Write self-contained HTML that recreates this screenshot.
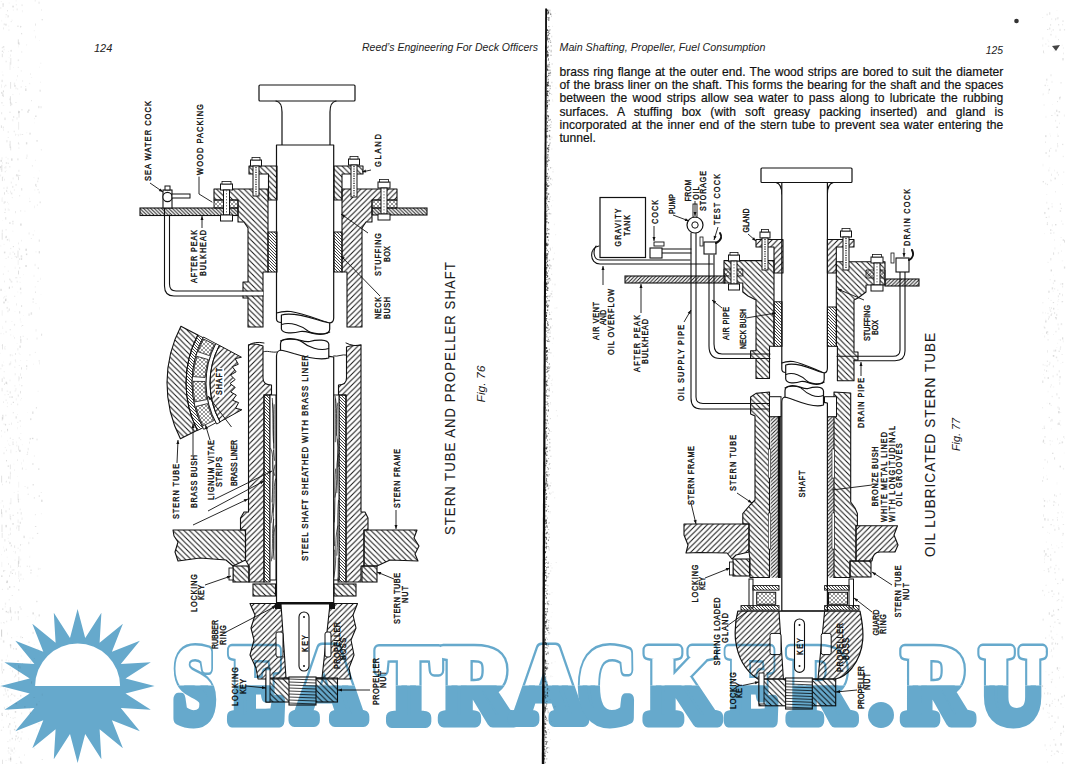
<!DOCTYPE html>
<html><head><meta charset="utf-8"><title>Reed's Engineering 124-125</title>
<style>html,body{margin:0;padding:0;background:#fff;overflow:hidden}svg{display:block}</style></head>
<body><svg width="1067" height="764" viewBox="0 0 1067 764"><defs>
<pattern id="h" patternUnits="userSpaceOnUse" width="4" height="4">
<path d="M-1,1 l2,-2 M0,4 l4,-4 M3,5 l2,-2" stroke="#111" stroke-width="0.95"/>
</pattern>
<pattern id="h2" patternUnits="userSpaceOnUse" width="4" height="4">
<path d="M-1,3 l2,2 M0,0 l4,4 M3,-1 l2,2" stroke="#111" stroke-width="0.95"/>
</pattern>
<pattern id="hs" patternUnits="userSpaceOnUse" width="5.5" height="5.5"><path d="M0,0 L5.5,5.5 M-1,4.5 L1,6.5 M4.5,-1 L6.5,1" stroke="#111" stroke-width="1"/></pattern>
<pattern id="ht" patternUnits="userSpaceOnUse" width="5.5" height="5.5"><path d="M0,5.5 L5.5,0 M-1,1 L1,-1 M4.5,6.5 L6.5,4.5" stroke="#111" stroke-width="1"/></pattern>
<pattern id="hb" patternUnits="userSpaceOnUse" width="3" height="3"><path d="M0,0 L3,3 M-1,2 L1,4 M2,-1 L4,1" stroke="#111" stroke-width="0.8"/></pattern>
<pattern id="hx" patternUnits="userSpaceOnUse" width="4" height="4"><path d="M0,0 L4,4 M0,4 L4,0" stroke="#444" stroke-width="0.55"/></pattern>
<pattern id="hp" patternUnits="userSpaceOnUse" width="3.6" height="3.6"><path d="M0,0 L3.6,3.6 M-1,2.6 L1,4.6 M2.6,-1 L4.6,1" stroke="#111" stroke-width="0.95"/></pattern>
<pattern id="hq" patternUnits="userSpaceOnUse" width="3.6" height="3.6"><path d="M0,3.6 L3.6,0 M-1,1 L1,-1 M2.6,4.6 L4.6,2.6" stroke="#111" stroke-width="0.95"/></pattern>
<clipPath id="topc"><rect x="0" y="0" width="1067" height="685.5"/></clipPath>
<clipPath id="botc"><rect x="0" y="685.5" width="1067" height="100"/></clipPath>
</defs>
<path d="M545.2,8.5 L547.0,8.5 L544.3,764 L541.8,764 Z" fill="#0d0d0d"/>
<rect x="546.1" y="253.2" width="1.1" height="0.7" fill="#222" opacity="0.71"/>
<rect x="546.1" y="413.4" width="0.6" height="1.2" fill="#222" opacity="0.65"/>
<rect x="547.6" y="36.8" width="0.7" height="0.7" fill="#222" opacity="0.63"/>
<rect x="548.7" y="329.2" width="0.7" height="0.9" fill="#222" opacity="0.37"/>
<rect x="550.4" y="482.5" width="1.1" height="1.1" fill="#222" opacity="0.11"/>
<rect x="544.2" y="746.1" width="1.3" height="0.9" fill="#222" opacity="0.74"/>
<rect x="546.5" y="117.5" width="0.8" height="1.6" fill="#222" opacity="0.72"/>
<rect x="547.8" y="145.0" width="1.1" height="1.0" fill="#222" opacity="0.56"/>
<rect x="545.3" y="422.3" width="0.6" height="0.8" fill="#222" opacity="0.74"/>
<rect x="545.9" y="522.5" width="0.9" height="1.3" fill="#222" opacity="0.63"/>
<rect x="546.1" y="350.9" width="1.2" height="1.4" fill="#222" opacity="0.67"/>
<rect x="547.6" y="192.9" width="1.0" height="1.7" fill="#222" opacity="0.56"/>
<rect x="545.3" y="559.6" width="1.4" height="0.7" fill="#222" opacity="0.68"/>
<rect x="548.1" y="324.4" width="0.7" height="1.2" fill="#222" opacity="0.44"/>
<rect x="548.6" y="38.1" width="1.2" height="1.3" fill="#222" opacity="0.51"/>
<rect x="545.0" y="669.9" width="1.2" height="1.3" fill="#222" opacity="0.67"/>
<rect x="546.2" y="446.6" width="1.3" height="1.7" fill="#222" opacity="0.62"/>
<rect x="547.4" y="366.7" width="0.6" height="1.4" fill="#222" opacity="0.51"/>
<rect x="554.0" y="497.4" width="1.3" height="0.9" fill="#222" opacity="0.08"/>
<rect x="547.7" y="300.0" width="0.6" height="1.2" fill="#222" opacity="0.51"/>
<rect x="546.5" y="135.5" width="0.6" height="1.5" fill="#222" opacity="0.72"/>
<rect x="546.9" y="106.2" width="0.9" height="1.6" fill="#222" opacity="0.69"/>
<rect x="547.6" y="69.4" width="1.0" height="1.7" fill="#222" opacity="0.62"/>
<rect x="548.1" y="627.5" width="0.8" height="1.1" fill="#222" opacity="0.31"/>
<rect x="549.7" y="279.6" width="1.4" height="0.8" fill="#222" opacity="0.28"/>
<rect x="546.7" y="141.6" width="0.8" height="1.2" fill="#222" opacity="0.69"/>
<rect x="545.7" y="453.6" width="0.6" height="1.1" fill="#222" opacity="0.68"/>
<rect x="547.2" y="287.5" width="1.4" height="1.4" fill="#222" opacity="0.57"/>
<rect x="547.1" y="398.0" width="1.1" height="0.7" fill="#222" opacity="0.54"/>
<rect x="547.0" y="688.1" width="1.3" height="1.6" fill="#222" opacity="0.42"/>
<rect x="546.6" y="304.9" width="0.7" height="1.4" fill="#222" opacity="0.64"/>
<rect x="546.7" y="55.5" width="0.8" height="0.8" fill="#222" opacity="0.73"/>
<rect x="545.9" y="265.4" width="0.6" height="0.8" fill="#222" opacity="0.74"/>
<rect x="547.2" y="85.2" width="0.6" height="1.6" fill="#222" opacity="0.65"/>
<rect x="545.3" y="472.4" width="0.8" height="1.0" fill="#222" opacity="0.71"/>
<rect x="546.0" y="283.6" width="1.3" height="1.8" fill="#222" opacity="0.72"/>
<rect x="546.6" y="360.6" width="0.7" height="0.7" fill="#222" opacity="0.61"/>
<rect x="546.3" y="267.4" width="1.3" height="0.8" fill="#222" opacity="0.68"/>
<rect x="552.1" y="25.9" width="1.0" height="0.8" fill="#222" opacity="0.09"/>
<rect x="545.3" y="418.9" width="1.0" height="1.8" fill="#222" opacity="0.74"/>
<rect x="546.5" y="660.7" width="0.8" height="1.0" fill="#222" opacity="0.49"/>
<rect x="548.9" y="134.7" width="1.0" height="1.5" fill="#222" opacity="0.43"/>
<rect x="546.3" y="257.6" width="1.2" height="1.8" fill="#222" opacity="0.69"/>
<rect x="547.4" y="652.7" width="1.3" height="1.5" fill="#222" opacity="0.39"/>
<rect x="547.4" y="179.8" width="0.9" height="0.6" fill="#222" opacity="0.59"/>
<rect x="547.2" y="29.6" width="0.8" height="1.4" fill="#222" opacity="0.68"/>
<rect x="545.2" y="731.1" width="1.3" height="1.8" fill="#222" opacity="0.62"/>
<rect x="544.9" y="730.0" width="0.8" height="0.9" fill="#222" opacity="0.65"/>
<rect x="546.6" y="157.1" width="1.1" height="1.7" fill="#222" opacity="0.70"/>
<rect x="545.6" y="643.4" width="1.1" height="1.6" fill="#222" opacity="0.61"/>
<rect x="548.4" y="72.6" width="1.3" height="1.5" fill="#222" opacity="0.51"/>
<rect x="545.9" y="575.2" width="0.7" height="1.5" fill="#222" opacity="0.61"/>
<rect x="548.7" y="259.7" width="1.4" height="1.1" fill="#222" opacity="0.40"/>
<rect x="551.0" y="311.7" width="1.2" height="0.8" fill="#222" opacity="0.11"/>
<rect x="546.7" y="104.5" width="1.3" height="1.6" fill="#222" opacity="0.71"/>
<rect x="549.5" y="118.9" width="1.4" height="1.4" fill="#222" opacity="0.37"/>
<rect x="547.2" y="273.2" width="0.7" height="0.6" fill="#222" opacity="0.58"/>
<rect x="546.0" y="742.0" width="1.0" height="1.7" fill="#222" opacity="0.52"/>
<rect x="549.3" y="336.2" width="1.3" height="0.9" fill="#222" opacity="0.30"/>
<rect x="546.7" y="198.8" width="0.8" height="1.3" fill="#222" opacity="0.67"/>
<rect x="547.0" y="204.5" width="0.7" height="1.7" fill="#222" opacity="0.63"/>
<rect x="546.9" y="275.8" width="1.1" height="1.7" fill="#222" opacity="0.62"/>
<rect x="550.1" y="326.3" width="1.0" height="1.2" fill="#222" opacity="0.21"/>
<rect x="545.3" y="404.0" width="1.0" height="0.8" fill="#222" opacity="0.75"/>
<rect x="549.6" y="11.5" width="0.7" height="1.2" fill="#222" opacity="0.40"/>
<rect x="546.2" y="556.4" width="0.9" height="1.2" fill="#222" opacity="0.57"/>
<rect x="548.0" y="428.1" width="0.7" height="1.3" fill="#222" opacity="0.42"/>
<rect x="546.6" y="196.2" width="1.2" height="1.2" fill="#222" opacity="0.68"/>
<rect x="547.8" y="432.9" width="1.3" height="1.1" fill="#222" opacity="0.44"/>
<rect x="546.3" y="471.3" width="1.0" height="1.4" fill="#222" opacity="0.60"/>
<rect x="546.9" y="350.2" width="1.0" height="1.7" fill="#222" opacity="0.58"/>
<rect x="548.6" y="536.8" width="1.4" height="0.9" fill="#222" opacity="0.29"/>
<rect x="550.4" y="431.2" width="1.3" height="0.8" fill="#222" opacity="0.12"/>
<rect x="547.4" y="100.4" width="0.7" height="0.9" fill="#222" opacity="0.62"/>
<rect x="548.5" y="63.7" width="1.2" height="1.7" fill="#222" opacity="0.51"/>
<rect x="548.6" y="125.2" width="1.1" height="0.8" fill="#222" opacity="0.48"/>
<rect x="550.5" y="675.5" width="0.8" height="1.7" fill="#222" opacity="0.08"/>
<rect x="546.8" y="309.4" width="1.4" height="1.6" fill="#222" opacity="0.60"/>
<rect x="547.3" y="130.5" width="1.0" height="1.0" fill="#222" opacity="0.63"/>
<rect x="546.9" y="156.4" width="1.2" height="0.6" fill="#222" opacity="0.67"/>
<rect x="546.3" y="427.1" width="0.6" height="1.0" fill="#222" opacity="0.62"/>
<rect x="546.3" y="479.9" width="0.7" height="1.8" fill="#222" opacity="0.59"/>
<rect x="551.1" y="604.1" width="0.7" height="0.9" fill="#222" opacity="0.08"/>
<rect x="549.3" y="38.4" width="0.8" height="0.8" fill="#222" opacity="0.42"/>
<rect x="550.0" y="327.5" width="1.3" height="0.9" fill="#222" opacity="0.22"/>
<rect x="550.9" y="121.3" width="1.1" height="1.4" fill="#222" opacity="0.20"/>
<rect x="546.6" y="76.1" width="1.2" height="1.1" fill="#222" opacity="0.74"/>
<rect x="551.6" y="63.2" width="1.1" height="1.6" fill="#222" opacity="0.14"/>
<rect x="550.0" y="71.8" width="0.7" height="1.6" fill="#222" opacity="0.33"/>
<rect x="546.2" y="351.3" width="1.0" height="1.7" fill="#222" opacity="0.66"/>
<rect x="546.2" y="210.9" width="1.0" height="0.9" fill="#222" opacity="0.72"/>
<rect x="546.7" y="91.2" width="0.6" height="0.8" fill="#222" opacity="0.71"/>
<rect x="546.5" y="244.2" width="1.2" height="0.9" fill="#222" opacity="0.67"/>
<rect x="545.7" y="386.3" width="0.9" height="0.6" fill="#222" opacity="0.71"/>
<rect x="546.1" y="197.7" width="1.2" height="1.3" fill="#222" opacity="0.75"/>
<rect x="547.4" y="151.6" width="1.3" height="0.7" fill="#222" opacity="0.61"/>
<rect x="545.5" y="627.2" width="1.0" height="1.6" fill="#222" opacity="0.63"/>
<rect x="546.9" y="305.5" width="1.2" height="1.8" fill="#222" opacity="0.60"/>
<rect x="549.0" y="267.4" width="1.2" height="1.4" fill="#222" opacity="0.36"/>
<rect x="546.4" y="314.2" width="0.6" height="0.8" fill="#222" opacity="0.66"/>
<rect x="549.0" y="61.9" width="0.8" height="0.8" fill="#222" opacity="0.46"/>
<rect x="549.8" y="72.3" width="1.3" height="1.4" fill="#222" opacity="0.35"/>
<rect x="546.4" y="221.5" width="0.8" height="1.2" fill="#222" opacity="0.69"/>
<rect x="547.3" y="127.5" width="0.8" height="1.8" fill="#222" opacity="0.62"/>
<rect x="545.5" y="743.3" width="0.8" height="1.8" fill="#222" opacity="0.58"/>
<rect x="546.7" y="242.4" width="0.6" height="1.1" fill="#222" opacity="0.65"/>
<rect x="546.7" y="367.1" width="0.8" height="1.2" fill="#222" opacity="0.60"/>
<rect x="547.2" y="12.2" width="0.7" height="1.1" fill="#222" opacity="0.68"/>
<rect x="546.6" y="40.0" width="0.8" height="0.9" fill="#222" opacity="0.75"/>
<rect x="546.5" y="450.9" width="1.2" height="1.4" fill="#222" opacity="0.59"/>
<rect x="548.6" y="549.4" width="0.9" height="1.0" fill="#222" opacity="0.29"/>
<rect x="544.3" y="752.5" width="1.2" height="1.4" fill="#222" opacity="0.71"/>
<rect x="549.9" y="41.6" width="1.3" height="1.4" fill="#222" opacity="0.36"/>
<rect x="547.8" y="562.9" width="0.7" height="1.2" fill="#222" opacity="0.39"/>
<rect x="548.6" y="389.6" width="1.2" height="1.6" fill="#222" opacity="0.36"/>
<rect x="549.2" y="449.8" width="1.1" height="1.4" fill="#222" opacity="0.26"/>
<rect x="546.1" y="182.2" width="0.7" height="1.0" fill="#222" opacity="0.74"/>
<rect x="549.7" y="87.8" width="1.0" height="1.4" fill="#222" opacity="0.36"/>
<rect x="547.1" y="481.6" width="1.0" height="0.6" fill="#222" opacity="0.50"/>
<rect x="547.1" y="611.2" width="1.0" height="1.2" fill="#222" opacity="0.45"/>
<rect x="545.0" y="506.6" width="1.2" height="0.9" fill="#222" opacity="0.74"/>
<rect x="547.1" y="64.7" width="1.2" height="0.8" fill="#222" opacity="0.68"/>
<rect x="551.5" y="567.4" width="1.0" height="1.1" fill="#222" opacity="0.08"/>
<rect x="547.5" y="370.4" width="1.2" height="1.3" fill="#222" opacity="0.50"/>
<rect x="545.1" y="494.1" width="0.7" height="0.9" fill="#222" opacity="0.73"/>
<rect x="545.4" y="570.0" width="1.1" height="0.6" fill="#222" opacity="0.67"/>
<rect x="547.1" y="54.3" width="1.1" height="1.4" fill="#222" opacity="0.68"/>
<rect x="545.5" y="519.0" width="1.0" height="1.2" fill="#222" opacity="0.68"/>
<rect x="545.7" y="360.8" width="1.3" height="0.8" fill="#222" opacity="0.72"/>
<rect x="549.1" y="747.5" width="0.6" height="1.2" fill="#222" opacity="0.15"/>
<rect x="550.8" y="627.9" width="1.0" height="0.9" fill="#222" opacity="0.08"/>
<rect x="551.4" y="167.0" width="0.8" height="1.3" fill="#222" opacity="0.11"/>
<rect x="547.7" y="115.6" width="1.4" height="0.8" fill="#222" opacity="0.59"/>
<rect x="545.8" y="628.2" width="1.3" height="1.4" fill="#222" opacity="0.59"/>
<rect x="550.2" y="183.3" width="1.0" height="0.6" fill="#222" opacity="0.25"/>
<rect x="547.9" y="11.2" width="1.0" height="1.0" fill="#222" opacity="0.60"/>
<rect x="547.1" y="114.8" width="0.9" height="1.6" fill="#222" opacity="0.66"/>
<rect x="549.2" y="9.8" width="1.3" height="0.7" fill="#222" opacity="0.45"/>
<rect x="546.5" y="708.4" width="1.3" height="0.9" fill="#222" opacity="0.48"/>
<rect x="546.6" y="289.7" width="1.4" height="1.3" fill="#222" opacity="0.64"/>
<rect x="546.7" y="281.0" width="0.8" height="0.7" fill="#222" opacity="0.63"/>
<rect x="549.7" y="85.3" width="0.8" height="1.7" fill="#222" opacity="0.36"/>
<rect x="546.6" y="196.9" width="1.0" height="0.8" fill="#222" opacity="0.68"/>
<rect x="551.4" y="290.6" width="1.3" height="1.6" fill="#222" opacity="0.08"/>
<rect x="549.4" y="485.1" width="1.4" height="1.3" fill="#222" opacity="0.22"/>
<rect x="544.8" y="552.1" width="1.2" height="1.1" fill="#222" opacity="0.74"/>
<rect x="546.5" y="577.1" width="0.8" height="0.7" fill="#222" opacity="0.52"/>
<rect x="544.4" y="708.7" width="1.0" height="1.0" fill="#222" opacity="0.72"/>
<rect x="548.3" y="233.5" width="1.4" height="0.9" fill="#222" opacity="0.46"/>
<rect x="545.6" y="504.1" width="1.0" height="1.1" fill="#222" opacity="0.67"/>
<rect x="546.6" y="134.9" width="0.8" height="1.7" fill="#222" opacity="0.71"/>
<rect x="545.8" y="384.0" width="1.3" height="1.8" fill="#222" opacity="0.70"/>
<rect x="545.8" y="348.4" width="0.8" height="0.7" fill="#222" opacity="0.72"/>
<rect x="546.0" y="266.8" width="0.8" height="0.9" fill="#222" opacity="0.73"/>
<rect x="549.1" y="438.8" width="1.2" height="1.1" fill="#222" opacity="0.27"/>
<rect x="546.9" y="321.2" width="0.9" height="1.0" fill="#222" opacity="0.59"/>
<rect x="547.1" y="55.4" width="1.4" height="0.8" fill="#222" opacity="0.68"/>
<rect x="547.1" y="388.8" width="1.3" height="0.9" fill="#222" opacity="0.53"/>
<rect x="546.5" y="213.3" width="0.9" height="1.1" fill="#222" opacity="0.69"/>
<rect x="547.6" y="729.2" width="1.3" height="0.6" fill="#222" opacity="0.34"/>
<rect x="548.9" y="32.9" width="1.3" height="1.2" fill="#222" opacity="0.48"/>
<rect x="545.1" y="452.1" width="0.9" height="1.7" fill="#222" opacity="0.75"/>
<rect x="548.0" y="632.2" width="1.4" height="0.9" fill="#222" opacity="0.33"/>
<rect x="546.7" y="90.9" width="1.0" height="1.4" fill="#222" opacity="0.71"/>
<rect x="546.5" y="719.8" width="1.1" height="1.5" fill="#222" opacity="0.47"/>
<rect x="546.9" y="354.0" width="0.6" height="1.5" fill="#222" opacity="0.58"/>
<rect x="550.7" y="184.2" width="1.1" height="1.0" fill="#222" opacity="0.20"/>
<rect x="546.9" y="105.2" width="1.1" height="1.4" fill="#222" opacity="0.69"/>
<rect x="546.5" y="93.2" width="1.0" height="1.3" fill="#222" opacity="0.73"/>
<rect x="546.1" y="301.7" width="1.1" height="0.6" fill="#222" opacity="0.69"/>
<rect x="547.0" y="236.3" width="1.4" height="1.4" fill="#222" opacity="0.62"/>
<rect x="545.5" y="676.2" width="0.8" height="0.9" fill="#222" opacity="0.61"/>
<rect x="546.3" y="734.2" width="0.8" height="0.6" fill="#222" opacity="0.48"/>
<rect x="547.4" y="385.0" width="0.9" height="0.9" fill="#222" opacity="0.51"/>
<rect x="549.6" y="512.7" width="0.8" height="0.6" fill="#222" opacity="0.18"/>
<rect x="546.8" y="263.9" width="1.1" height="0.8" fill="#222" opacity="0.63"/>
<rect x="547.0" y="610.7" width="1.0" height="0.8" fill="#222" opacity="0.46"/>
<rect x="544.8" y="741.2" width="1.3" height="0.9" fill="#222" opacity="0.67"/>
<rect x="548.7" y="175.8" width="0.8" height="1.7" fill="#222" opacity="0.44"/>
<rect x="545.7" y="383.1" width="0.8" height="1.1" fill="#222" opacity="0.70"/>
<rect x="550.3" y="511.1" width="0.7" height="1.1" fill="#222" opacity="0.10"/>
<rect x="552.8" y="169.4" width="0.7" height="0.7" fill="#222" opacity="0.08"/>
<rect x="547.4" y="53.9" width="1.3" height="1.7" fill="#222" opacity="0.64"/>
<rect x="555.6" y="562.1" width="1.3" height="1.0" fill="#222" opacity="0.08"/>
<rect x="551.2" y="148.7" width="1.2" height="0.6" fill="#222" opacity="0.15"/>
<rect x="545.8" y="510.5" width="0.9" height="1.0" fill="#222" opacity="0.65"/>
<rect x="546.2" y="136.4" width="0.8" height="1.0" fill="#222" opacity="0.75"/>
<rect x="544.4" y="730.4" width="1.4" height="0.8" fill="#222" opacity="0.72"/>
<rect x="548.9" y="277.9" width="1.3" height="1.1" fill="#222" opacity="0.37"/>
<rect x="547.7" y="45.7" width="0.9" height="1.7" fill="#222" opacity="0.61"/>
<rect x="547.0" y="154.3" width="1.3" height="0.6" fill="#222" opacity="0.65"/>
<rect x="548.6" y="318.9" width="1.2" height="0.6" fill="#222" opacity="0.39"/>
<rect x="546.7" y="34.8" width="1.3" height="0.9" fill="#222" opacity="0.74"/>
<rect x="548.8" y="573.1" width="0.9" height="0.9" fill="#222" opacity="0.25"/>
<rect x="545.9" y="732.0" width="0.8" height="1.5" fill="#222" opacity="0.54"/>
<rect x="546.4" y="247.6" width="0.6" height="1.5" fill="#222" opacity="0.68"/>
<rect x="546.1" y="700.9" width="1.4" height="0.6" fill="#222" opacity="0.53"/>
<rect x="547.2" y="185.2" width="1.4" height="1.7" fill="#222" opacity="0.61"/>
<rect x="546.2" y="300.5" width="0.9" height="1.2" fill="#222" opacity="0.69"/>
<rect x="544.6" y="709.7" width="1.2" height="1.5" fill="#222" opacity="0.71"/>
<rect x="547.2" y="630.1" width="1.1" height="1.0" fill="#222" opacity="0.43"/>
<rect x="546.7" y="249.9" width="1.2" height="0.7" fill="#222" opacity="0.65"/>
<rect x="548.7" y="157.6" width="0.8" height="0.7" fill="#222" opacity="0.45"/>
<rect x="548.1" y="34.1" width="0.9" height="1.8" fill="#222" opacity="0.57"/>
<rect x="552.3" y="676.0" width="0.8" height="0.7" fill="#222" opacity="0.08"/>
<rect x="547.7" y="81.3" width="1.2" height="1.1" fill="#222" opacity="0.60"/>
<rect x="547.0" y="185.4" width="1.1" height="1.4" fill="#222" opacity="0.63"/>
<rect x="548.1" y="573.6" width="1.1" height="0.7" fill="#222" opacity="0.34"/>
<rect x="545.1" y="643.8" width="1.1" height="1.0" fill="#222" opacity="0.67"/>
<rect x="545.1" y="566.1" width="0.8" height="0.9" fill="#222" opacity="0.70"/>
<rect x="550.2" y="124.3" width="1.1" height="1.0" fill="#222" opacity="0.28"/>
<rect x="554.5" y="307.7" width="1.0" height="0.9" fill="#222" opacity="0.08"/>
<rect x="546.4" y="619.3" width="1.4" height="0.7" fill="#222" opacity="0.52"/>
<rect x="548.5" y="367.2" width="1.3" height="1.7" fill="#222" opacity="0.38"/>
<rect x="547.2" y="39.0" width="0.7" height="0.8" fill="#222" opacity="0.67"/>
<rect x="545.7" y="743.6" width="1.3" height="1.0" fill="#222" opacity="0.56"/>
<rect x="545.4" y="662.9" width="0.8" height="1.5" fill="#222" opacity="0.62"/>
<rect x="544.3" y="723.0" width="1.1" height="1.3" fill="#222" opacity="0.73"/>
<rect x="546.9" y="172.9" width="0.7" height="0.8" fill="#222" opacity="0.65"/>
<rect x="547.7" y="201.1" width="1.1" height="0.8" fill="#222" opacity="0.55"/>
<rect x="547.4" y="17.1" width="1.1" height="0.8" fill="#222" opacity="0.66"/>
<rect x="546.3" y="244.4" width="1.2" height="1.3" fill="#222" opacity="0.70"/>
<rect x="546.7" y="56.3" width="0.9" height="1.3" fill="#222" opacity="0.73"/>
<rect x="545.1" y="491.4" width="0.7" height="1.4" fill="#222" opacity="0.73"/>
<rect x="546.2" y="318.1" width="0.8" height="1.7" fill="#222" opacity="0.68"/>
<rect x="547.4" y="244.5" width="0.9" height="1.1" fill="#222" opacity="0.57"/>
<rect x="554.7" y="661.4" width="0.9" height="0.8" fill="#222" opacity="0.08"/>
<rect x="545.1" y="558.5" width="0.6" height="1.7" fill="#222" opacity="0.70"/>
<rect x="548.7" y="328.6" width="0.9" height="1.7" fill="#222" opacity="0.38"/>
<rect x="545.8" y="356.7" width="0.6" height="1.3" fill="#222" opacity="0.71"/>
<rect x="549.3" y="492.5" width="0.7" height="1.3" fill="#222" opacity="0.23"/>
<rect x="547.0" y="288.7" width="0.7" height="0.9" fill="#222" opacity="0.60"/>
<rect x="550.0" y="402.2" width="0.7" height="1.2" fill="#222" opacity="0.18"/>
<rect x="550.7" y="616.5" width="0.8" height="0.8" fill="#222" opacity="0.08"/>
<rect x="550.9" y="721.0" width="1.0" height="0.7" fill="#222" opacity="0.08"/>
<rect x="545.1" y="708.2" width="1.3" height="1.3" fill="#222" opacity="0.64"/>
<rect x="544.8" y="631.5" width="1.2" height="0.9" fill="#222" opacity="0.71"/>
<rect x="549.0" y="314.1" width="1.3" height="0.8" fill="#222" opacity="0.34"/>
<rect x="547.0" y="173.3" width="1.0" height="1.1" fill="#222" opacity="0.64"/>
<rect x="546.9" y="101.5" width="1.2" height="1.7" fill="#222" opacity="0.69"/>
<rect x="548.1" y="39.6" width="1.2" height="0.6" fill="#222" opacity="0.57"/>
<rect x="544.7" y="641.8" width="1.1" height="1.3" fill="#222" opacity="0.72"/>
<rect x="545.7" y="482.2" width="0.9" height="1.3" fill="#222" opacity="0.67"/>
<rect x="547.5" y="330.1" width="1.0" height="1.1" fill="#222" opacity="0.52"/>
<rect x="548.4" y="26.2" width="1.0" height="0.9" fill="#222" opacity="0.54"/>
<rect x="547.4" y="585.4" width="1.0" height="0.8" fill="#222" opacity="0.42"/>
<rect x="545.6" y="366.0" width="0.7" height="1.1" fill="#222" opacity="0.73"/>
<rect x="547.5" y="77.8" width="1.0" height="0.6" fill="#222" opacity="0.62"/>
<rect x="545.1" y="489.3" width="1.2" height="1.5" fill="#222" opacity="0.73"/>
<rect x="545.4" y="394.9" width="1.0" height="1.1" fill="#222" opacity="0.74"/>
<rect x="544.4" y="726.9" width="1.3" height="1.8" fill="#222" opacity="0.72"/>
<rect x="547.8" y="561.6" width="0.8" height="1.8" fill="#222" opacity="0.38"/>
<rect x="551.1" y="380.1" width="1.3" height="0.8" fill="#222" opacity="0.08"/>
<rect x="549.4" y="604.1" width="0.7" height="1.0" fill="#222" opacity="0.17"/>
<rect x="545.0" y="579.8" width="1.3" height="0.9" fill="#222" opacity="0.71"/>
<rect x="544.8" y="624.7" width="1.0" height="1.7" fill="#222" opacity="0.72"/>
<rect x="546.7" y="165.9" width="1.0" height="1.0" fill="#222" opacity="0.68"/>
<rect x="547.0" y="36.3" width="0.7" height="1.7" fill="#222" opacity="0.71"/>
<rect x="549.0" y="522.0" width="0.7" height="1.5" fill="#222" opacity="0.26"/>
<rect x="547.8" y="95.4" width="1.1" height="1.0" fill="#222" opacity="0.58"/>
<rect x="545.8" y="668.0" width="1.1" height="1.7" fill="#222" opacity="0.57"/>
<rect x="555.4" y="87.5" width="1.1" height="1.1" fill="#222" opacity="0.08"/>
<rect x="545.1" y="611.1" width="1.4" height="1.3" fill="#222" opacity="0.68"/>
<rect x="548.4" y="280.7" width="1.0" height="0.8" fill="#222" opacity="0.43"/>
<rect x="544.8" y="570.3" width="1.3" height="0.9" fill="#222" opacity="0.74"/>
<rect x="552.5" y="491.4" width="1.1" height="1.4" fill="#222" opacity="0.08"/>
<rect x="545.9" y="244.7" width="0.6" height="0.8" fill="#222" opacity="0.75"/>
<rect x="546.1" y="473.9" width="1.0" height="1.7" fill="#222" opacity="0.63"/>
<rect x="546.8" y="108.2" width="1.1" height="0.6" fill="#222" opacity="0.69"/>
<rect x="547.5" y="10.5" width="0.7" height="1.0" fill="#222" opacity="0.65"/>
<rect x="547.7" y="177.9" width="1.1" height="0.8" fill="#222" opacity="0.56"/>
<rect x="546.2" y="479.9" width="0.7" height="1.7" fill="#222" opacity="0.61"/>
<rect x="546.3" y="192.5" width="0.7" height="1.4" fill="#222" opacity="0.71"/>
<rect x="547.1" y="666.8" width="0.9" height="0.9" fill="#222" opacity="0.42"/>
<rect x="548.6" y="17.2" width="1.0" height="1.0" fill="#222" opacity="0.52"/>
<rect x="546.0" y="496.3" width="1.3" height="1.5" fill="#222" opacity="0.62"/>
<rect x="550.3" y="196.2" width="0.6" height="1.2" fill="#222" opacity="0.24"/>
<rect x="546.1" y="315.2" width="0.6" height="1.5" fill="#222" opacity="0.69"/>
<rect x="548.1" y="17.8" width="1.4" height="0.8" fill="#222" opacity="0.58"/>
<rect x="547.9" y="159.2" width="1.0" height="1.4" fill="#222" opacity="0.55"/>
<rect x="544.9" y="623.0" width="0.8" height="1.0" fill="#222" opacity="0.71"/>
<rect x="550.6" y="45.1" width="1.2" height="1.5" fill="#222" opacity="0.27"/>
<rect x="550.1" y="13.3" width="1.2" height="1.2" fill="#222" opacity="0.34"/>
<rect x="545.8" y="568.9" width="0.8" height="0.7" fill="#222" opacity="0.62"/>
<rect x="546.1" y="184.0" width="0.9" height="1.5" fill="#222" opacity="0.74"/>
<rect x="548.2" y="533.7" width="1.2" height="0.9" fill="#222" opacity="0.34"/>
<rect x="546.2" y="426.9" width="1.2" height="1.2" fill="#222" opacity="0.63"/>
<rect x="547.9" y="208.9" width="1.4" height="0.9" fill="#222" opacity="0.53"/>
<rect x="544.4" y="673.4" width="0.8" height="0.9" fill="#222" opacity="0.75"/>
<rect x="550.0" y="570.5" width="1.2" height="1.0" fill="#222" opacity="0.12"/>
<rect x="545.0" y="673.5" width="0.8" height="1.7" fill="#222" opacity="0.66"/>
<rect x="547.1" y="485.0" width="1.1" height="1.8" fill="#222" opacity="0.49"/>
<rect x="548.8" y="363.2" width="1.2" height="1.6" fill="#222" opacity="0.35"/>
<rect x="547.9" y="338.8" width="1.1" height="1.0" fill="#222" opacity="0.47"/>
<rect x="547.9" y="168.6" width="0.7" height="1.7" fill="#222" opacity="0.54"/>
<rect x="546.4" y="117.7" width="0.7" height="1.7" fill="#222" opacity="0.74"/>
<rect x="546.0" y="269.0" width="0.6" height="0.6" fill="#222" opacity="0.72"/>
<rect x="546.7" y="531.8" width="1.2" height="1.5" fill="#222" opacity="0.53"/>
<rect x="548.1" y="58.2" width="0.9" height="1.6" fill="#222" opacity="0.56"/>
<rect x="548.5" y="627.7" width="0.7" height="1.6" fill="#222" opacity="0.27"/>
<rect x="549.5" y="699.3" width="0.7" height="0.8" fill="#222" opacity="0.12"/>
<rect x="546.5" y="93.1" width="1.3" height="1.6" fill="#222" opacity="0.74"/>
<rect x="548.2" y="487.6" width="1.1" height="0.9" fill="#222" opacity="0.37"/>
<rect x="546.6" y="84.0" width="1.2" height="0.8" fill="#222" opacity="0.73"/>
<rect x="546.8" y="249.6" width="0.6" height="0.9" fill="#222" opacity="0.63"/>
<rect x="548.2" y="222.0" width="0.9" height="1.0" fill="#222" opacity="0.48"/>
<rect x="545.4" y="736.8" width="1.3" height="1.3" fill="#222" opacity="0.60"/>
<rect x="547.6" y="31.9" width="0.9" height="1.5" fill="#222" opacity="0.63"/>
<rect x="548.0" y="270.5" width="1.0" height="0.9" fill="#222" opacity="0.48"/>
<rect x="544.5" y="659.9" width="1.3" height="0.8" fill="#222" opacity="0.73"/>
<rect x="547.1" y="9.5" width="1.2" height="1.8" fill="#222" opacity="0.70"/>
<rect x="547.9" y="11.8" width="1.0" height="1.6" fill="#222" opacity="0.60"/>
<rect x="547.4" y="147.9" width="0.9" height="1.6" fill="#222" opacity="0.60"/>
<rect x="551.2" y="205.4" width="0.8" height="0.9" fill="#222" opacity="0.12"/>
<rect x="546.1" y="537.0" width="0.7" height="1.4" fill="#222" opacity="0.60"/>
<rect x="549.3" y="69.6" width="1.2" height="1.5" fill="#222" opacity="0.41"/>
<rect x="545.8" y="482.9" width="0.9" height="1.1" fill="#222" opacity="0.65"/>
<rect x="544.5" y="681.2" width="1.3" height="0.6" fill="#222" opacity="0.73"/>
<rect x="546.7" y="164.2" width="1.3" height="1.2" fill="#222" opacity="0.68"/>
<rect x="549.6" y="295.1" width="0.8" height="1.2" fill="#222" opacity="0.28"/>
<rect x="547.8" y="410.1" width="1.2" height="1.4" fill="#222" opacity="0.44"/>
<rect x="546.5" y="271.8" width="0.7" height="1.6" fill="#222" opacity="0.66"/>
<rect x="547.4" y="508.7" width="0.7" height="1.1" fill="#222" opacity="0.45"/>
<rect x="546.2" y="592.8" width="0.7" height="1.2" fill="#222" opacity="0.56"/>
<rect x="544.8" y="677.2" width="0.8" height="1.0" fill="#222" opacity="0.69"/>
<rect x="548.2" y="539.7" width="0.7" height="0.8" fill="#222" opacity="0.35"/>
<rect x="546.8" y="195.5" width="1.0" height="0.8" fill="#222" opacity="0.66"/>
<rect x="546.2" y="256.4" width="1.4" height="1.5" fill="#222" opacity="0.70"/>
<rect x="552.4" y="85.4" width="0.7" height="1.1" fill="#222" opacity="0.08"/>
<rect x="546.9" y="751.8" width="1.2" height="1.1" fill="#222" opacity="0.40"/>
<rect x="548.0" y="156.7" width="0.7" height="0.8" fill="#222" opacity="0.53"/>
<rect x="545.7" y="301.9" width="0.9" height="1.5" fill="#222" opacity="0.74"/>
<rect x="546.1" y="532.4" width="1.1" height="1.2" fill="#222" opacity="0.60"/>
<rect x="548.0" y="115.6" width="0.9" height="1.5" fill="#222" opacity="0.55"/>
<rect x="545.3" y="694.5" width="1.1" height="1.5" fill="#222" opacity="0.63"/>
<rect x="546.0" y="326.7" width="1.2" height="1.7" fill="#222" opacity="0.69"/>
<rect x="546.8" y="593.3" width="1.3" height="1.4" fill="#222" opacity="0.49"/>
<rect x="546.1" y="493.2" width="0.9" height="1.4" fill="#222" opacity="0.62"/>
<rect x="547.4" y="82.4" width="1.2" height="1.5" fill="#222" opacity="0.63"/>
<rect x="545.5" y="484.2" width="0.9" height="1.1" fill="#222" opacity="0.69"/>
<rect x="546.0" y="478.1" width="1.1" height="1.7" fill="#222" opacity="0.64"/>
<rect x="548.1" y="146.8" width="1.2" height="1.1" fill="#222" opacity="0.52"/>
<rect x="552.1" y="378.6" width="0.6" height="1.3" fill="#222" opacity="0.08"/>
<rect x="549.0" y="130.0" width="1.4" height="1.2" fill="#222" opacity="0.42"/>
<rect x="548.0" y="84.9" width="1.0" height="1.5" fill="#222" opacity="0.56"/>
<rect x="547.2" y="395.5" width="1.3" height="1.2" fill="#222" opacity="0.53"/>
<rect x="551.0" y="318.5" width="0.8" height="1.4" fill="#222" opacity="0.11"/>
<rect x="548.3" y="305.0" width="0.7" height="1.8" fill="#222" opacity="0.44"/>
<rect x="545.8" y="277.1" width="0.8" height="1.1" fill="#222" opacity="0.74"/>
<rect x="547.7" y="18.6" width="0.9" height="1.4" fill="#222" opacity="0.63"/>
<rect x="546.3" y="274.5" width="0.8" height="1.5" fill="#222" opacity="0.68"/>
<rect x="545.5" y="718.6" width="0.8" height="1.6" fill="#222" opacity="0.59"/>
<rect x="546.1" y="304.6" width="0.7" height="1.5" fill="#222" opacity="0.70"/>
<rect x="546.3" y="620.1" width="1.0" height="1.3" fill="#222" opacity="0.53"/>
<rect x="552.1" y="179.2" width="0.9" height="1.4" fill="#222" opacity="0.08"/>
<rect x="547.6" y="627.1" width="1.0" height="1.0" fill="#222" opacity="0.38"/>
<rect x="545.5" y="422.7" width="1.3" height="1.0" fill="#222" opacity="0.72"/>
<rect x="545.0" y="651.2" width="0.9" height="0.9" fill="#222" opacity="0.68"/>
<rect x="545.9" y="330.4" width="0.6" height="1.5" fill="#222" opacity="0.71"/>
<rect x="546.5" y="221.0" width="0.8" height="1.2" fill="#222" opacity="0.69"/>
<rect x="547.4" y="332.2" width="1.1" height="1.0" fill="#222" opacity="0.53"/>
<rect x="547.7" y="710.2" width="0.6" height="1.6" fill="#222" opacity="0.33"/>
<rect x="547.0" y="692.8" width="0.7" height="1.6" fill="#222" opacity="0.42"/>
<rect x="545.0" y="486.9" width="0.6" height="1.7" fill="#222" opacity="0.75"/>
<rect x="545.5" y="504.1" width="0.7" height="0.8" fill="#222" opacity="0.69"/>
<rect x="548.8" y="185.0" width="0.9" height="0.8" fill="#222" opacity="0.42"/>
<rect x="547.1" y="691.5" width="0.7" height="1.7" fill="#222" opacity="0.41"/>
<rect x="547.8" y="468.1" width="1.1" height="1.7" fill="#222" opacity="0.42"/>
<rect x="547.9" y="603.9" width="0.8" height="1.4" fill="#222" opacity="0.35"/>
<rect x="547.7" y="409.5" width="1.0" height="1.7" fill="#222" opacity="0.45"/>
<rect x="545.8" y="427.9" width="0.8" height="0.8" fill="#222" opacity="0.68"/>
<rect x="545.5" y="381.0" width="1.0" height="0.8" fill="#222" opacity="0.74"/>
<rect x="546.6" y="379.7" width="1.0" height="1.6" fill="#222" opacity="0.60"/>
<rect x="550.0" y="13.5" width="1.0" height="1.3" fill="#222" opacity="0.35"/>
<rect x="548.2" y="511.1" width="0.9" height="1.1" fill="#222" opacity="0.35"/>
<rect x="544.2" y="734.2" width="1.1" height="1.4" fill="#222" opacity="0.73"/>
<rect x="548.3" y="30.1" width="1.1" height="1.7" fill="#222" opacity="0.54"/>
<rect x="553.1" y="258.2" width="1.0" height="1.2" fill="#222" opacity="0.08"/>
<rect x="544.3" y="686.6" width="1.2" height="1.4" fill="#222" opacity="0.74"/>
<rect x="549.4" y="264.3" width="0.9" height="1.2" fill="#222" opacity="0.32"/>
<rect x="548.0" y="405.5" width="0.8" height="1.1" fill="#222" opacity="0.43"/>
<rect x="547.0" y="327.6" width="1.3" height="1.0" fill="#222" opacity="0.57"/>
<rect x="545.4" y="633.9" width="1.0" height="0.9" fill="#222" opacity="0.64"/>
<rect x="552.0" y="391.1" width="1.1" height="1.6" fill="#222" opacity="0.08"/>
<rect x="546.5" y="258.5" width="0.8" height="1.3" fill="#222" opacity="0.67"/>
<rect x="547.8" y="488.1" width="0.6" height="1.5" fill="#222" opacity="0.42"/>
<rect x="545.7" y="677.6" width="0.6" height="1.0" fill="#222" opacity="0.58"/>
<rect x="547.1" y="13.2" width="1.3" height="1.3" fill="#222" opacity="0.70"/>
<rect x="547.8" y="505.6" width="1.3" height="1.3" fill="#222" opacity="0.41"/>
<rect x="546.8" y="474.4" width="1.2" height="1.3" fill="#222" opacity="0.53"/>
<rect x="545.3" y="523.0" width="1.1" height="1.1" fill="#222" opacity="0.70"/>
<rect x="544.8" y="584.7" width="0.7" height="0.6" fill="#222" opacity="0.73"/>
<rect x="549.1" y="593.7" width="1.1" height="1.0" fill="#222" opacity="0.21"/>
<rect x="547.3" y="630.0" width="1.0" height="0.9" fill="#222" opacity="0.41"/>
<rect x="546.9" y="236.7" width="0.9" height="1.1" fill="#222" opacity="0.63"/>
<rect x="549.9" y="493.4" width="0.6" height="1.3" fill="#222" opacity="0.16"/>
<rect x="546.8" y="38.3" width="1.2" height="1.3" fill="#222" opacity="0.72"/>
<rect x="545.3" y="702.5" width="0.6" height="1.1" fill="#222" opacity="0.62"/>
<rect x="550.1" y="455.7" width="1.4" height="1.2" fill="#222" opacity="0.14"/>
<rect x="545.8" y="320.1" width="1.1" height="0.9" fill="#222" opacity="0.73"/>
<rect x="546.3" y="123.2" width="0.6" height="1.4" fill="#222" opacity="0.75"/>
<rect x="552.5" y="100.4" width="0.7" height="1.6" fill="#222" opacity="0.08"/>
<rect x="546.4" y="105.9" width="1.2" height="0.9" fill="#222" opacity="0.75"/>
<rect x="545.1" y="562.7" width="0.6" height="1.5" fill="#222" opacity="0.70"/>
<rect x="548.3" y="547.6" width="1.2" height="0.7" fill="#222" opacity="0.33"/>
<rect x="547.2" y="483.4" width="1.0" height="1.7" fill="#222" opacity="0.48"/>
<rect x="552.1" y="200.4" width="1.2" height="0.6" fill="#222" opacity="0.08"/>
<rect x="548.6" y="19.6" width="1.3" height="0.7" fill="#222" opacity="0.52"/>
<rect x="548.2" y="243.5" width="0.7" height="1.6" fill="#222" opacity="0.46"/>
<rect x="545.5" y="375.9" width="0.9" height="1.3" fill="#222" opacity="0.74"/>
<rect x="547.6" y="340.0" width="0.7" height="1.6" fill="#222" opacity="0.50"/>
<rect x="547.6" y="282.9" width="1.1" height="1.1" fill="#222" opacity="0.52"/>
<rect x="548.5" y="299.9" width="1.4" height="1.5" fill="#222" opacity="0.41"/>
<rect x="545.8" y="436.7" width="0.6" height="1.8" fill="#222" opacity="0.67"/>
<rect x="548.0" y="539.8" width="0.9" height="1.3" fill="#222" opacity="0.37"/>
<rect x="547.3" y="747.0" width="1.1" height="1.0" fill="#222" opacity="0.36"/>
<rect x="549.5" y="332.3" width="0.9" height="1.4" fill="#222" opacity="0.27"/>
<rect x="549.2" y="463.1" width="1.2" height="0.9" fill="#222" opacity="0.26"/>
<rect x="547.3" y="9.8" width="0.9" height="1.3" fill="#222" opacity="0.68"/>
<rect x="548.5" y="625.0" width="0.6" height="1.6" fill="#222" opacity="0.27"/>
<rect x="548.2" y="621.8" width="1.1" height="0.9" fill="#222" opacity="0.31"/>
<rect x="547.4" y="651.6" width="1.1" height="1.7" fill="#222" opacity="0.39"/>
<rect x="545.9" y="270.5" width="1.0" height="1.6" fill="#222" opacity="0.73"/>
<rect x="548.7" y="159.9" width="1.3" height="0.9" fill="#222" opacity="0.45"/>
<rect x="547.1" y="467.0" width="1.0" height="0.8" fill="#222" opacity="0.50"/>
<rect x="548.5" y="201.0" width="1.2" height="1.2" fill="#222" opacity="0.45"/>
<rect x="549.5" y="74.8" width="1.2" height="0.9" fill="#222" opacity="0.39"/>
<rect x="549.3" y="446.4" width="1.3" height="1.2" fill="#222" opacity="0.25"/>
<rect x="547.0" y="368.6" width="0.8" height="0.8" fill="#222" opacity="0.56"/>
<rect x="548.4" y="145.0" width="0.9" height="1.3" fill="#222" opacity="0.49"/>
<rect x="546.9" y="312.6" width="0.7" height="0.7" fill="#222" opacity="0.59"/>
<rect x="544.9" y="761.8" width="0.7" height="1.4" fill="#222" opacity="0.65"/>
<rect x="544.9" y="603.3" width="1.1" height="1.0" fill="#222" opacity="0.71"/>
<rect x="545.3" y="400.9" width="0.6" height="1.8" fill="#222" opacity="0.75"/>
<rect x="545.6" y="662.8" width="1.1" height="0.9" fill="#222" opacity="0.60"/>
<rect x="545.6" y="597.2" width="1.4" height="1.5" fill="#222" opacity="0.63"/>
<rect x="550.5" y="627.1" width="0.8" height="0.6" fill="#222" opacity="0.08"/>
<rect x="546.5" y="160.3" width="0.7" height="0.7" fill="#222" opacity="0.71"/>
<rect x="548.9" y="429.6" width="1.0" height="1.7" fill="#222" opacity="0.30"/>
<rect x="544.4" y="695.9" width="1.1" height="1.1" fill="#222" opacity="0.74"/>
<rect x="552.2" y="99.1" width="0.8" height="1.3" fill="#222" opacity="0.08"/>
<rect x="550.7" y="492.5" width="1.1" height="1.1" fill="#222" opacity="0.08"/>
<rect x="545.8" y="347.2" width="1.4" height="1.8" fill="#222" opacity="0.71"/>
<rect x="546.2" y="176.0" width="0.8" height="1.0" fill="#222" opacity="0.74"/>
<rect x="548.5" y="690.5" width="1.3" height="0.7" fill="#222" opacity="0.24"/>
<rect x="546.8" y="602.6" width="1.1" height="1.8" fill="#222" opacity="0.48"/>
<rect x="546.8" y="50.6" width="1.2" height="1.7" fill="#222" opacity="0.72"/>
<rect x="545.5" y="519.9" width="1.1" height="1.5" fill="#222" opacity="0.67"/>
<rect x="547.1" y="88.1" width="0.8" height="0.7" fill="#222" opacity="0.66"/>
<rect x="545.7" y="372.1" width="0.8" height="0.8" fill="#222" opacity="0.71"/>
<rect x="544.9" y="520.5" width="1.2" height="0.8" fill="#222" opacity="0.75"/>
<rect x="551.4" y="35.7" width="0.8" height="1.7" fill="#222" opacity="0.18"/>
<rect x="548.4" y="663.3" width="0.7" height="1.1" fill="#222" opacity="0.27"/>
<rect x="551.2" y="81.8" width="1.3" height="1.4" fill="#222" opacity="0.17"/>
<rect x="546.2" y="350.2" width="1.3" height="1.2" fill="#222" opacity="0.66"/>
<rect x="545.3" y="483.1" width="0.8" height="0.7" fill="#222" opacity="0.72"/>
<rect x="546.2" y="547.7" width="0.7" height="1.6" fill="#222" opacity="0.57"/>
<rect x="546.9" y="209.8" width="0.7" height="0.9" fill="#222" opacity="0.63"/>
<rect x="545.2" y="642.8" width="0.7" height="1.2" fill="#222" opacity="0.66"/>
<rect x="550.1" y="248.8" width="0.7" height="1.8" fill="#222" opacity="0.24"/>
<rect x="550.6" y="51.5" width="1.1" height="0.9" fill="#222" opacity="0.26"/>
<rect x="546.0" y="369.2" width="0.8" height="0.8" fill="#222" opacity="0.68"/>
<rect x="554.3" y="283.7" width="1.4" height="1.7" fill="#222" opacity="0.08"/>
<rect x="547.1" y="82.2" width="1.3" height="0.7" fill="#222" opacity="0.68"/>
<rect x="545.4" y="557.4" width="1.4" height="0.6" fill="#222" opacity="0.67"/>
<rect x="545.3" y="618.2" width="0.7" height="0.6" fill="#222" opacity="0.66"/>
<rect x="545.8" y="637.3" width="0.7" height="1.1" fill="#222" opacity="0.59"/>
<rect x="544.7" y="697.5" width="1.1" height="0.8" fill="#222" opacity="0.70"/>
<rect x="548.9" y="144.6" width="1.2" height="0.8" fill="#222" opacity="0.43"/>
<rect x="546.7" y="68.4" width="1.1" height="1.2" fill="#222" opacity="0.73"/>
<rect x="546.4" y="215.4" width="1.1" height="1.4" fill="#222" opacity="0.70"/>
<rect x="546.1" y="621.7" width="0.8" height="0.7" fill="#222" opacity="0.56"/>
<rect x="545.7" y="562.1" width="1.2" height="0.7" fill="#222" opacity="0.64"/>
<rect x="545.3" y="620.9" width="1.3" height="1.6" fill="#222" opacity="0.66"/>
<rect x="545.4" y="381.0" width="1.3" height="1.2" fill="#222" opacity="0.75"/>
<rect x="544.9" y="667.3" width="0.7" height="1.6" fill="#222" opacity="0.68"/>
<rect x="546.0" y="285.8" width="0.9" height="1.3" fill="#222" opacity="0.71"/>
<rect x="548.0" y="12.0" width="1.0" height="1.2" fill="#222" opacity="0.59"/>
<rect x="548.7" y="99.7" width="1.3" height="1.6" fill="#222" opacity="0.48"/>
<rect x="548.1" y="251.0" width="0.9" height="1.5" fill="#222" opacity="0.48"/>
<rect x="550.3" y="54.7" width="1.4" height="1.2" fill="#222" opacity="0.30"/>
<rect x="546.7" y="396.3" width="1.0" height="0.6" fill="#222" opacity="0.59"/>
<rect x="544.5" y="739.4" width="0.7" height="0.7" fill="#222" opacity="0.69"/>
<rect x="549.1" y="197.7" width="0.6" height="0.7" fill="#222" opacity="0.38"/>
<rect x="545.2" y="536.6" width="0.6" height="1.3" fill="#222" opacity="0.70"/>
<rect x="546.5" y="444.0" width="1.2" height="0.7" fill="#222" opacity="0.59"/>
<rect x="546.6" y="665.4" width="0.6" height="0.7" fill="#222" opacity="0.47"/>
<rect x="546.6" y="381.4" width="0.8" height="0.7" fill="#222" opacity="0.60"/>
<rect x="545.9" y="315.0" width="1.1" height="1.6" fill="#222" opacity="0.72"/>
<rect x="547.8" y="119.7" width="1.2" height="0.8" fill="#222" opacity="0.56"/>
<rect x="549.5" y="632.6" width="0.9" height="1.1" fill="#222" opacity="0.14"/>
<rect x="545.8" y="642.9" width="0.9" height="1.7" fill="#222" opacity="0.59"/>
<rect x="545.4" y="595.5" width="0.8" height="1.0" fill="#222" opacity="0.66"/>
<rect x="552.8" y="337.6" width="1.2" height="1.7" fill="#222" opacity="0.08"/>
<rect x="547.9" y="624.3" width="0.6" height="1.2" fill="#222" opacity="0.34"/>
<rect x="549.1" y="732.2" width="0.8" height="1.1" fill="#222" opacity="0.16"/>
<rect x="545.8" y="486.5" width="1.0" height="0.7" fill="#222" opacity="0.65"/>
<rect x="546.8" y="335.7" width="0.6" height="0.8" fill="#222" opacity="0.60"/>
<rect x="546.8" y="741.1" width="1.3" height="1.4" fill="#222" opacity="0.42"/>
<rect x="548.4" y="619.9" width="1.3" height="0.6" fill="#222" opacity="0.28"/>
<rect x="545.5" y="493.2" width="1.1" height="0.9" fill="#222" opacity="0.68"/>
<rect x="549.9" y="418.2" width="1.1" height="0.9" fill="#222" opacity="0.19"/>
<rect x="546.3" y="401.6" width="1.4" height="0.9" fill="#222" opacity="0.63"/>
<rect x="547.8" y="239.2" width="0.7" height="1.3" fill="#222" opacity="0.52"/>
<rect x="545.4" y="730.8" width="0.8" height="1.2" fill="#222" opacity="0.59"/>
<rect x="545.6" y="411.8" width="0.7" height="0.8" fill="#222" opacity="0.71"/>
<rect x="546.9" y="230.3" width="0.8" height="0.9" fill="#222" opacity="0.64"/>
<rect x="547.9" y="74.9" width="1.3" height="1.3" fill="#222" opacity="0.58"/>
<rect x="547.1" y="439.3" width="0.8" height="1.5" fill="#222" opacity="0.52"/>
<rect x="546.9" y="356.7" width="1.1" height="1.2" fill="#222" opacity="0.58"/>
<rect x="546.4" y="243.1" width="0.8" height="1.2" fill="#222" opacity="0.69"/>
<rect x="547.3" y="298.0" width="0.6" height="1.0" fill="#222" opacity="0.56"/>
<rect x="544.9" y="659.6" width="1.0" height="1.2" fill="#222" opacity="0.69"/>
<rect x="553.9" y="223.7" width="0.8" height="1.5" fill="#222" opacity="0.08"/>
<rect x="546.4" y="128.3" width="1.3" height="1.1" fill="#222" opacity="0.73"/>
<rect x="547.4" y="55.4" width="1.0" height="1.5" fill="#222" opacity="0.64"/>
<rect x="546.9" y="91.0" width="1.4" height="1.5" fill="#222" opacity="0.69"/>
<rect x="547.0" y="125.2" width="0.9" height="1.4" fill="#222" opacity="0.66"/>
<rect x="548.5" y="474.1" width="1.3" height="1.2" fill="#222" opacity="0.34"/>
<rect x="547.2" y="566.6" width="1.2" height="1.2" fill="#222" opacity="0.45"/>
<rect x="546.8" y="601.5" width="1.3" height="0.8" fill="#222" opacity="0.48"/>
<rect x="544.4" y="666.4" width="1.2" height="1.3" fill="#222" opacity="0.75"/>
<rect x="551.3" y="384.7" width="1.1" height="1.1" fill="#222" opacity="0.08"/>
<rect x="548.3" y="600.6" width="1.1" height="1.1" fill="#222" opacity="0.30"/>
<rect x="546.6" y="350.2" width="1.2" height="1.0" fill="#222" opacity="0.62"/>
<rect x="547.1" y="303.7" width="0.9" height="1.0" fill="#222" opacity="0.57"/>
<rect x="548.0" y="603.1" width="1.0" height="1.1" fill="#222" opacity="0.34"/>
<rect x="546.9" y="147.7" width="0.7" height="1.3" fill="#222" opacity="0.67"/>
<rect x="545.3" y="447.9" width="1.3" height="1.0" fill="#222" opacity="0.73"/>
<rect x="547.7" y="645.7" width="1.4" height="0.8" fill="#222" opacity="0.35"/>
<rect x="549.9" y="330.7" width="0.6" height="0.7" fill="#222" opacity="0.22"/>
<rect x="546.4" y="435.3" width="1.3" height="1.5" fill="#222" opacity="0.60"/>
<rect x="556.9" y="415.3" width="1.0" height="1.2" fill="#222" opacity="0.08"/>
<rect x="545.7" y="526.2" width="0.9" height="1.3" fill="#222" opacity="0.64"/>
<rect x="551.1" y="273.8" width="1.1" height="1.2" fill="#222" opacity="0.11"/>
<rect x="547.3" y="83.3" width="0.9" height="1.3" fill="#222" opacity="0.65"/>
<rect x="549.0" y="442.2" width="1.4" height="1.2" fill="#222" opacity="0.29"/>
<rect x="547.3" y="341.0" width="1.4" height="1.0" fill="#222" opacity="0.54"/>
<rect x="548.3" y="409.0" width="0.7" height="1.0" fill="#222" opacity="0.38"/>
<rect x="547.2" y="747.7" width="1.0" height="0.7" fill="#222" opacity="0.37"/>
<rect x="546.4" y="684.3" width="1.3" height="1.8" fill="#222" opacity="0.49"/>
<rect x="545.3" y="679.5" width="0.7" height="0.9" fill="#222" opacity="0.63"/>
<rect x="546.6" y="395.0" width="0.8" height="0.8" fill="#222" opacity="0.60"/>
<rect x="546.7" y="484.5" width="0.9" height="1.8" fill="#222" opacity="0.55"/>
<rect x="545.1" y="489.4" width="0.9" height="1.5" fill="#222" opacity="0.74"/>
<rect x="548.0" y="240.2" width="0.6" height="1.0" fill="#222" opacity="0.49"/>
<rect x="546.0" y="644.8" width="1.1" height="0.8" fill="#222" opacity="0.56"/>
<rect x="546.8" y="384.6" width="0.8" height="1.4" fill="#222" opacity="0.57"/>
<rect x="555.9" y="410.0" width="1.1" height="1.1" fill="#222" opacity="0.08"/>
<rect x="546.7" y="100.3" width="1.2" height="0.7" fill="#222" opacity="0.71"/>
<rect x="546.8" y="84.1" width="1.0" height="1.6" fill="#222" opacity="0.71"/>
<rect x="548.0" y="471.6" width="0.6" height="0.6" fill="#222" opacity="0.39"/>
<rect x="545.3" y="590.7" width="1.2" height="1.0" fill="#222" opacity="0.66"/>
<rect x="546.8" y="136.5" width="0.7" height="1.7" fill="#222" opacity="0.68"/>
<rect x="545.9" y="448.4" width="1.0" height="1.1" fill="#222" opacity="0.66"/>
<rect x="550.6" y="49.8" width="1.1" height="1.8" fill="#222" opacity="0.27"/>
<rect x="547.3" y="340.6" width="0.8" height="0.7" fill="#222" opacity="0.54"/>
<rect x="547.7" y="711.7" width="0.9" height="1.7" fill="#222" opacity="0.33"/>
<rect x="545.2" y="624.9" width="1.1" height="1.8" fill="#222" opacity="0.67"/>
<rect x="550.8" y="382.9" width="0.8" height="1.1" fill="#222" opacity="0.10"/>
<rect x="545.2" y="551.3" width="0.8" height="1.7" fill="#222" opacity="0.70"/>
<rect x="548.3" y="374.5" width="0.8" height="0.8" fill="#222" opacity="0.41"/>
<rect x="546.1" y="279.3" width="1.4" height="0.9" fill="#222" opacity="0.70"/>
<rect x="545.4" y="432.7" width="1.0" height="1.1" fill="#222" opacity="0.72"/>
<rect x="545.7" y="313.1" width="0.7" height="1.6" fill="#222" opacity="0.74"/>
<rect x="546.3" y="273.9" width="0.8" height="0.9" fill="#222" opacity="0.69"/>
<rect x="546.1" y="187.7" width="1.1" height="1.0" fill="#222" opacity="0.74"/>
<rect x="548.5" y="126.3" width="0.7" height="0.9" fill="#222" opacity="0.48"/>
<rect x="544.7" y="639.3" width="1.0" height="1.6" fill="#222" opacity="0.72"/>
<rect x="544.8" y="616.6" width="0.9" height="1.5" fill="#222" opacity="0.71"/>
<rect x="551.5" y="293.2" width="0.8" height="1.7" fill="#222" opacity="0.08"/>
<rect x="545.8" y="389.9" width="1.0" height="0.8" fill="#222" opacity="0.69"/>
<rect x="545.3" y="542.2" width="1.3" height="1.3" fill="#222" opacity="0.68"/>
<rect x="546.2" y="286.5" width="1.1" height="0.9" fill="#222" opacity="0.69"/>
<rect x="544.6" y="667.6" width="1.0" height="1.3" fill="#222" opacity="0.72"/>
<rect x="548.7" y="212.8" width="0.9" height="1.4" fill="#222" opacity="0.43"/>
<rect x="545.8" y="437.4" width="0.9" height="0.7" fill="#222" opacity="0.67"/>
<rect x="549.7" y="142.3" width="0.9" height="1.4" fill="#222" opacity="0.33"/>
<rect x="547.9" y="90.8" width="0.9" height="1.2" fill="#222" opacity="0.57"/>
<rect x="546.0" y="232.9" width="0.8" height="0.9" fill="#222" opacity="0.74"/>
<rect x="548.7" y="103.8" width="0.8" height="1.1" fill="#222" opacity="0.47"/>
<rect x="547.0" y="695.2" width="1.3" height="1.6" fill="#222" opacity="0.42"/>
<rect x="546.9" y="108.4" width="0.6" height="1.4" fill="#222" opacity="0.68"/>
<rect x="545.7" y="509.9" width="0.9" height="1.4" fill="#222" opacity="0.66"/>
<rect x="545.3" y="536.8" width="1.3" height="1.0" fill="#222" opacity="0.69"/>
<rect x="545.4" y="483.6" width="0.7" height="1.7" fill="#222" opacity="0.71"/>
<rect x="547.0" y="563.1" width="0.6" height="0.6" fill="#222" opacity="0.48"/>
<rect x="546.7" y="130.9" width="0.8" height="1.1" fill="#222" opacity="0.70"/>
<rect x="547.3" y="38.1" width="1.1" height="0.8" fill="#222" opacity="0.67"/>
<rect x="546.0" y="642.7" width="1.2" height="0.9" fill="#222" opacity="0.57"/>
<rect x="547.6" y="337.1" width="0.9" height="0.6" fill="#222" opacity="0.50"/>
<rect x="547.2" y="638.8" width="0.8" height="0.7" fill="#222" opacity="0.42"/>
<rect x="546.1" y="653.8" width="0.6" height="0.9" fill="#222" opacity="0.55"/>
<rect x="549.2" y="92.5" width="0.8" height="1.7" fill="#222" opacity="0.41"/>
<rect x="544.8" y="574.8" width="1.2" height="1.1" fill="#222" opacity="0.73"/>
<rect x="547.9" y="573.3" width="0.8" height="0.7" fill="#222" opacity="0.36"/>
<rect x="545.1" y="723.5" width="1.3" height="1.4" fill="#222" opacity="0.63"/>
<rect x="547.9" y="566.5" width="1.1" height="1.1" fill="#222" opacity="0.36"/>
<rect x="548.7" y="49.5" width="0.9" height="1.2" fill="#222" opacity="0.49"/>
<rect x="544.4" y="709.7" width="1.2" height="0.7" fill="#222" opacity="0.72"/>
<rect x="547.8" y="539.4" width="0.8" height="1.3" fill="#222" opacity="0.39"/>
<rect x="545.9" y="740.9" width="1.0" height="0.9" fill="#222" opacity="0.53"/>
<rect x="547.3" y="53.4" width="0.9" height="0.8" fill="#222" opacity="0.65"/>
<rect x="546.1" y="243.1" width="1.2" height="1.4" fill="#222" opacity="0.72"/>
<rect x="546.6" y="188.2" width="1.0" height="1.1" fill="#222" opacity="0.69"/>
<rect x="545.0" y="715.5" width="0.8" height="1.7" fill="#222" opacity="0.66"/>
<rect x="547.8" y="115.7" width="0.9" height="1.6" fill="#222" opacity="0.57"/>
<rect x="547.8" y="422.7" width="0.7" height="1.4" fill="#222" opacity="0.44"/>
<rect x="546.2" y="460.8" width="1.2" height="1.6" fill="#222" opacity="0.62"/>
<rect x="547.0" y="95.0" width="0.9" height="0.8" fill="#222" opacity="0.68"/>
<rect x="547.1" y="54.1" width="0.8" height="1.4" fill="#222" opacity="0.68"/>
<rect x="545.7" y="347.0" width="0.9" height="1.2" fill="#222" opacity="0.72"/>
<rect x="546.1" y="282.7" width="0.7" height="0.6" fill="#222" opacity="0.71"/>
<rect x="546.5" y="758.1" width="0.7" height="1.5" fill="#222" opacity="0.45"/>
<rect x="545.6" y="749.1" width="0.7" height="1.2" fill="#222" opacity="0.57"/>
<rect x="545.9" y="336.6" width="1.0" height="0.6" fill="#222" opacity="0.70"/>
<rect x="546.1" y="703.2" width="1.1" height="1.7" fill="#222" opacity="0.52"/>
<rect x="545.5" y="501.5" width="0.8" height="0.8" fill="#222" opacity="0.69"/>
<rect x="549.3" y="29.4" width="1.3" height="1.0" fill="#222" opacity="0.43"/>
<rect x="548.0" y="148.8" width="1.3" height="1.7" fill="#222" opacity="0.53"/>
<rect x="549.0" y="135.8" width="1.3" height="1.5" fill="#222" opacity="0.42"/>
<rect x="546.2" y="255.3" width="1.3" height="1.0" fill="#222" opacity="0.71"/>
<rect x="547.2" y="286.9" width="0.9" height="1.6" fill="#222" opacity="0.58"/>
<rect x="546.1" y="189.4" width="1.1" height="1.4" fill="#222" opacity="0.74"/>
<rect x="546.7" y="627.8" width="1.3" height="1.7" fill="#222" opacity="0.48"/>
<rect x="546.6" y="382.0" width="0.7" height="1.0" fill="#222" opacity="0.60"/>
<rect x="545.3" y="447.5" width="1.2" height="0.8" fill="#222" opacity="0.73"/>
<rect x="551.9" y="343.3" width="0.7" height="0.6" fill="#222" opacity="0.08"/>
<rect x="545.9" y="340.5" width="1.2" height="0.6" fill="#222" opacity="0.70"/>
<rect x="547.9" y="643.7" width="1.2" height="1.1" fill="#222" opacity="0.33"/>
<rect x="547.9" y="222.5" width="1.0" height="1.1" fill="#222" opacity="0.51"/>
<rect x="546.8" y="264.4" width="1.1" height="1.6" fill="#222" opacity="0.62"/>
<rect x="544.6" y="691.5" width="0.8" height="1.1" fill="#222" opacity="0.71"/>
<rect x="546.0" y="434.1" width="0.8" height="0.7" fill="#222" opacity="0.66"/>
<rect x="546.9" y="253.1" width="1.4" height="1.7" fill="#222" opacity="0.62"/>
<rect x="551.0" y="662.3" width="1.4" height="1.3" fill="#222" opacity="0.08"/>
<rect x="544.6" y="621.3" width="1.1" height="1.3" fill="#222" opacity="0.74"/>
<rect x="547.4" y="232.9" width="1.4" height="1.2" fill="#222" opacity="0.57"/>
<rect x="545.6" y="497.6" width="0.9" height="1.7" fill="#222" opacity="0.67"/>
<rect x="547.0" y="29.5" width="1.1" height="1.1" fill="#222" opacity="0.70"/>
<rect x="548.4" y="72.9" width="0.9" height="1.3" fill="#222" opacity="0.51"/>
<rect x="546.9" y="323.1" width="1.1" height="1.1" fill="#222" opacity="0.59"/>
<rect x="546.8" y="94.8" width="1.3" height="1.3" fill="#222" opacity="0.71"/>
<rect x="550.0" y="93.3" width="0.8" height="0.7" fill="#222" opacity="0.32"/>
<rect x="545.8" y="409.5" width="1.0" height="1.3" fill="#222" opacity="0.69"/>
<rect x="547.6" y="179.7" width="0.7" height="1.2" fill="#222" opacity="0.56"/>
<rect x="545.3" y="453.1" width="0.9" height="0.7" fill="#222" opacity="0.73"/>
<rect x="549.1" y="340.6" width="1.0" height="1.5" fill="#222" opacity="0.32"/>
<rect x="544.9" y="580.3" width="1.4" height="1.5" fill="#222" opacity="0.72"/>
<rect x="549.6" y="85.6" width="0.9" height="0.8" fill="#222" opacity="0.36"/>
<rect x="545.6" y="733.8" width="1.2" height="0.8" fill="#222" opacity="0.57"/>
<rect x="544.7" y="594.9" width="0.8" height="1.0" fill="#222" opacity="0.74"/>
<rect x="548.3" y="20.0" width="0.8" height="1.0" fill="#222" opacity="0.55"/>
<rect x="545.8" y="543.0" width="1.3" height="1.3" fill="#222" opacity="0.63"/>
<rect x="545.9" y="667.4" width="1.3" height="1.6" fill="#222" opacity="0.57"/>
<rect x="548.7" y="135.4" width="0.9" height="1.5" fill="#222" opacity="0.45"/>
<rect x="548.0" y="522.6" width="0.7" height="1.0" fill="#222" opacity="0.37"/>
<rect x="550.1" y="565.5" width="1.2" height="0.7" fill="#222" opacity="0.10"/>
<rect x="545.3" y="464.7" width="1.0" height="1.6" fill="#222" opacity="0.73"/>
<rect x="551.1" y="93.8" width="1.1" height="0.9" fill="#222" opacity="0.18"/>
<rect x="547.3" y="154.4" width="1.3" height="1.3" fill="#222" opacity="0.62"/>
<rect x="546.4" y="94.3" width="0.7" height="1.6" fill="#222" opacity="0.75"/>
<rect x="547.7" y="148.5" width="0.8" height="1.4" fill="#222" opacity="0.57"/>
<rect x="546.0" y="296.2" width="1.3" height="1.2" fill="#222" opacity="0.72"/>
<rect x="547.8" y="529.4" width="1.4" height="0.6" fill="#222" opacity="0.39"/>
<rect x="546.1" y="267.2" width="1.0" height="1.6" fill="#222" opacity="0.71"/>
<rect x="544.6" y="613.2" width="0.7" height="1.6" fill="#222" opacity="0.74"/>
<rect x="545.8" y="521.9" width="1.0" height="0.8" fill="#222" opacity="0.64"/>
<rect x="545.3" y="647.0" width="1.3" height="1.3" fill="#222" opacity="0.64"/>
<rect x="547.2" y="65.8" width="0.8" height="1.7" fill="#222" opacity="0.66"/>
<rect x="545.2" y="453.7" width="0.7" height="1.0" fill="#222" opacity="0.74"/>
<rect x="547.0" y="361.9" width="0.9" height="1.0" fill="#222" opacity="0.56"/>
<rect x="548.3" y="13.0" width="0.9" height="0.6" fill="#222" opacity="0.56"/>
<rect x="553.3" y="355.6" width="0.6" height="0.8" fill="#222" opacity="0.08"/>
<rect x="545.5" y="515.4" width="0.8" height="1.2" fill="#222" opacity="0.68"/>
<rect x="547.5" y="206.5" width="1.0" height="1.7" fill="#222" opacity="0.57"/>
<rect x="544.1" y="758.1" width="1.0" height="1.5" fill="#222" opacity="0.74"/>
<rect x="547.1" y="667.6" width="1.1" height="1.4" fill="#222" opacity="0.43"/>
<rect x="546.3" y="282.7" width="1.2" height="1.6" fill="#222" opacity="0.68"/>
<rect x="546.2" y="717.6" width="0.8" height="1.5" fill="#222" opacity="0.50"/>
<rect x="546.0" y="567.2" width="1.1" height="1.0" fill="#222" opacity="0.59"/>
<rect x="546.2" y="424.6" width="0.6" height="1.0" fill="#222" opacity="0.64"/>
<rect x="553.9" y="252.7" width="1.0" height="1.0" fill="#222" opacity="0.08"/>
<rect x="546.5" y="192.4" width="0.9" height="0.8" fill="#222" opacity="0.69"/>
<rect x="550.4" y="14.0" width="1.0" height="1.1" fill="#222" opacity="0.30"/>
<rect x="545.8" y="438.2" width="0.7" height="0.7" fill="#222" opacity="0.67"/>
<rect x="546.6" y="236.3" width="1.2" height="1.3" fill="#222" opacity="0.67"/>
<rect x="544.9" y="716.7" width="1.3" height="1.3" fill="#222" opacity="0.66"/>
<rect x="546.8" y="69.0" width="1.1" height="1.8" fill="#222" opacity="0.71"/>
<rect x="548.4" y="278.2" width="0.9" height="1.6" fill="#222" opacity="0.43"/>
<rect x="547.7" y="59.7" width="1.3" height="0.9" fill="#222" opacity="0.61"/>
<rect x="546.0" y="203.1" width="0.7" height="0.9" fill="#222" opacity="0.74"/>
<rect x="545.2" y="540.7" width="0.9" height="0.8" fill="#222" opacity="0.70"/>
<rect x="548.7" y="464.0" width="1.1" height="0.8" fill="#222" opacity="0.31"/>
<rect x="550.7" y="563.0" width="1.1" height="0.7" fill="#222" opacity="0.08"/>
<rect x="548.3" y="620.1" width="0.9" height="0.8" fill="#222" opacity="0.30"/>
<rect x="547.6" y="150.7" width="1.3" height="1.4" fill="#222" opacity="0.58"/>
<rect x="544.6" y="705.7" width="0.9" height="1.5" fill="#222" opacity="0.70"/>
<rect x="545.9" y="498.8" width="1.1" height="1.0" fill="#222" opacity="0.64"/>
<rect x="547.5" y="51.9" width="0.6" height="1.4" fill="#222" opacity="0.63"/>
<rect x="547.0" y="261.2" width="1.1" height="0.9" fill="#222" opacity="0.60"/>
<rect x="545.5" y="358.6" width="1.3" height="1.3" fill="#222" opacity="0.75"/>
<rect x="544.1" y="754.6" width="1.1" height="1.5" fill="#222" opacity="0.74"/>
<rect x="546.0" y="257.2" width="0.7" height="0.8" fill="#222" opacity="0.73"/>
<rect x="544.8" y="588.1" width="1.3" height="1.1" fill="#222" opacity="0.73"/>
<rect x="546.9" y="415.5" width="1.0" height="1.4" fill="#222" opacity="0.56"/>
<rect x="545.8" y="463.0" width="1.2" height="0.9" fill="#222" opacity="0.66"/>
<rect x="547.4" y="546.0" width="1.2" height="1.0" fill="#222" opacity="0.44"/>
<rect x="551.5" y="592.2" width="1.0" height="0.9" fill="#222" opacity="0.08"/>
<rect x="550.4" y="403.9" width="0.7" height="0.6" fill="#222" opacity="0.13"/>
<rect x="547.4" y="367.9" width="1.2" height="1.0" fill="#222" opacity="0.52"/>
<rect x="544.5" y="756.1" width="1.2" height="0.7" fill="#222" opacity="0.69"/>
<rect x="546.9" y="29.6" width="0.6" height="1.2" fill="#222" opacity="0.72"/>
<rect x="545.6" y="428.0" width="1.4" height="1.0" fill="#222" opacity="0.71"/>
<rect x="546.7" y="121.3" width="1.2" height="1.7" fill="#222" opacity="0.71"/>
<rect x="546.3" y="131.0" width="1.2" height="0.9" fill="#222" opacity="0.74"/>
<rect x="545.3" y="750.7" width="1.1" height="1.0" fill="#222" opacity="0.60"/>
<rect x="545.7" y="613.3" width="0.9" height="1.7" fill="#222" opacity="0.62"/>
<rect x="548.8" y="89.9" width="0.7" height="1.4" fill="#222" opacity="0.46"/>
<rect x="549.2" y="312.1" width="0.6" height="1.3" fill="#222" opacity="0.31"/>
<rect x="550.2" y="318.2" width="1.4" height="1.4" fill="#222" opacity="0.20"/>
<rect x="546.6" y="177.8" width="0.8" height="1.1" fill="#222" opacity="0.69"/>
<rect x="546.5" y="183.3" width="1.2" height="1.4" fill="#222" opacity="0.70"/>
<rect x="555.3" y="234.0" width="0.8" height="1.3" fill="#222" opacity="0.08"/>
<rect x="549.9" y="126.9" width="1.3" height="0.9" fill="#222" opacity="0.32"/>
<rect x="547.8" y="576.3" width="0.8" height="1.0" fill="#222" opacity="0.37"/>
<rect x="549.4" y="375.3" width="0.7" height="1.4" fill="#222" opacity="0.27"/>
<rect x="546.2" y="460.0" width="1.1" height="1.7" fill="#222" opacity="0.62"/>
<rect x="550.0" y="167.0" width="0.9" height="1.5" fill="#222" opacity="0.28"/>
<rect x="544.7" y="660.8" width="1.3" height="1.8" fill="#222" opacity="0.71"/>
<rect x="545.9" y="233.3" width="0.7" height="1.8" fill="#222" opacity="0.74"/>
<rect x="551.1" y="15.6" width="0.7" height="1.5" fill="#222" opacity="0.22"/>
<rect x="546.8" y="82.2" width="1.1" height="0.7" fill="#222" opacity="0.71"/>
<rect x="550.3" y="265.0" width="1.2" height="1.7" fill="#222" opacity="0.20"/>
<rect x="544.1" y="748.6" width="0.8" height="1.6" fill="#222" opacity="0.74"/>
<rect x="544.9" y="529.4" width="1.0" height="0.9" fill="#222" opacity="0.74"/>
<rect x="545.7" y="333.7" width="0.6" height="1.8" fill="#222" opacity="0.73"/>
<rect x="549.7" y="247.6" width="0.7" height="1.2" fill="#222" opacity="0.29"/>
<rect x="547.4" y="111.1" width="0.7" height="1.4" fill="#222" opacity="0.63"/>
<rect x="548.7" y="120.3" width="1.0" height="0.7" fill="#222" opacity="0.46"/>
<rect x="547.0" y="275.6" width="1.3" height="1.0" fill="#222" opacity="0.60"/>
<rect x="552.3" y="171.0" width="1.3" height="1.5" fill="#222" opacity="0.08"/>
<rect x="546.3" y="214.7" width="0.8" height="0.7" fill="#222" opacity="0.71"/>
<rect x="547.9" y="41.1" width="0.9" height="1.3" fill="#222" opacity="0.59"/>
<rect x="545.7" y="282.5" width="1.2" height="1.4" fill="#222" opacity="0.75"/>
<rect x="546.7" y="419.5" width="1.2" height="1.8" fill="#222" opacity="0.58"/>
<rect x="546.6" y="668.9" width="0.9" height="1.0" fill="#222" opacity="0.47"/>
<rect x="552.1" y="325.2" width="0.9" height="1.1" fill="#222" opacity="0.08"/>
<rect x="545.9" y="318.2" width="1.4" height="0.6" fill="#222" opacity="0.72"/>
<rect x="549.8" y="467.7" width="0.8" height="1.3" fill="#222" opacity="0.18"/>
<rect x="546.2" y="293.3" width="0.8" height="0.7" fill="#222" opacity="0.69"/>
<rect x="547.2" y="645.4" width="1.3" height="0.7" fill="#222" opacity="0.42"/>
<rect x="545.5" y="533.0" width="1.1" height="1.3" fill="#222" opacity="0.66"/>
<rect x="552.3" y="246.9" width="0.6" height="1.5" fill="#222" opacity="0.08"/>
<rect x="545.7" y="653.3" width="1.1" height="1.8" fill="#222" opacity="0.59"/>
<rect x="547.9" y="185.6" width="1.2" height="1.1" fill="#222" opacity="0.53"/>
<rect x="545.7" y="546.5" width="1.0" height="1.3" fill="#222" opacity="0.64"/>
<rect x="545.6" y="520.1" width="1.1" height="1.3" fill="#222" opacity="0.67"/>
<rect x="547.8" y="177.2" width="0.8" height="1.7" fill="#222" opacity="0.54"/>
<rect x="547.7" y="366.1" width="1.0" height="1.2" fill="#222" opacity="0.47"/>
<rect x="546.4" y="175.6" width="1.3" height="1.2" fill="#222" opacity="0.72"/>
<rect x="546.6" y="404.3" width="1.3" height="0.9" fill="#222" opacity="0.59"/>
<rect x="549.4" y="138.7" width="1.0" height="1.4" fill="#222" opacity="0.37"/>
<rect x="548.5" y="633.6" width="1.3" height="0.7" fill="#222" opacity="0.26"/>
<rect x="548.9" y="296.5" width="1.3" height="0.7" fill="#222" opacity="0.36"/>
<rect x="546.8" y="124.7" width="0.7" height="1.0" fill="#222" opacity="0.69"/>
<rect x="545.9" y="615.3" width="1.0" height="0.7" fill="#222" opacity="0.59"/>
<rect x="556.2" y="307.3" width="1.2" height="1.1" fill="#222" opacity="0.08"/>
<rect x="548.3" y="369.9" width="1.2" height="0.8" fill="#222" opacity="0.40"/>
<rect x="545.7" y="522.4" width="1.0" height="0.9" fill="#222" opacity="0.65"/>
<rect x="546.5" y="288.6" width="0.9" height="0.6" fill="#222" opacity="0.66"/>
<rect x="547.7" y="160.2" width="0.6" height="0.8" fill="#222" opacity="0.57"/>
<rect x="545.3" y="551.1" width="0.9" height="0.9" fill="#222" opacity="0.68"/>
<rect x="544.6" y="638.7" width="1.1" height="1.6" fill="#222" opacity="0.73"/>
<rect x="547.2" y="160.9" width="1.2" height="1.3" fill="#222" opacity="0.63"/>
<rect x="545.8" y="289.3" width="1.0" height="1.0" fill="#222" opacity="0.74"/>
<rect x="545.4" y="546.8" width="0.9" height="1.4" fill="#222" opacity="0.67"/>
<rect x="545.3" y="621.1" width="0.9" height="1.3" fill="#222" opacity="0.66"/>
<rect x="544.6" y="707.2" width="1.4" height="1.5" fill="#222" opacity="0.70"/>
<rect x="547.7" y="289.8" width="0.9" height="0.7" fill="#222" opacity="0.51"/>
<rect x="545.5" y="579.7" width="1.0" height="1.2" fill="#222" opacity="0.65"/>
<rect x="546.8" y="689.4" width="0.6" height="1.3" fill="#222" opacity="0.44"/>
<rect x="546.6" y="357.9" width="1.3" height="1.1" fill="#222" opacity="0.61"/>
<rect x="549.4" y="366.3" width="1.0" height="1.2" fill="#222" opacity="0.27"/>
<rect x="548.5" y="395.2" width="1.1" height="1.5" fill="#222" opacity="0.37"/>
<rect x="545.7" y="312.0" width="1.1" height="1.3" fill="#222" opacity="0.74"/>
<rect x="547.3" y="589.7" width="0.7" height="0.9" fill="#222" opacity="0.43"/>
<rect x="549.6" y="66.8" width="0.7" height="0.7" fill="#222" opacity="0.38"/>
<rect x="546.2" y="577.6" width="0.6" height="1.4" fill="#222" opacity="0.57"/>
<rect x="546.0" y="545.7" width="0.6" height="1.4" fill="#222" opacity="0.61"/>
<rect x="547.2" y="324.2" width="1.4" height="1.6" fill="#222" opacity="0.56"/>
<rect x="544.6" y="667.2" width="0.9" height="1.2" fill="#222" opacity="0.72"/>
<rect x="554.8" y="13.1" width="0.8" height="0.9" fill="#222" opacity="0.08"/>
<rect x="546.4" y="245.0" width="1.3" height="1.3" fill="#222" opacity="0.69"/>
<rect x="546.3" y="394.5" width="0.6" height="1.0" fill="#222" opacity="0.63"/>
<rect x="547.3" y="663.3" width="1.3" height="0.9" fill="#222" opacity="0.40"/>
<rect x="546.3" y="161.1" width="1.0" height="1.0" fill="#222" opacity="0.74"/>
<rect x="546.7" y="359.2" width="1.1" height="1.0" fill="#222" opacity="0.60"/>
<rect x="544.9" y="614.0" width="1.3" height="1.3" fill="#222" opacity="0.70"/>
<rect x="547.2" y="47.2" width="1.0" height="1.1" fill="#222" opacity="0.67"/>
<rect x="545.9" y="435.3" width="0.8" height="1.6" fill="#222" opacity="0.66"/>
<rect x="548.2" y="228.8" width="1.2" height="1.3" fill="#222" opacity="0.48"/>
<rect x="550.4" y="352.0" width="1.0" height="1.7" fill="#222" opacity="0.15"/>
<rect x="547.6" y="52.1" width="1.1" height="0.7" fill="#222" opacity="0.63"/>
<rect x="544.5" y="660.2" width="1.1" height="0.8" fill="#222" opacity="0.73"/>
<rect x="545.7" y="705.4" width="1.2" height="1.2" fill="#222" opacity="0.57"/>
<rect x="546.9" y="517.6" width="0.8" height="0.9" fill="#222" opacity="0.50"/>
<rect x="544.7" y="641.8" width="1.3" height="0.8" fill="#222" opacity="0.72"/>
<rect x="546.6" y="84.7" width="1.2" height="1.7" fill="#222" opacity="0.73"/>
<rect x="547.5" y="321.8" width="0.8" height="1.7" fill="#222" opacity="0.52"/>
<rect x="545.2" y="526.7" width="0.6" height="1.4" fill="#222" opacity="0.71"/>
<rect x="549.9" y="40.0" width="0.8" height="0.9" fill="#222" opacity="0.36"/>
<rect x="545.8" y="448.2" width="1.0" height="0.8" fill="#222" opacity="0.67"/>
<rect x="545.0" y="697.4" width="1.3" height="0.8" fill="#222" opacity="0.66"/>
<rect x="551.7" y="612.4" width="0.9" height="0.6" fill="#222" opacity="0.08"/>
<rect x="547.5" y="295.6" width="0.8" height="1.3" fill="#222" opacity="0.53"/>
<rect x="547.6" y="79.2" width="1.2" height="1.1" fill="#222" opacity="0.61"/>
<rect x="545.1" y="521.4" width="1.3" height="0.7" fill="#222" opacity="0.72"/>
<rect x="554.3" y="706.1" width="1.4" height="1.2" fill="#222" opacity="0.08"/>
<rect x="546.7" y="228.2" width="1.2" height="1.2" fill="#222" opacity="0.66"/>
<rect x="544.4" y="711.0" width="1.0" height="1.6" fill="#222" opacity="0.73"/>
<rect x="546.5" y="460.1" width="0.7" height="0.8" fill="#222" opacity="0.58"/>
<rect x="550.0" y="213.4" width="1.3" height="0.9" fill="#222" opacity="0.26"/>
<rect x="544.3" y="707.0" width="1.1" height="1.8" fill="#222" opacity="0.74"/>
<rect x="551.0" y="268.6" width="1.1" height="0.7" fill="#222" opacity="0.12"/>
<rect x="546.9" y="260.2" width="0.8" height="1.5" fill="#222" opacity="0.62"/>
<rect x="549.0" y="143.6" width="0.8" height="0.7" fill="#222" opacity="0.41"/>
<rect x="545.4" y="431.0" width="1.0" height="1.5" fill="#222" opacity="0.73"/>
<rect x="546.2" y="458.5" width="0.6" height="1.2" fill="#222" opacity="0.61"/>
<rect x="548.3" y="82.0" width="0.7" height="1.3" fill="#222" opacity="0.52"/>
<rect x="546.6" y="275.1" width="1.1" height="0.8" fill="#222" opacity="0.65"/>
<rect x="551.4" y="136.7" width="0.9" height="1.6" fill="#222" opacity="0.13"/>
<rect x="545.5" y="668.4" width="0.7" height="0.7" fill="#222" opacity="0.61"/>
<rect x="544.6" y="672.6" width="1.0" height="1.2" fill="#222" opacity="0.72"/>
<rect x="547.5" y="97.3" width="0.7" height="1.2" fill="#222" opacity="0.61"/>
<rect x="546.2" y="391.4" width="0.8" height="1.1" fill="#222" opacity="0.65"/>
<rect x="546.4" y="162.2" width="0.8" height="1.6" fill="#222" opacity="0.72"/>
<rect x="549.4" y="387.6" width="0.6" height="1.7" fill="#222" opacity="0.27"/>
<rect x="548.2" y="377.5" width="1.1" height="1.4" fill="#222" opacity="0.41"/>
<rect x="548.6" y="181.7" width="0.7" height="0.9" fill="#222" opacity="0.45"/>
<rect x="547.5" y="31.9" width="1.0" height="1.0" fill="#222" opacity="0.64"/>
<rect x="544.5" y="681.3" width="1.1" height="0.9" fill="#222" opacity="0.73"/>
<rect x="547.9" y="458.2" width="1.2" height="0.7" fill="#222" opacity="0.42"/>
<rect x="547.7" y="194.2" width="1.4" height="0.6" fill="#222" opacity="0.55"/>
<rect x="547.2" y="475.6" width="1.3" height="1.0" fill="#222" opacity="0.49"/>
<rect x="545.6" y="620.9" width="1.3" height="0.6" fill="#222" opacity="0.61"/>
<rect x="545.1" y="718.9" width="0.9" height="0.7" fill="#222" opacity="0.63"/>
<rect x="548.4" y="193.5" width="1.1" height="0.8" fill="#222" opacity="0.46"/>
<rect x="546.0" y="268.6" width="0.8" height="0.9" fill="#222" opacity="0.72"/>
<rect x="552.6" y="258.6" width="1.4" height="1.5" fill="#222" opacity="0.08"/>
<rect x="546.7" y="370.9" width="1.2" height="1.7" fill="#222" opacity="0.60"/>
<rect x="546.5" y="576.2" width="0.8" height="1.4" fill="#222" opacity="0.53"/>
<rect x="547.2" y="647.4" width="0.7" height="1.5" fill="#222" opacity="0.41"/>
<rect x="546.1" y="272.3" width="1.4" height="1.4" fill="#222" opacity="0.71"/>
<rect x="545.0" y="571.8" width="1.3" height="1.7" fill="#222" opacity="0.72"/>
<rect x="546.7" y="692.1" width="1.3" height="1.6" fill="#222" opacity="0.45"/>
<rect x="546.1" y="454.5" width="1.3" height="1.5" fill="#222" opacity="0.63"/>
<rect x="545.0" y="666.4" width="1.4" height="1.2" fill="#222" opacity="0.67"/>
<rect x="544.4" y="723.2" width="1.4" height="1.5" fill="#222" opacity="0.72"/>
<rect x="549.3" y="198.9" width="0.8" height="0.8" fill="#222" opacity="0.35"/>
<rect x="546.0" y="354.4" width="1.0" height="1.7" fill="#222" opacity="0.69"/>
<rect x="547.1" y="526.3" width="0.9" height="1.5" fill="#222" opacity="0.48"/>
<rect x="546.6" y="608.1" width="1.4" height="1.6" fill="#222" opacity="0.50"/>
<rect x="545.8" y="315.4" width="1.1" height="1.6" fill="#222" opacity="0.73"/>
<rect x="547.4" y="265.1" width="1.3" height="1.6" fill="#222" opacity="0.55"/>
<rect x="547.9" y="11.9" width="0.6" height="0.7" fill="#222" opacity="0.60"/>
<rect x="545.5" y="622.3" width="1.1" height="1.1" fill="#222" opacity="0.63"/>
<rect x="546.2" y="261.9" width="0.9" height="1.6" fill="#222" opacity="0.70"/>
<rect x="545.7" y="476.4" width="0.7" height="0.9" fill="#222" opacity="0.67"/>
<rect x="545.9" y="538.2" width="1.1" height="1.6" fill="#222" opacity="0.62"/>
<rect x="548.5" y="99.7" width="0.6" height="1.6" fill="#222" opacity="0.50"/>
<rect x="546.8" y="147.6" width="1.4" height="1.0" fill="#222" opacity="0.68"/>
<rect x="550.1" y="177.9" width="1.1" height="1.7" fill="#222" opacity="0.27"/>
<rect x="546.9" y="306.4" width="1.4" height="1.2" fill="#222" opacity="0.60"/>
<rect x="544.4" y="755.4" width="1.3" height="0.8" fill="#222" opacity="0.70"/>
<rect x="545.3" y="406.8" width="0.7" height="1.7" fill="#222" opacity="0.75"/>
<rect x="548.5" y="351.9" width="0.8" height="1.0" fill="#222" opacity="0.39"/>
<rect x="547.9" y="84.7" width="1.3" height="1.2" fill="#222" opacity="0.57"/>
<rect x="550.5" y="293.1" width="1.3" height="1.4" fill="#222" opacity="0.17"/>
<rect x="548.3" y="65.8" width="1.0" height="1.7" fill="#222" opacity="0.54"/>
<rect x="547.7" y="281.9" width="1.1" height="1.1" fill="#222" opacity="0.51"/>
<rect x="547.3" y="403.0" width="1.3" height="1.2" fill="#222" opacity="0.50"/>
<rect x="552.5" y="283.3" width="0.6" height="1.6" fill="#222" opacity="0.08"/>
<rect x="546.3" y="524.9" width="1.0" height="1.5" fill="#222" opacity="0.57"/>
<rect x="546.7" y="681.7" width="1.2" height="0.6" fill="#222" opacity="0.47"/>
<rect x="546.1" y="254.2" width="1.4" height="1.7" fill="#222" opacity="0.72"/>
<rect x="547.9" y="117.7" width="1.1" height="0.7" fill="#222" opacity="0.56"/>
<rect x="548.1" y="304.8" width="1.1" height="0.9" fill="#222" opacity="0.45"/>
<rect x="545.3" y="584.5" width="1.0" height="1.1" fill="#222" opacity="0.67"/>
<rect x="546.0" y="747.5" width="1.2" height="1.4" fill="#222" opacity="0.52"/>
<rect x="551.7" y="296.0" width="1.2" height="1.4" fill="#222" opacity="0.08"/>
<rect x="546.3" y="218.1" width="1.1" height="1.6" fill="#222" opacity="0.71"/>
<rect x="545.3" y="608.1" width="0.7" height="1.2" fill="#222" opacity="0.66"/>
<rect x="544.7" y="671.4" width="1.2" height="0.8" fill="#222" opacity="0.71"/>
<rect x="546.0" y="244.2" width="0.8" height="1.1" fill="#222" opacity="0.74"/>
<rect x="550.0" y="739.0" width="0.7" height="1.0" fill="#222" opacity="0.08"/>
<rect x="544.6" y="721.5" width="0.9" height="1.1" fill="#222" opacity="0.70"/>
<rect x="547.0" y="90.4" width="0.9" height="1.1" fill="#222" opacity="0.68"/>
<rect x="544.7" y="736.5" width="0.8" height="1.7" fill="#222" opacity="0.68"/>
<rect x="548.8" y="348.7" width="1.1" height="1.5" fill="#222" opacity="0.35"/>
<text x="94" y="52" font-family="Liberation Sans" font-style="italic" font-size="11" fill="#222">124</text>
<text x="538" y="51.2" text-anchor="end" font-family="Liberation Sans" font-style="italic" font-size="10.7" fill="#222" textLength="176" lengthAdjust="spacingAndGlyphs">Reed’s Engineering For Deck Officers</text>
<text x="559.5" y="51.4" font-family="Liberation Sans" font-style="italic" font-size="10.7" fill="#222" textLength="206" lengthAdjust="spacingAndGlyphs">Main Shafting, Propeller, Fuel Consumption</text>
<text x="1003" y="54.2" text-anchor="end" font-family="Liberation Sans" font-style="italic" font-size="10.3" fill="#222">125</text>
<text x="559.5" y="75.80" font-family="Liberation Sans" font-size="12.1" fill="#111" stroke="#111" stroke-width="0.2" word-spacing="0.87">brass ring flange at the outer end. The wood strips are bored to suit the diameter</text>
<text x="559.5" y="89.13" font-family="Liberation Sans" font-size="12.1" fill="#111" stroke="#111" stroke-width="0.2" word-spacing="0.53">of the brass liner on the shaft. This forms the bearing for the shaft and the spaces</text>
<text x="559.5" y="102.46" font-family="Liberation Sans" font-size="12.1" fill="#111" stroke="#111" stroke-width="0.2" word-spacing="1.92">between the wood strips allow sea water to pass along to lubricate the rubbing</text>
<text x="559.5" y="115.79" font-family="Liberation Sans" font-size="12.1" fill="#111" stroke="#111" stroke-width="0.2" word-spacing="5.84">surfaces. A stuffing box (with soft greasy packing inserted) and gland is</text>
<text x="559.5" y="129.12" font-family="Liberation Sans" font-size="12.1" fill="#111" stroke="#111" stroke-width="0.2" word-spacing="1.30">incorporated at the inner end of the stern tube to prevent sea water entering the</text>
<text x="559.5" y="142.45" font-family="Liberation Sans" font-size="12.1" fill="#111" stroke="#111" stroke-width="0.2">tunnel.</text>
<rect x="13.2" y="116.2" width="1.0" height="1.6" fill="#888" opacity="0.23"/>
<rect x="20.2" y="210.4" width="1.0" height="1.1" fill="#888" opacity="0.22"/>
<rect x="18.2" y="589.3" width="1.1" height="1.2" fill="#888" opacity="0.29"/>
<rect x="12.1" y="185.9" width="1.3" height="1.9" fill="#888" opacity="0.17"/>
<rect x="14.2" y="85.0" width="1.5" height="1.8" fill="#888" opacity="0.23"/>
<rect x="32.5" y="301.4" width="1.2" height="1.2" fill="#888" opacity="0.17"/>
<rect x="19.2" y="267.2" width="1.0" height="1.5" fill="#888" opacity="0.23"/>
<rect x="1.5" y="102.0" width="0.9" height="1.5" fill="#888" opacity="0.27"/>
<rect x="12.6" y="441.5" width="0.8" height="2.2" fill="#888" opacity="0.25"/>
<rect x="35.2" y="115.5" width="1.3" height="1.5" fill="#888" opacity="0.28"/>
<rect x="37.8" y="567.7" width="1.1" height="2.3" fill="#888" opacity="0.11"/>
<rect x="29.6" y="537.7" width="0.8" height="0.6" fill="#888" opacity="0.21"/>
<rect x="4.9" y="208.6" width="0.6" height="1.9" fill="#888" opacity="0.29"/>
<rect x="33.7" y="274.8" width="0.6" height="2.2" fill="#888" opacity="0.15"/>
<rect x="6.1" y="480.7" width="0.6" height="1.4" fill="#888" opacity="0.20"/>
<rect x="33.9" y="30.3" width="0.6" height="0.9" fill="#888" opacity="0.22"/>
<rect x="14.3" y="252.9" width="0.7" height="2.1" fill="#888" opacity="0.13"/>
<rect x="35.3" y="617.9" width="0.5" height="2.1" fill="#888" opacity="0.09"/>
<rect x="13.9" y="323.9" width="1.2" height="1.7" fill="#888" opacity="0.17"/>
<rect x="19.1" y="449.8" width="1.5" height="2.1" fill="#888" opacity="0.29"/>
<rect x="10.5" y="753.5" width="0.6" height="1.4" fill="#888" opacity="0.23"/>
<rect x="4.2" y="347.4" width="0.9" height="1.1" fill="#888" opacity="0.12"/>
<rect x="4.3" y="394.4" width="1.2" height="0.9" fill="#888" opacity="0.14"/>
<rect x="23.5" y="535.7" width="1.2" height="2.4" fill="#888" opacity="0.28"/>
<rect x="4.5" y="549.7" width="0.5" height="2.2" fill="#888" opacity="0.24"/>
<rect x="3.6" y="201.5" width="1.1" height="2.5" fill="#888" opacity="0.15"/>
<rect x="19.8" y="133.8" width="1.3" height="1.4" fill="#888" opacity="0.10"/>
<rect x="4.5" y="117.6" width="1.0" height="2.5" fill="#888" opacity="0.28"/>
<rect x="33.4" y="363.8" width="0.6" height="0.7" fill="#888" opacity="0.20"/>
<rect x="0.5" y="159.9" width="1.4" height="1.9" fill="#888" opacity="0.29"/>
<rect x="41.2" y="333.7" width="0.9" height="2.1" fill="#888" opacity="0.27"/>
<rect x="12.9" y="9.8" width="0.9" height="0.5" fill="#888" opacity="0.26"/>
<rect x="19.6" y="354.3" width="1.0" height="0.6" fill="#888" opacity="0.15"/>
<rect x="14.1" y="676.4" width="0.7" height="1.0" fill="#888" opacity="0.28"/>
<rect x="16.1" y="79.5" width="0.6" height="0.9" fill="#888" opacity="0.18"/>
<rect x="24.6" y="486.2" width="0.9" height="0.6" fill="#888" opacity="0.24"/>
<rect x="14.8" y="359.6" width="1.2" height="1.0" fill="#888" opacity="0.22"/>
<rect x="20.0" y="360.4" width="1.1" height="0.6" fill="#888" opacity="0.13"/>
<rect x="17.3" y="174.7" width="1.3" height="1.8" fill="#888" opacity="0.24"/>
<rect x="1.6" y="71.7" width="1.3" height="0.6" fill="#888" opacity="0.09"/>
<rect x="14.8" y="711.0" width="1.4" height="1.8" fill="#888" opacity="0.28"/>
<rect x="16.7" y="117.2" width="0.6" height="2.4" fill="#888" opacity="0.24"/>
<rect x="11.3" y="616.6" width="0.6" height="2.1" fill="#888" opacity="0.28"/>
<rect x="38.5" y="1.7" width="1.1" height="2.1" fill="#888" opacity="0.19"/>
<rect x="26.0" y="454.2" width="0.6" height="0.6" fill="#888" opacity="0.20"/>
<rect x="16.4" y="303.3" width="0.5" height="2.2" fill="#888" opacity="0.26"/>
<rect x="19.2" y="93.3" width="0.7" height="1.4" fill="#888" opacity="0.10"/>
<rect x="2.1" y="417.2" width="1.2" height="2.2" fill="#888" opacity="0.27"/>
<rect x="16.8" y="280.8" width="0.6" height="1.7" fill="#888" opacity="0.30"/>
<rect x="2.5" y="5.3" width="1.2" height="1.7" fill="#888" opacity="0.19"/>
<rect x="19.1" y="311.2" width="1.1" height="2.3" fill="#888" opacity="0.24"/>
<rect x="33.5" y="697.4" width="1.2" height="0.6" fill="#888" opacity="0.23"/>
<rect x="35.7" y="329.1" width="0.7" height="2.4" fill="#888" opacity="0.18"/>
<rect x="7.7" y="193.0" width="0.8" height="0.7" fill="#888" opacity="0.18"/>
<rect x="41.2" y="499.7" width="1.3" height="2.2" fill="#888" opacity="0.30"/>
<rect x="9.1" y="209.5" width="0.5" height="1.0" fill="#888" opacity="0.27"/>
<rect x="38.7" y="251.1" width="1.3" height="2.3" fill="#888" opacity="0.25"/>
<rect x="22.3" y="80.1" width="0.8" height="1.8" fill="#888" opacity="0.16"/>
<rect x="11.7" y="737.8" width="1.1" height="1.6" fill="#888" opacity="0.29"/>
<rect x="17.1" y="698.1" width="1.5" height="0.7" fill="#888" opacity="0.13"/>
<rect x="5.7" y="692.6" width="1.2" height="2.5" fill="#888" opacity="0.12"/>
<rect x="18.4" y="524.8" width="1.2" height="2.0" fill="#888" opacity="0.13"/>
<rect x="10.8" y="21.1" width="0.7" height="1.0" fill="#888" opacity="0.29"/>
<rect x="27.0" y="451.6" width="1.1" height="1.9" fill="#888" opacity="0.15"/>
<rect x="8.0" y="51.1" width="0.6" height="0.7" fill="#888" opacity="0.19"/>
<rect x="16.9" y="525.3" width="0.7" height="0.7" fill="#888" opacity="0.15"/>
<rect x="16.0" y="526.8" width="0.6" height="2.4" fill="#888" opacity="0.16"/>
<rect x="35.0" y="23.5" width="0.7" height="2.2" fill="#888" opacity="0.26"/>
<rect x="4.2" y="212.1" width="1.4" height="0.8" fill="#888" opacity="0.23"/>
<rect x="3.2" y="505.2" width="0.6" height="2.5" fill="#888" opacity="0.16"/>
<rect x="1.4" y="435.2" width="0.5" height="2.2" fill="#888" opacity="0.11"/>
<rect x="40.4" y="277.8" width="0.6" height="2.1" fill="#888" opacity="0.14"/>
<rect x="5.5" y="399.6" width="1.3" height="1.1" fill="#888" opacity="0.16"/>
<rect x="4.8" y="171.1" width="0.9" height="1.2" fill="#888" opacity="0.22"/>
<rect x="14.6" y="664.4" width="1.3" height="1.0" fill="#888" opacity="0.09"/>
<rect x="15.7" y="88.5" width="0.6" height="0.7" fill="#888" opacity="0.19"/>
<rect x="2.6" y="176.3" width="0.6" height="1.2" fill="#888" opacity="0.18"/>
<rect x="4.9" y="423.9" width="1.2" height="1.6" fill="#888" opacity="0.27"/>
<rect x="20.8" y="655.5" width="1.0" height="1.0" fill="#888" opacity="0.12"/>
<rect x="5.8" y="162.3" width="1.4" height="1.4" fill="#888" opacity="0.24"/>
<rect x="4.5" y="346.1" width="1.2" height="1.2" fill="#888" opacity="0.11"/>
<rect x="0.2" y="367.9" width="1.2" height="1.5" fill="#888" opacity="0.09"/>
<rect x="19.8" y="565.7" width="0.7" height="1.5" fill="#888" opacity="0.21"/>
<rect x="27.3" y="110.8" width="1.4" height="2.0" fill="#888" opacity="0.27"/>
<rect x="5.0" y="689.7" width="1.1" height="2.3" fill="#888" opacity="0.10"/>
<rect x="3.1" y="27.4" width="0.7" height="2.0" fill="#888" opacity="0.21"/>
<rect x="39.5" y="307.1" width="0.5" height="2.4" fill="#888" opacity="0.13"/>
<rect x="20.0" y="390.9" width="1.0" height="2.5" fill="#888" opacity="0.22"/>
<rect x="22.0" y="637.1" width="1.0" height="1.0" fill="#888" opacity="0.29"/>
<rect x="14.7" y="310.9" width="0.5" height="1.2" fill="#888" opacity="0.12"/>
<rect x="34.8" y="0.1" width="0.8" height="1.4" fill="#888" opacity="0.20"/>
<rect x="2.7" y="105.2" width="1.5" height="0.8" fill="#888" opacity="0.11"/>
<rect x="21.9" y="444.2" width="0.6" height="1.0" fill="#888" opacity="0.12"/>
<rect x="19.5" y="345.6" width="1.2" height="2.2" fill="#888" opacity="0.29"/>
<rect x="1.1" y="719.7" width="1.4" height="0.7" fill="#888" opacity="0.08"/>
<rect x="12.2" y="220.8" width="1.4" height="1.3" fill="#888" opacity="0.20"/>
<rect x="35.7" y="616.6" width="1.0" height="0.7" fill="#888" opacity="0.13"/>
<rect x="27.6" y="447.9" width="1.4" height="2.4" fill="#888" opacity="0.12"/>
<rect x="3.2" y="685.7" width="0.7" height="1.9" fill="#888" opacity="0.14"/>
<rect x="9.9" y="279.8" width="1.2" height="0.6" fill="#888" opacity="0.24"/>
<rect x="26.2" y="360.4" width="1.3" height="0.5" fill="#888" opacity="0.18"/>
<rect x="28.5" y="541.8" width="0.7" height="2.4" fill="#888" opacity="0.25"/>
<rect x="9.8" y="329.0" width="0.7" height="1.3" fill="#888" opacity="0.29"/>
<rect x="37.8" y="177.6" width="0.9" height="1.8" fill="#888" opacity="0.25"/>
<rect x="5.9" y="170.0" width="0.5" height="0.8" fill="#888" opacity="0.17"/>
<rect x="17.7" y="59.4" width="1.4" height="1.7" fill="#888" opacity="0.16"/>
<rect x="10.6" y="334.0" width="0.5" height="1.9" fill="#888" opacity="0.12"/>
<rect x="15.5" y="735.3" width="1.3" height="1.8" fill="#888" opacity="0.22"/>
<rect x="16.9" y="738.3" width="0.8" height="1.0" fill="#888" opacity="0.26"/>
<rect x="25.2" y="649.1" width="1.1" height="0.9" fill="#888" opacity="0.08"/>
<rect x="1.5" y="554.4" width="0.5" height="0.8" fill="#888" opacity="0.23"/>
<rect x="15.6" y="175.7" width="1.5" height="0.5" fill="#888" opacity="0.11"/>
<rect x="7.4" y="741.0" width="1.0" height="1.1" fill="#888" opacity="0.17"/>
<rect x="1.8" y="197.5" width="0.7" height="0.7" fill="#888" opacity="0.22"/>
<rect x="29.3" y="200.9" width="1.2" height="1.2" fill="#888" opacity="0.19"/>
<rect x="7.9" y="709.7" width="0.6" height="0.8" fill="#888" opacity="0.23"/>
<rect x="17.5" y="547.8" width="1.3" height="0.7" fill="#888" opacity="0.21"/>
<rect x="8.0" y="540.7" width="1.3" height="1.0" fill="#888" opacity="0.10"/>
<rect x="4.2" y="431.7" width="1.1" height="0.7" fill="#888" opacity="0.22"/>
<rect x="11.7" y="197.5" width="1.2" height="0.6" fill="#888" opacity="0.24"/>
<rect x="9.3" y="222.2" width="1.2" height="1.7" fill="#888" opacity="0.28"/>
<rect x="8.6" y="237.7" width="0.8" height="0.8" fill="#888" opacity="0.13"/>
<rect x="32.4" y="631.8" width="1.5" height="2.1" fill="#888" opacity="0.15"/>
<rect x="13.4" y="551.0" width="0.6" height="0.6" fill="#888" opacity="0.19"/>
<rect x="6.4" y="711.8" width="1.0" height="0.9" fill="#888" opacity="0.11"/>
<rect x="15.8" y="398.3" width="1.0" height="2.1" fill="#888" opacity="0.10"/>
<rect x="5.6" y="295.7" width="1.2" height="0.9" fill="#888" opacity="0.15"/>
<rect x="20.0" y="544.2" width="0.9" height="1.4" fill="#888" opacity="0.28"/>
<rect x="10.0" y="472.7" width="1.1" height="1.1" fill="#888" opacity="0.09"/>
<rect x="10.2" y="695.0" width="1.1" height="1.1" fill="#888" opacity="0.10"/>
<rect x="1.9" y="588.9" width="0.9" height="0.7" fill="#888" opacity="0.29"/>
<rect x="2.2" y="220.1" width="0.6" height="0.7" fill="#888" opacity="0.10"/>
<rect x="6.9" y="406.3" width="0.7" height="0.8" fill="#888" opacity="0.25"/>
<rect x="5.3" y="258.3" width="1.5" height="0.7" fill="#888" opacity="0.14"/>
<rect x="31.1" y="681.3" width="1.0" height="2.4" fill="#888" opacity="0.21"/>
<rect x="12.1" y="355.4" width="1.2" height="0.8" fill="#888" opacity="0.12"/>
<rect x="40.2" y="81.7" width="0.8" height="1.0" fill="#888" opacity="0.14"/>
<rect x="18.8" y="756.8" width="0.8" height="0.8" fill="#888" opacity="0.24"/>
<rect x="18.1" y="143.3" width="1.4" height="1.6" fill="#888" opacity="0.08"/>
<rect x="32.1" y="463.4" width="1.5" height="1.2" fill="#888" opacity="0.27"/>
<rect x="8.2" y="203.2" width="0.9" height="1.3" fill="#888" opacity="0.10"/>
<rect x="14.0" y="694.9" width="1.4" height="2.0" fill="#888" opacity="0.13"/>
<rect x="38.6" y="614.4" width="1.2" height="2.0" fill="#888" opacity="0.26"/>
<rect x="18.5" y="501.1" width="0.6" height="1.6" fill="#888" opacity="0.15"/>
<rect x="34.5" y="263.8" width="1.3" height="2.3" fill="#888" opacity="0.11"/>
<rect x="39.4" y="568.6" width="1.2" height="0.6" fill="#888" opacity="0.27"/>
<rect x="17.2" y="348.2" width="1.3" height="2.2" fill="#888" opacity="0.13"/>
<rect x="7.2" y="190.5" width="0.5" height="2.1" fill="#888" opacity="0.13"/>
<rect x="3.0" y="51.7" width="0.7" height="1.4" fill="#888" opacity="0.17"/>
<rect x="13.9" y="728.9" width="1.4" height="1.4" fill="#888" opacity="0.28"/>
<rect x="30.8" y="238.0" width="1.1" height="0.7" fill="#888" opacity="0.21"/>
<rect x="9.2" y="396.2" width="1.4" height="1.8" fill="#888" opacity="0.13"/>
<rect x="15.2" y="277.5" width="1.2" height="0.7" fill="#888" opacity="0.28"/>
<rect x="15.8" y="451.4" width="0.9" height="0.7" fill="#888" opacity="0.20"/>
<rect x="4.9" y="602.7" width="1.2" height="2.1" fill="#888" opacity="0.13"/>
<rect x="8.4" y="758.2" width="1.2" height="2.4" fill="#888" opacity="0.12"/>
<rect x="12.7" y="251.4" width="0.7" height="1.6" fill="#888" opacity="0.19"/>
<rect x="28.1" y="109.4" width="1.5" height="1.6" fill="#888" opacity="0.25"/>
<rect x="7.7" y="695.4" width="1.3" height="2.2" fill="#888" opacity="0.16"/>
<rect x="11.1" y="158.4" width="1.4" height="2.3" fill="#888" opacity="0.29"/>
<rect x="21.5" y="712.5" width="0.6" height="1.8" fill="#888" opacity="0.26"/>
<rect x="6.1" y="460.0" width="0.9" height="1.5" fill="#888" opacity="0.18"/>
<rect x="15.8" y="4.3" width="1.2" height="1.0" fill="#888" opacity="0.14"/>
<rect x="21.7" y="134.1" width="1.4" height="0.9" fill="#888" opacity="0.21"/>
<rect x="30.3" y="572.4" width="1.2" height="1.0" fill="#888" opacity="0.26"/>
<rect x="38.9" y="40.2" width="0.9" height="0.7" fill="#888" opacity="0.10"/>
<rect x="10.1" y="517.7" width="1.1" height="2.5" fill="#888" opacity="0.15"/>
<rect x="3.5" y="187.3" width="0.9" height="1.7" fill="#888" opacity="0.15"/>
<rect x="4.2" y="166.9" width="0.8" height="1.5" fill="#888" opacity="0.12"/>
<rect x="20.1" y="336.0" width="1.0" height="2.4" fill="#888" opacity="0.18"/>
<rect x="3.7" y="452.3" width="0.6" height="1.9" fill="#888" opacity="0.29"/>
<rect x="7.7" y="270.5" width="1.2" height="1.3" fill="#888" opacity="0.11"/>
<rect x="18.7" y="437.4" width="1.2" height="1.2" fill="#888" opacity="0.22"/>
<rect x="6.6" y="306.9" width="1.1" height="1.8" fill="#888" opacity="0.24"/>
<rect x="18.7" y="111.0" width="1.3" height="1.7" fill="#888" opacity="0.23"/>
<rect x="14.3" y="721.9" width="0.9" height="0.9" fill="#888" opacity="0.11"/>
<rect x="7.1" y="611.6" width="1.0" height="1.5" fill="#888" opacity="0.16"/>
<rect x="37.6" y="267.3" width="1.4" height="1.8" fill="#888" opacity="0.18"/>
<rect x="14.0" y="295.8" width="1.3" height="1.0" fill="#888" opacity="0.16"/>
<rect x="16.3" y="277.2" width="1.0" height="1.1" fill="#888" opacity="0.15"/>
<rect x="34.5" y="122.4" width="0.5" height="0.9" fill="#888" opacity="0.09"/>
<rect x="1.3" y="112.2" width="0.8" height="2.0" fill="#888" opacity="0.24"/>
<rect x="38.2" y="723.5" width="1.4" height="0.7" fill="#888" opacity="0.28"/>
<rect x="18.2" y="147.4" width="1.4" height="1.3" fill="#888" opacity="0.10"/>
<rect x="36.7" y="575.7" width="1.5" height="0.6" fill="#888" opacity="0.09"/>
<rect x="5.2" y="16.7" width="1.1" height="0.7" fill="#888" opacity="0.12"/>
<rect x="7.6" y="465.5" width="1.5" height="1.2" fill="#888" opacity="0.30"/>
<rect x="5.1" y="298.6" width="1.5" height="2.5" fill="#888" opacity="0.24"/>
<rect x="7.7" y="137.4" width="1.2" height="0.6" fill="#888" opacity="0.20"/>
<rect x="17.4" y="25.6" width="1.1" height="1.4" fill="#888" opacity="0.27"/>
<rect x="20.8" y="257.5" width="1.4" height="2.3" fill="#888" opacity="0.20"/>
<rect x="15.2" y="133.7" width="0.5" height="2.1" fill="#888" opacity="0.25"/>
<rect x="21.6" y="4.3" width="0.9" height="1.8" fill="#888" opacity="0.21"/>
<rect x="30.6" y="312.3" width="1.5" height="2.4" fill="#888" opacity="0.22"/>
<rect x="19.9" y="287.7" width="1.3" height="2.1" fill="#888" opacity="0.26"/>
<rect x="16.7" y="525.6" width="0.8" height="1.7" fill="#888" opacity="0.11"/>
<rect x="20.3" y="373.4" width="0.6" height="2.4" fill="#888" opacity="0.25"/>
<rect x="6.3" y="581.4" width="1.4" height="1.7" fill="#888" opacity="0.17"/>
<rect x="39.2" y="66.7" width="0.6" height="1.1" fill="#888" opacity="0.11"/>
<rect x="36.6" y="337.5" width="0.8" height="2.0" fill="#888" opacity="0.22"/>
<rect x="4.1" y="377.3" width="0.7" height="1.8" fill="#888" opacity="0.14"/>
<rect x="15.6" y="702.8" width="1.5" height="1.4" fill="#888" opacity="0.21"/>
<rect x="19.0" y="579.5" width="0.9" height="2.4" fill="#888" opacity="0.18"/>
<rect x="15.0" y="572.3" width="0.6" height="2.5" fill="#888" opacity="0.20"/>
<rect x="31.1" y="100.2" width="0.9" height="1.0" fill="#888" opacity="0.26"/>
<rect x="18.7" y="365.1" width="1.4" height="0.6" fill="#888" opacity="0.18"/>
<rect x="19.7" y="549.1" width="0.8" height="2.4" fill="#888" opacity="0.12"/>
<rect x="4.1" y="622.4" width="1.0" height="1.2" fill="#888" opacity="0.12"/>
<rect x="39.1" y="362.1" width="0.8" height="2.3" fill="#888" opacity="0.13"/>
<rect x="38.1" y="468.2" width="1.3" height="1.8" fill="#888" opacity="0.20"/>
<rect x="20.1" y="338.9" width="1.3" height="1.9" fill="#888" opacity="0.24"/>
<rect x="9.7" y="354.0" width="1.5" height="2.3" fill="#888" opacity="0.12"/>
<rect x="3.7" y="423.3" width="0.6" height="1.4" fill="#888" opacity="0.19"/>
<rect x="11.2" y="280.9" width="1.3" height="1.7" fill="#888" opacity="0.12"/>
<rect x="37.2" y="280.9" width="1.5" height="0.8" fill="#888" opacity="0.21"/>
<rect x="40.6" y="294.2" width="0.8" height="0.6" fill="#888" opacity="0.13"/>
<rect x="5.2" y="217.2" width="1.1" height="2.4" fill="#888" opacity="0.23"/>
<rect x="15.2" y="725.3" width="1.0" height="2.2" fill="#888" opacity="0.23"/>
<rect x="21.3" y="462.1" width="0.7" height="2.4" fill="#888" opacity="0.09"/>
<rect x="11.2" y="422.6" width="0.6" height="2.2" fill="#888" opacity="0.23"/>
<rect x="28.7" y="708.0" width="1.2" height="1.9" fill="#888" opacity="0.08"/>
<rect x="2.1" y="325.9" width="0.8" height="1.6" fill="#888" opacity="0.08"/>
<rect x="17.5" y="689.5" width="1.3" height="0.5" fill="#888" opacity="0.12"/>
<rect x="20.5" y="635.9" width="0.8" height="2.3" fill="#888" opacity="0.19"/>
<rect x="15.3" y="738.3" width="0.6" height="2.2" fill="#888" opacity="0.30"/>
<rect x="3.3" y="570.1" width="0.9" height="1.8" fill="#888" opacity="0.29"/>
<rect x="41.7" y="759.1" width="1.2" height="0.8" fill="#888" opacity="0.24"/>
<rect x="23.2" y="274.3" width="0.8" height="0.8" fill="#888" opacity="0.11"/>
<rect x="6.3" y="449.6" width="0.7" height="1.5" fill="#888" opacity="0.21"/>
<rect x="23.5" y="315.3" width="0.5" height="0.6" fill="#888" opacity="0.17"/>
<rect x="18.1" y="578.2" width="0.7" height="0.7" fill="#888" opacity="0.19"/>
<rect x="16.3" y="256.3" width="0.7" height="1.8" fill="#888" opacity="0.26"/>
<rect x="19.0" y="384.4" width="1.1" height="0.9" fill="#888" opacity="0.10"/>
<rect x="14.3" y="253.4" width="0.9" height="1.1" fill="#888" opacity="0.19"/>
<rect x="6.7" y="186.7" width="0.8" height="2.3" fill="#888" opacity="0.24"/>
<rect x="2.7" y="126.8" width="1.3" height="1.8" fill="#888" opacity="0.11"/>
<rect x="26.3" y="44.6" width="0.8" height="0.7" fill="#888" opacity="0.24"/>
<rect x="14.7" y="390.1" width="0.9" height="1.8" fill="#888" opacity="0.10"/>
<rect x="8.8" y="2.7" width="0.7" height="0.7" fill="#888" opacity="0.23"/>
<rect x="14.8" y="255.9" width="0.7" height="1.3" fill="#888" opacity="0.23"/>
<rect x="11.9" y="119.0" width="1.5" height="2.3" fill="#888" opacity="0.10"/>
<rect x="14.7" y="373.2" width="1.0" height="2.1" fill="#888" opacity="0.14"/>
<rect x="3.1" y="622.3" width="1.0" height="0.8" fill="#888" opacity="0.23"/>
<rect x="29.3" y="441.7" width="0.5" height="1.9" fill="#888" opacity="0.26"/>
<rect x="12.8" y="246.0" width="1.2" height="1.2" fill="#888" opacity="0.23"/>
<rect x="21.5" y="544.1" width="0.9" height="0.5" fill="#888" opacity="0.10"/>
<rect x="30.5" y="660.6" width="0.7" height="2.2" fill="#888" opacity="0.24"/>
<rect x="4.8" y="290.8" width="0.5" height="0.6" fill="#888" opacity="0.16"/>
<rect x="20.0" y="761.2" width="1.3" height="2.2" fill="#888" opacity="0.21"/>
<rect x="40.7" y="492.1" width="1.1" height="0.9" fill="#888" opacity="0.19"/>
<rect x="11.2" y="257.8" width="1.1" height="0.9" fill="#888" opacity="0.14"/>
<rect x="14.6" y="385.0" width="0.7" height="1.6" fill="#888" opacity="0.14"/>
<rect x="32.3" y="537.6" width="1.0" height="1.0" fill="#888" opacity="0.28"/>
<rect x="8.8" y="286.6" width="1.2" height="2.1" fill="#888" opacity="0.19"/>
<rect x="7.9" y="162.7" width="0.8" height="1.2" fill="#888" opacity="0.25"/>
<rect x="17.3" y="158.4" width="1.2" height="1.9" fill="#888" opacity="0.22"/>
<rect x="7.9" y="208.4" width="0.5" height="2.4" fill="#888" opacity="0.20"/>
<rect x="28.1" y="738.4" width="0.7" height="1.2" fill="#888" opacity="0.10"/>
<rect x="8.1" y="563.2" width="0.8" height="1.5" fill="#888" opacity="0.24"/>
<rect x="37.6" y="648.5" width="0.9" height="1.3" fill="#888" opacity="0.15"/>
<rect x="6.2" y="140.1" width="1.4" height="2.2" fill="#888" opacity="0.15"/>
<rect x="4.2" y="680.5" width="1.3" height="1.2" fill="#888" opacity="0.11"/>
<rect x="13.1" y="335.8" width="0.8" height="0.5" fill="#888" opacity="0.17"/>
<rect x="16.7" y="8.5" width="0.8" height="1.9" fill="#888" opacity="0.22"/>
<rect x="7.9" y="15.6" width="1.1" height="1.1" fill="#888" opacity="0.12"/>
<rect x="12.9" y="694.7" width="1.1" height="1.1" fill="#888" opacity="0.09"/>
<rect x="13.7" y="492.3" width="1.0" height="0.7" fill="#888" opacity="0.13"/>
<rect x="19.9" y="318.2" width="0.6" height="2.5" fill="#888" opacity="0.13"/>
<rect x="36.0" y="186.1" width="0.9" height="0.6" fill="#888" opacity="0.26"/>
<rect x="34.0" y="205.7" width="1.0" height="2.5" fill="#888" opacity="0.09"/>
<rect x="16.0" y="174.1" width="1.3" height="2.2" fill="#888" opacity="0.20"/>
<rect x="5.7" y="610.9" width="1.3" height="1.4" fill="#888" opacity="0.30"/>
<rect x="0.0" y="352.9" width="0.6" height="0.7" fill="#888" opacity="0.16"/>
<rect x="15.4" y="388.0" width="1.0" height="2.5" fill="#888" opacity="0.12"/>
<rect x="18.9" y="377.2" width="0.7" height="2.3" fill="#888" opacity="0.16"/>
<rect x="14.1" y="469.7" width="0.8" height="0.7" fill="#888" opacity="0.29"/>
<rect x="15.5" y="87.4" width="1.0" height="1.2" fill="#888" opacity="0.15"/>
<rect x="21.1" y="258.7" width="0.9" height="1.3" fill="#888" opacity="0.12"/>
<rect x="8.9" y="507.9" width="0.7" height="2.1" fill="#888" opacity="0.18"/>
<rect x="34.9" y="286.5" width="0.5" height="0.9" fill="#888" opacity="0.29"/>
<rect x="10.4" y="516.2" width="0.7" height="0.8" fill="#888" opacity="0.22"/>
<rect x="29.1" y="197.7" width="0.6" height="1.7" fill="#888" opacity="0.12"/>
<rect x="21.4" y="239.9" width="0.6" height="1.5" fill="#888" opacity="0.22"/>
<rect x="5.7" y="235.8" width="1.0" height="1.7" fill="#888" opacity="0.25"/>
<rect x="18.3" y="169.8" width="1.1" height="2.0" fill="#888" opacity="0.16"/>
<rect x="18.8" y="740.9" width="1.2" height="0.7" fill="#888" opacity="0.21"/>
<rect x="1.4" y="713.5" width="1.2" height="1.0" fill="#888" opacity="0.27"/>
<rect x="7.4" y="632.5" width="0.5" height="2.3" fill="#888" opacity="0.18"/>
<rect x="34.9" y="526.0" width="1.4" height="0.9" fill="#888" opacity="0.28"/>
<rect x="1.5" y="19.9" width="0.6" height="1.7" fill="#888" opacity="0.11"/>
<rect x="20.2" y="223.5" width="1.4" height="2.2" fill="#888" opacity="0.30"/>
<rect x="20.4" y="608.0" width="1.3" height="2.0" fill="#888" opacity="0.13"/>
<rect x="3.8" y="706.8" width="1.1" height="2.2" fill="#888" opacity="0.11"/>
<rect x="29.4" y="354.5" width="1.0" height="0.9" fill="#888" opacity="0.29"/>
<rect x="11.8" y="569.1" width="0.7" height="1.9" fill="#888" opacity="0.17"/>
<rect x="9.4" y="166.0" width="0.9" height="1.5" fill="#888" opacity="0.19"/>
<rect x="1.1" y="575.7" width="1.4" height="1.2" fill="#888" opacity="0.13"/>
<rect x="14.6" y="559.4" width="0.9" height="1.5" fill="#888" opacity="0.11"/>
<rect x="38.6" y="360.5" width="1.3" height="0.9" fill="#888" opacity="0.24"/>
<rect x="6.1" y="620.7" width="1.1" height="1.5" fill="#888" opacity="0.16"/>
<rect x="0.0" y="166.4" width="1.3" height="1.0" fill="#888" opacity="0.26"/>
<rect x="23.2" y="459.6" width="0.6" height="2.1" fill="#888" opacity="0.14"/>
<rect x="36.2" y="600.8" width="1.3" height="1.4" fill="#888" opacity="0.23"/>
<rect x="9.1" y="144.5" width="1.0" height="0.8" fill="#888" opacity="0.13"/>
<rect x="4.0" y="296.4" width="1.1" height="0.9" fill="#888" opacity="0.18"/>
<rect x="22.6" y="335.9" width="1.3" height="0.5" fill="#888" opacity="0.28"/>
<rect x="8.4" y="29.3" width="1.1" height="1.6" fill="#888" opacity="0.13"/>
<rect x="32.8" y="234.1" width="0.7" height="1.6" fill="#888" opacity="0.22"/>
<rect x="14.2" y="366.7" width="1.2" height="0.8" fill="#888" opacity="0.20"/>
<rect x="30.8" y="77.2" width="1.4" height="0.6" fill="#888" opacity="0.13"/>
<rect x="10.8" y="193.0" width="0.8" height="1.1" fill="#888" opacity="0.18"/>
<rect x="15.6" y="602.4" width="0.6" height="0.9" fill="#888" opacity="0.08"/>
<rect x="13.8" y="82.6" width="1.3" height="2.5" fill="#888" opacity="0.13"/>
<rect x="20.5" y="578.3" width="0.9" height="1.1" fill="#888" opacity="0.10"/>
<rect x="9.6" y="391.3" width="1.3" height="2.2" fill="#888" opacity="0.18"/>
<rect x="7.5" y="310.4" width="0.9" height="1.8" fill="#888" opacity="0.20"/>
<rect x="12.3" y="439.2" width="1.4" height="0.7" fill="#888" opacity="0.16"/>
<rect x="13.8" y="747.4" width="1.1" height="2.2" fill="#888" opacity="0.18"/>
<rect x="5.5" y="229.4" width="1.2" height="0.9" fill="#888" opacity="0.22"/>
<rect x="9.7" y="502.6" width="0.8" height="1.7" fill="#888" opacity="0.15"/>
<rect x="17.4" y="512.1" width="0.8" height="1.6" fill="#888" opacity="0.26"/>
<rect x="20.6" y="558.6" width="0.5" height="1.9" fill="#888" opacity="0.16"/>
<rect x="7.5" y="301.7" width="0.9" height="0.7" fill="#888" opacity="0.20"/>
<rect x="9.6" y="739.0" width="0.7" height="2.4" fill="#888" opacity="0.15"/>
<rect x="16.6" y="636.1" width="0.8" height="0.7" fill="#888" opacity="0.09"/>
<rect x="9.7" y="667.7" width="1.3" height="1.1" fill="#888" opacity="0.11"/>
<rect x="21.8" y="325.0" width="1.4" height="1.0" fill="#888" opacity="0.20"/>
<rect x="20.1" y="25.9" width="0.8" height="1.7" fill="#888" opacity="0.24"/>
<rect x="6.6" y="706.0" width="1.2" height="0.5" fill="#888" opacity="0.16"/>
<rect x="3.3" y="361.7" width="0.7" height="0.7" fill="#888" opacity="0.10"/>
<rect x="18.1" y="395.5" width="0.9" height="1.0" fill="#888" opacity="0.13"/>
<rect x="35.3" y="35.8" width="0.6" height="2.4" fill="#888" opacity="0.17"/>
<rect x="1.4" y="659.5" width="1.2" height="1.7" fill="#888" opacity="0.24"/>
<rect x="9.6" y="379.6" width="0.8" height="1.7" fill="#888" opacity="0.15"/>
<rect x="17.6" y="490.9" width="1.0" height="1.0" fill="#888" opacity="0.11"/>
<rect x="21.4" y="385.0" width="0.9" height="1.3" fill="#888" opacity="0.28"/>
<rect x="11.5" y="749.5" width="1.5" height="2.4" fill="#888" opacity="0.14"/>
<rect x="21.9" y="467.5" width="1.1" height="2.1" fill="#888" opacity="0.20"/>
<rect x="5.7" y="659.6" width="1.1" height="0.9" fill="#888" opacity="0.18"/>
<rect x="30.0" y="73.3" width="0.6" height="1.5" fill="#888" opacity="0.22"/>
<rect x="21.1" y="32.9" width="0.9" height="1.3" fill="#888" opacity="0.16"/>
<rect x="29.2" y="565.7" width="0.9" height="1.6" fill="#888" opacity="0.19"/>
<rect x="7.9" y="725.4" width="1.3" height="2.5" fill="#888" opacity="0.18"/>
<rect x="35.2" y="183.9" width="1.2" height="2.4" fill="#888" opacity="0.26"/>
<rect x="36.9" y="204.5" width="1.0" height="1.1" fill="#888" opacity="0.16"/>
<rect x="33.6" y="643.9" width="1.2" height="0.8" fill="#888" opacity="0.11"/>
<rect x="2.3" y="162.0" width="0.7" height="1.9" fill="#888" opacity="0.13"/>
<rect x="35.6" y="251.4" width="0.8" height="1.0" fill="#888" opacity="0.17"/>
<rect x="0.3" y="332.8" width="1.4" height="1.3" fill="#888" opacity="0.08"/>
<rect x="0.5" y="174.5" width="0.6" height="1.9" fill="#888" opacity="0.21"/>
<rect x="21.3" y="188.1" width="0.9" height="2.5" fill="#888" opacity="0.28"/>
<rect x="15.6" y="648.0" width="1.3" height="1.9" fill="#888" opacity="0.20"/>
<rect x="34.1" y="117.9" width="0.8" height="1.3" fill="#888" opacity="0.12"/>
<rect x="29.7" y="437.9" width="1.1" height="1.7" fill="#888" opacity="0.28"/>
<rect x="20.4" y="433.0" width="0.9" height="0.7" fill="#888" opacity="0.15"/>
<rect x="29.7" y="711.5" width="1.2" height="2.4" fill="#888" opacity="0.25"/>
<rect x="18.7" y="352.8" width="0.8" height="0.7" fill="#888" opacity="0.22"/>
<rect x="34.0" y="189.6" width="1.4" height="0.8" fill="#888" opacity="0.11"/>
<rect x="20.7" y="255.4" width="1.5" height="1.4" fill="#888" opacity="0.25"/>
<rect x="26.5" y="132.5" width="0.7" height="0.7" fill="#888" opacity="0.18"/>
<rect x="21.0" y="367.3" width="0.9" height="2.2" fill="#888" opacity="0.25"/>
<rect x="10.8" y="181.7" width="0.9" height="1.8" fill="#888" opacity="0.19"/>
<rect x="13.6" y="463.6" width="0.7" height="1.2" fill="#888" opacity="0.08"/>
<rect x="18.4" y="42.4" width="1.2" height="2.4" fill="#888" opacity="0.26"/>
<rect x="8.4" y="443.4" width="0.8" height="1.7" fill="#888" opacity="0.09"/>
<rect x="8.9" y="286.9" width="0.6" height="2.0" fill="#888" opacity="0.26"/>
<rect x="25.1" y="88.5" width="1.4" height="2.5" fill="#888" opacity="0.25"/>
<rect x="1.9" y="671.2" width="0.8" height="2.3" fill="#888" opacity="0.26"/>
<rect x="37.6" y="189.1" width="0.9" height="1.1" fill="#888" opacity="0.25"/>
<rect x="25.9" y="253.5" width="1.4" height="1.6" fill="#888" opacity="0.28"/>
<rect x="10.1" y="758.0" width="1.1" height="2.0" fill="#888" opacity="0.29"/>
<rect x="26.2" y="365.2" width="1.0" height="1.9" fill="#888" opacity="0.29"/>
<rect x="0.6" y="244.8" width="0.6" height="2.1" fill="#888" opacity="0.09"/>
<rect x="8.4" y="611.4" width="0.7" height="1.9" fill="#888" opacity="0.20"/>
<rect x="25.4" y="248.7" width="1.5" height="2.1" fill="#888" opacity="0.29"/>
<rect x="7.6" y="394.2" width="1.3" height="0.8" fill="#888" opacity="0.20"/>
<rect x="6.0" y="714.7" width="1.0" height="2.4" fill="#888" opacity="0.12"/>
<rect x="35.3" y="303.4" width="1.4" height="0.6" fill="#888" opacity="0.15"/>
<rect x="15.4" y="102.2" width="1.1" height="0.7" fill="#888" opacity="0.26"/>
<rect x="21.3" y="109.4" width="1.3" height="0.9" fill="#888" opacity="0.29"/>
<rect x="19.1" y="175.0" width="1.3" height="0.7" fill="#888" opacity="0.25"/>
<rect x="32.5" y="484.2" width="1.5" height="1.2" fill="#888" opacity="0.26"/>
<rect x="38.7" y="239.5" width="1.2" height="2.2" fill="#888" opacity="0.20"/>
<rect x="11.6" y="192.3" width="0.6" height="2.2" fill="#888" opacity="0.28"/>
<rect x="10.2" y="532.7" width="0.6" height="2.1" fill="#888" opacity="0.25"/>
<rect x="17.0" y="75.0" width="1.0" height="2.1" fill="#888" opacity="0.12"/>
<rect x="4.5" y="266.6" width="0.7" height="0.6" fill="#888" opacity="0.25"/>
<rect x="5.4" y="510.2" width="1.2" height="2.2" fill="#888" opacity="0.17"/>
<rect x="5.3" y="23.7" width="1.3" height="1.9" fill="#888" opacity="0.25"/>
<rect x="8.5" y="534.3" width="0.8" height="1.1" fill="#888" opacity="0.24"/>
<rect x="19.0" y="248.6" width="1.1" height="1.5" fill="#888" opacity="0.16"/>
<rect x="12.5" y="717.7" width="1.4" height="1.0" fill="#888" opacity="0.14"/>
<rect x="4.3" y="383.5" width="0.7" height="1.4" fill="#888" opacity="0.30"/>
<rect x="20.2" y="292.1" width="1.4" height="1.3" fill="#888" opacity="0.11"/>
<rect x="26.7" y="565.7" width="1.2" height="1.1" fill="#888" opacity="0.19"/>
<rect x="20.1" y="340.7" width="1.4" height="2.4" fill="#888" opacity="0.19"/>
<rect x="40.5" y="106.1" width="1.1" height="2.2" fill="#888" opacity="0.17"/>
<rect x="41.6" y="19.1" width="1.3" height="1.2" fill="#888" opacity="0.26"/>
<rect x="9.0" y="574.9" width="0.7" height="2.1" fill="#888" opacity="0.24"/>
<rect x="8.3" y="747.2" width="0.9" height="1.7" fill="#888" opacity="0.28"/>
<rect x="2.4" y="483.8" width="0.6" height="1.5" fill="#888" opacity="0.21"/>
<rect x="7.7" y="750.6" width="0.9" height="0.8" fill="#888" opacity="0.29"/>
<rect x="5.5" y="414.7" width="0.8" height="1.5" fill="#888" opacity="0.18"/>
<rect x="1.2" y="430.2" width="0.7" height="1.2" fill="#888" opacity="0.25"/>
<rect x="37.3" y="180.6" width="0.9" height="1.6" fill="#888" opacity="0.20"/>
<rect x="1.8" y="50.6" width="1.2" height="1.3" fill="#888" opacity="0.28"/>
<rect x="12.2" y="230.7" width="1.2" height="0.9" fill="#888" opacity="0.09"/>
<rect x="20.5" y="26.1" width="1.1" height="1.1" fill="#888" opacity="0.18"/>
<rect x="17.9" y="142.1" width="1.0" height="1.9" fill="#888" opacity="0.16"/>
<rect x="33.9" y="455.2" width="0.9" height="1.6" fill="#888" opacity="0.12"/>
<rect x="40.9" y="513.5" width="1.1" height="0.7" fill="#888" opacity="0.15"/>
<rect x="9.8" y="644.1" width="1.4" height="2.1" fill="#888" opacity="0.24"/>
<rect x="12.7" y="177.5" width="0.8" height="1.9" fill="#888" opacity="0.16"/>
<rect x="31.9" y="437.8" width="1.5" height="1.3" fill="#888" opacity="0.30"/>
<rect x="12.0" y="670.3" width="0.9" height="2.0" fill="#888" opacity="0.15"/>
<rect x="8.7" y="599.0" width="1.3" height="1.5" fill="#888" opacity="0.09"/>
<rect x="0.0" y="166.6" width="0.8" height="1.8" fill="#888" opacity="0.25"/>
<rect x="26.7" y="338.6" width="1.2" height="0.9" fill="#888" opacity="0.20"/>
<rect x="6.8" y="556.8" width="0.8" height="0.7" fill="#888" opacity="0.16"/>
<rect x="16.1" y="441.3" width="0.6" height="2.0" fill="#888" opacity="0.11"/>
<rect x="4.1" y="192.3" width="0.8" height="2.3" fill="#888" opacity="0.29"/>
<rect x="11.9" y="572.9" width="1.1" height="1.0" fill="#888" opacity="0.29"/>
<rect x="7.1" y="10.0" width="0.7" height="1.4" fill="#888" opacity="0.28"/>
<rect x="0.3" y="638.5" width="1.4" height="1.0" fill="#888" opacity="0.13"/>
<rect x="4.0" y="280.6" width="0.8" height="1.7" fill="#888" opacity="0.18"/>
<rect x="12.8" y="401.8" width="1.2" height="1.2" fill="#888" opacity="0.28"/>
<rect x="7.3" y="429.2" width="0.6" height="2.3" fill="#888" opacity="0.21"/>
<rect x="4.1" y="707.1" width="0.5" height="1.9" fill="#888" opacity="0.13"/>
<rect x="11.0" y="637.3" width="1.2" height="0.9" fill="#888" opacity="0.22"/>
<rect x="15.6" y="750.6" width="0.5" height="1.0" fill="#888" opacity="0.11"/>
<rect x="17.5" y="403.6" width="0.6" height="1.7" fill="#888" opacity="0.27"/>
<rect x="5.3" y="166.1" width="1.0" height="2.4" fill="#888" opacity="0.15"/>
<rect x="21.3" y="731.6" width="1.4" height="0.9" fill="#888" opacity="0.20"/>
<rect x="39.5" y="89.7" width="1.3" height="2.0" fill="#888" opacity="0.21"/>
<rect x="17.2" y="732.2" width="1.2" height="1.1" fill="#888" opacity="0.23"/>
<rect x="20.5" y="573.6" width="0.9" height="2.1" fill="#888" opacity="0.18"/>
<rect x="34.1" y="230.1" width="0.5" height="1.5" fill="#888" opacity="0.10"/>
<rect x="21.4" y="517.5" width="1.4" height="2.4" fill="#888" opacity="0.10"/>
<rect x="29.6" y="555.8" width="0.5" height="2.3" fill="#888" opacity="0.18"/>
<rect x="0.6" y="622.4" width="1.4" height="1.0" fill="#888" opacity="0.09"/>
<rect x="5.7" y="760.0" width="0.7" height="0.8" fill="#888" opacity="0.28"/>
<rect x="9.1" y="445.4" width="1.4" height="0.5" fill="#888" opacity="0.17"/>
<rect x="21.0" y="762.3" width="1.3" height="2.0" fill="#888" opacity="0.09"/>
<rect x="3.2" y="376.6" width="1.0" height="2.1" fill="#888" opacity="0.11"/>
<rect x="5.3" y="320.8" width="1.0" height="1.8" fill="#888" opacity="0.21"/>
<rect x="37.4" y="390.8" width="1.5" height="0.9" fill="#888" opacity="0.08"/>
<rect x="9.2" y="239.3" width="0.5" height="2.3" fill="#888" opacity="0.19"/>
<rect x="36.9" y="532.9" width="1.3" height="1.1" fill="#888" opacity="0.24"/>
<rect x="8.7" y="423.9" width="1.3" height="0.8" fill="#888" opacity="0.16"/>
<rect x="34.6" y="614.7" width="0.6" height="0.9" fill="#888" opacity="0.10"/>
<rect x="30.4" y="569.5" width="1.3" height="1.5" fill="#888" opacity="0.20"/>
<rect x="38.7" y="495.3" width="1.1" height="1.5" fill="#888" opacity="0.25"/>
<rect x="9.3" y="98.5" width="0.9" height="1.6" fill="#888" opacity="0.16"/>
<rect x="21.4" y="326.1" width="0.6" height="0.5" fill="#888" opacity="0.24"/>
<rect x="16.6" y="343.0" width="0.9" height="1.0" fill="#888" opacity="0.08"/>
<rect x="10.2" y="717.4" width="0.8" height="0.6" fill="#888" opacity="0.28"/>
<rect x="15.4" y="184.2" width="1.3" height="1.4" fill="#888" opacity="0.17"/>
<rect x="9.8" y="609.9" width="1.4" height="0.7" fill="#888" opacity="0.21"/>
<rect x="3.2" y="546.4" width="0.6" height="2.0" fill="#888" opacity="0.10"/>
<rect x="19.6" y="508.6" width="1.4" height="1.7" fill="#888" opacity="0.10"/>
<rect x="20.4" y="321.6" width="1.2" height="0.7" fill="#888" opacity="0.13"/>
<rect x="9.7" y="437.7" width="1.3" height="0.9" fill="#888" opacity="0.24"/>
<rect x="13.9" y="721.6" width="0.8" height="1.7" fill="#888" opacity="0.10"/>
<rect x="17.2" y="476.2" width="0.8" height="0.6" fill="#888" opacity="0.11"/>
<rect x="13.6" y="130.7" width="1.4" height="1.5" fill="#888" opacity="0.14"/>
<rect x="24.6" y="210.6" width="0.7" height="1.0" fill="#888" opacity="0.18"/>
<rect x="2.9" y="126.4" width="0.7" height="1.2" fill="#888" opacity="0.17"/>
<rect x="8.7" y="308.5" width="1.3" height="2.3" fill="#888" opacity="0.17"/>
<rect x="38.7" y="191.5" width="1.0" height="1.9" fill="#888" opacity="0.16"/>
<rect x="11.4" y="103.3" width="0.9" height="1.9" fill="#888" opacity="0.18"/>
<rect x="7.4" y="158.0" width="1.2" height="1.6" fill="#888" opacity="0.08"/>
<rect x="5.7" y="330.9" width="0.7" height="2.1" fill="#888" opacity="0.20"/>
<rect x="6.2" y="189.9" width="0.8" height="2.1" fill="#888" opacity="0.25"/>
<rect x="29.3" y="676.1" width="0.6" height="0.6" fill="#888" opacity="0.12"/>
<rect x="10.8" y="403.6" width="1.1" height="1.4" fill="#888" opacity="0.13"/>
<rect x="1.0" y="575.6" width="1.5" height="1.0" fill="#888" opacity="0.27"/>
<rect x="19.6" y="498.9" width="0.8" height="0.7" fill="#888" opacity="0.12"/>
<rect x="33.8" y="747.7" width="1.2" height="1.1" fill="#888" opacity="0.14"/>
<rect x="13.5" y="752.4" width="0.8" height="0.9" fill="#888" opacity="0.18"/>
<rect x="13.8" y="189.3" width="1.2" height="1.5" fill="#888" opacity="0.12"/>
<rect x="5.3" y="84.7" width="1.0" height="1.5" fill="#888" opacity="0.20"/>
<rect x="0.9" y="683.0" width="1.3" height="0.5" fill="#888" opacity="0.15"/>
<rect x="6.0" y="460.1" width="0.6" height="1.1" fill="#888" opacity="0.27"/>
<rect x="28.9" y="82.9" width="1.3" height="1.3" fill="#888" opacity="0.11"/>
<rect x="3.6" y="243.9" width="0.9" height="0.8" fill="#888" opacity="0.16"/>
<rect x="17.6" y="421.8" width="0.6" height="1.2" fill="#888" opacity="0.29"/>
<rect x="36.3" y="703.5" width="1.0" height="2.1" fill="#888" opacity="0.21"/>
<rect x="19.3" y="195.1" width="0.8" height="1.3" fill="#888" opacity="0.20"/>
<rect x="4.2" y="539.2" width="1.3" height="2.3" fill="#888" opacity="0.15"/>
<rect x="6.1" y="581.8" width="0.9" height="1.2" fill="#888" opacity="0.11"/>
<rect x="34.9" y="351.9" width="0.8" height="1.1" fill="#888" opacity="0.19"/>
<rect x="15.3" y="674.4" width="0.9" height="2.2" fill="#888" opacity="0.25"/>
<rect x="19.5" y="277.0" width="1.3" height="1.1" fill="#888" opacity="0.10"/>
<rect x="17.8" y="736.7" width="1.0" height="1.6" fill="#888" opacity="0.20"/>
<rect x="20.2" y="425.8" width="0.6" height="0.8" fill="#888" opacity="0.23"/>
<rect x="26.9" y="616.3" width="1.4" height="0.6" fill="#888" opacity="0.08"/>
<rect x="11.7" y="595.1" width="1.3" height="0.8" fill="#888" opacity="0.20"/>
<rect x="10.5" y="571.1" width="0.8" height="2.4" fill="#888" opacity="0.25"/>
<rect x="28.6" y="232.4" width="1.0" height="2.1" fill="#888" opacity="0.16"/>
<rect x="12.4" y="523.1" width="1.3" height="1.6" fill="#888" opacity="0.29"/>
<rect x="0.3" y="685.5" width="1.0" height="2.2" fill="#888" opacity="0.11"/>
<rect x="14.2" y="545.4" width="0.9" height="2.5" fill="#888" opacity="0.22"/>
<rect x="12.5" y="94.1" width="0.8" height="1.0" fill="#888" opacity="0.18"/>
<rect x="3.3" y="694.4" width="1.1" height="1.4" fill="#888" opacity="0.15"/>
<rect x="25.3" y="265.0" width="1.5" height="2.0" fill="#888" opacity="0.26"/>
<rect x="2.8" y="94.5" width="0.9" height="2.5" fill="#888" opacity="0.26"/>
<rect x="0.5" y="169.3" width="0.8" height="0.6" fill="#888" opacity="0.20"/>
<rect x="12.6" y="514.8" width="1.1" height="1.1" fill="#888" opacity="0.24"/>
<rect x="10.2" y="545.7" width="0.8" height="0.6" fill="#888" opacity="0.18"/>
<rect x="25.9" y="142.2" width="1.4" height="2.2" fill="#888" opacity="0.26"/>
<rect x="16.2" y="134.3" width="1.5" height="0.7" fill="#888" opacity="0.08"/>
<rect x="14.8" y="266.8" width="0.6" height="2.2" fill="#888" opacity="0.15"/>
<rect x="3.9" y="251.6" width="1.5" height="1.7" fill="#888" opacity="0.26"/>
<rect x="2.6" y="414.8" width="1.5" height="2.4" fill="#888" opacity="0.10"/>
<rect x="15.7" y="763.0" width="1.5" height="1.0" fill="#888" opacity="0.09"/>
<rect x="39.7" y="201.5" width="0.9" height="1.7" fill="#888" opacity="0.29"/>
<rect x="18.1" y="670.1" width="0.5" height="1.3" fill="#888" opacity="0.29"/>
<rect x="10.7" y="280.6" width="0.7" height="1.9" fill="#888" opacity="0.22"/>
<rect x="15.3" y="703.0" width="0.8" height="0.8" fill="#888" opacity="0.10"/>
<rect x="17.5" y="611.0" width="1.5" height="2.4" fill="#888" opacity="0.20"/>
<rect x="11.5" y="396.2" width="1.2" height="1.8" fill="#888" opacity="0.27"/>
<rect x="17.2" y="427.0" width="0.7" height="2.2" fill="#888" opacity="0.09"/>
<rect x="20.3" y="439.2" width="0.9" height="0.9" fill="#888" opacity="0.17"/>
<rect x="2.0" y="327.8" width="1.2" height="0.8" fill="#888" opacity="0.14"/>
<rect x="33.9" y="658.3" width="0.7" height="0.5" fill="#888" opacity="0.25"/>
<rect x="9.5" y="278.5" width="0.7" height="1.7" fill="#888" opacity="0.30"/>
<rect x="8.8" y="57.3" width="0.6" height="0.9" fill="#888" opacity="0.18"/>
<rect x="10.5" y="247.8" width="0.7" height="1.3" fill="#888" opacity="0.23"/>
<rect x="2.2" y="608.4" width="1.1" height="1.4" fill="#888" opacity="0.28"/>
<rect x="4.4" y="570.1" width="0.9" height="0.8" fill="#888" opacity="0.21"/>
<rect x="15.1" y="361.1" width="1.1" height="1.3" fill="#888" opacity="0.12"/>
<rect x="19.5" y="420.1" width="1.5" height="1.6" fill="#888" opacity="0.15"/>
<rect x="9.4" y="481.7" width="0.7" height="1.9" fill="#888" opacity="0.30"/>
<rect x="14.3" y="717.3" width="1.4" height="0.9" fill="#888" opacity="0.16"/>
<rect x="10.5" y="49.9" width="1.2" height="1.8" fill="#888" opacity="0.28"/>
<rect x="0.8" y="1.2" width="0.9" height="0.6" fill="#888" opacity="0.20"/>
<rect x="26.6" y="154.5" width="0.9" height="2.4" fill="#888" opacity="0.16"/>
<rect x="17.2" y="414.0" width="0.5" height="1.0" fill="#888" opacity="0.15"/>
<rect x="6.6" y="382.5" width="1.1" height="2.1" fill="#888" opacity="0.10"/>
<rect x="32.7" y="298.4" width="0.9" height="1.4" fill="#888" opacity="0.30"/>
<rect x="38.6" y="701.3" width="1.2" height="0.8" fill="#888" opacity="0.09"/>
<rect x="34.9" y="514.2" width="0.8" height="1.0" fill="#888" opacity="0.28"/>
<rect x="7.7" y="15.1" width="0.6" height="2.5" fill="#888" opacity="0.28"/>
<rect x="2.5" y="3.2" width="1.2" height="2.1" fill="#888" opacity="0.25"/>
<rect x="2.0" y="92.3" width="1.3" height="2.2" fill="#888" opacity="0.19"/>
<rect x="7.1" y="654.7" width="0.5" height="2.5" fill="#888" opacity="0.17"/>
<rect x="32.4" y="612.4" width="1.5" height="2.0" fill="#888" opacity="0.28"/>
<rect x="40.5" y="62.7" width="0.7" height="1.1" fill="#888" opacity="0.16"/>
<rect x="2.8" y="46.1" width="1.5" height="1.5" fill="#888" opacity="0.23"/>
<rect x="9.1" y="586.1" width="1.2" height="1.9" fill="#888" opacity="0.28"/>
<rect x="13.0" y="648.1" width="1.1" height="1.3" fill="#888" opacity="0.20"/>
<rect x="2.7" y="74.2" width="0.5" height="1.9" fill="#888" opacity="0.24"/>
<rect x="25.9" y="157.3" width="1.3" height="1.7" fill="#888" opacity="0.13"/>
<rect x="3.3" y="301.6" width="1.4" height="1.8" fill="#888" opacity="0.29"/>
<rect x="7.2" y="201.8" width="0.6" height="1.1" fill="#888" opacity="0.20"/>
<rect x="20.2" y="694.9" width="1.1" height="1.7" fill="#888" opacity="0.25"/>
<rect x="15.4" y="0.5" width="1.3" height="0.8" fill="#888" opacity="0.10"/>
<rect x="0.4" y="502.7" width="1.0" height="0.5" fill="#888" opacity="0.14"/>
<rect x="5.7" y="156.8" width="0.7" height="1.1" fill="#888" opacity="0.17"/>
<rect x="18.4" y="247.6" width="1.2" height="1.5" fill="#888" opacity="0.08"/>
<rect x="4.5" y="688.0" width="1.3" height="2.3" fill="#888" opacity="0.11"/>
<rect x="7.0" y="428.8" width="1.1" height="1.8" fill="#888" opacity="0.22"/>
<rect x="0.4" y="288.8" width="1.3" height="2.2" fill="#888" opacity="0.28"/>
<rect x="7.6" y="587.8" width="0.7" height="2.2" fill="#888" opacity="0.26"/>
<rect x="35.0" y="291.4" width="0.8" height="1.6" fill="#888" opacity="0.23"/>
<rect x="17.5" y="291.6" width="0.7" height="0.8" fill="#888" opacity="0.14"/>
<rect x="26.9" y="486.8" width="1.4" height="2.0" fill="#888" opacity="0.13"/>
<rect x="3.2" y="129.4" width="0.6" height="1.2" fill="#888" opacity="0.28"/>
<rect x="13.0" y="67.0" width="1.0" height="0.6" fill="#888" opacity="0.10"/>
<rect x="17.0" y="459.3" width="0.7" height="1.7" fill="#888" opacity="0.20"/>
<rect x="9.3" y="723.0" width="1.0" height="2.2" fill="#888" opacity="0.30"/>
<rect x="32.3" y="411.5" width="1.1" height="2.4" fill="#888" opacity="0.29"/>
<rect x="31.9" y="165.4" width="0.9" height="1.0" fill="#888" opacity="0.25"/>
<rect x="9.4" y="542.2" width="1.2" height="1.9" fill="#888" opacity="0.30"/>
<rect x="14.7" y="611.2" width="1.0" height="2.4" fill="#888" opacity="0.18"/>
<rect x="11.7" y="19.8" width="0.8" height="0.7" fill="#888" opacity="0.19"/>
<rect x="7.7" y="131.2" width="1.0" height="1.6" fill="#888" opacity="0.17"/>
<rect x="5.6" y="14.1" width="1.5" height="1.1" fill="#888" opacity="0.16"/>
<rect x="17.5" y="567.3" width="0.5" height="0.8" fill="#888" opacity="0.13"/>
<rect x="21.2" y="305.2" width="0.9" height="1.7" fill="#888" opacity="0.29"/>
<rect x="27.0" y="454.3" width="0.8" height="0.6" fill="#888" opacity="0.29"/>
<rect x="16.4" y="444.7" width="0.9" height="1.8" fill="#888" opacity="0.14"/>
<rect x="19.7" y="281.8" width="0.7" height="1.0" fill="#888" opacity="0.19"/>
<rect x="17.5" y="88.3" width="0.6" height="1.3" fill="#888" opacity="0.25"/>
<rect x="19.6" y="606.0" width="0.9" height="2.1" fill="#888" opacity="0.18"/>
<rect x="3.3" y="365.2" width="1.0" height="0.6" fill="#888" opacity="0.12"/>
<rect x="36.7" y="438.4" width="0.7" height="1.5" fill="#888" opacity="0.18"/>
<rect x="4.5" y="201.3" width="1.2" height="1.5" fill="#888" opacity="0.21"/>
<rect x="36.2" y="728.7" width="0.6" height="2.2" fill="#888" opacity="0.12"/>
<rect x="10.1" y="104.7" width="1.1" height="1.4" fill="#888" opacity="0.18"/>
<rect x="5.9" y="548.6" width="0.8" height="2.2" fill="#888" opacity="0.29"/>
<rect x="8.5" y="752.5" width="0.9" height="1.0" fill="#888" opacity="0.24"/>
<rect x="38.0" y="105.9" width="1.5" height="2.3" fill="#888" opacity="0.18"/>
<rect x="4.4" y="348.6" width="1.3" height="0.9" fill="#888" opacity="0.14"/>
<rect x="41.4" y="9.0" width="0.6" height="2.0" fill="#888" opacity="0.17"/>
<rect x="38.9" y="170.6" width="0.7" height="0.6" fill="#888" opacity="0.10"/>
<rect x="3.2" y="296.9" width="0.9" height="1.9" fill="#888" opacity="0.09"/>
<rect x="12.8" y="412.1" width="0.9" height="1.2" fill="#888" opacity="0.26"/>
<rect x="1.2" y="91.9" width="0.8" height="1.8" fill="#888" opacity="0.29"/>
<rect x="17.4" y="660.4" width="1.3" height="1.4" fill="#888" opacity="0.30"/>
<rect x="2.9" y="90.4" width="1.1" height="1.7" fill="#888" opacity="0.27"/>
<rect x="0.4" y="7.5" width="0.8" height="1.0" fill="#888" opacity="0.27"/>
<rect x="4.7" y="605.8" width="1.1" height="1.7" fill="#888" opacity="0.08"/>
<rect x="25.5" y="468.9" width="1.0" height="0.7" fill="#888" opacity="0.13"/>
<rect x="5.5" y="60.7" width="1.3" height="1.6" fill="#888" opacity="0.16"/>
<rect x="12.4" y="443.9" width="1.4" height="1.2" fill="#888" opacity="0.18"/>
<rect x="24.3" y="754.2" width="0.7" height="1.7" fill="#888" opacity="0.15"/>
<rect x="11.2" y="544.7" width="0.8" height="1.7" fill="#888" opacity="0.26"/>
<rect x="5.6" y="481.1" width="1.0" height="1.6" fill="#888" opacity="0.13"/>
<rect x="5.6" y="381.7" width="1.3" height="2.3" fill="#888" opacity="0.29"/>
<rect x="10.4" y="54.4" width="0.5" height="2.2" fill="#888" opacity="0.23"/>
<rect x="14.2" y="337.3" width="0.7" height="1.2" fill="#888" opacity="0.25"/>
<rect x="4.8" y="447.2" width="0.8" height="0.6" fill="#888" opacity="0.22"/>
<rect x="24.1" y="706.1" width="1.4" height="1.4" fill="#888" opacity="0.19"/>
<rect x="11.8" y="354.7" width="1.0" height="0.5" fill="#888" opacity="0.16"/>
<rect x="8.3" y="476.4" width="1.0" height="2.4" fill="#888" opacity="0.25"/>
<rect x="3.7" y="23.4" width="1.1" height="1.8" fill="#888" opacity="0.19"/>
<rect x="1.5" y="345.1" width="1.1" height="0.6" fill="#888" opacity="0.11"/>
<rect x="15.5" y="416.3" width="1.4" height="2.2" fill="#888" opacity="0.22"/>
<rect x="17.8" y="66.9" width="0.8" height="0.8" fill="#888" opacity="0.27"/>
<rect x="12.3" y="5.7" width="1.5" height="1.7" fill="#888" opacity="0.27"/>
<rect x="7.3" y="440.0" width="0.6" height="1.4" fill="#888" opacity="0.09"/>
<rect x="27.6" y="493.8" width="1.3" height="0.7" fill="#888" opacity="0.27"/>
<rect x="1.8" y="715.2" width="1.2" height="0.8" fill="#888" opacity="0.30"/>
<rect x="7.2" y="689.3" width="1.2" height="1.9" fill="#888" opacity="0.18"/>
<rect x="11.6" y="321.2" width="0.7" height="0.8" fill="#888" opacity="0.19"/>
<rect x="21.4" y="50.9" width="0.8" height="2.0" fill="#888" opacity="0.15"/>
<rect x="3.6" y="371.5" width="1.3" height="0.6" fill="#888" opacity="0.23"/>
<rect x="26.1" y="368.5" width="1.0" height="0.9" fill="#888" opacity="0.23"/>
<rect x="5.4" y="236.7" width="1.1" height="1.5" fill="#888" opacity="0.24"/>
<rect x="20.7" y="293.4" width="0.5" height="1.2" fill="#888" opacity="0.09"/>
<rect x="41.8" y="693.6" width="0.7" height="2.2" fill="#888" opacity="0.14"/>
<rect x="33.8" y="497.4" width="1.2" height="1.0" fill="#888" opacity="0.26"/>
<rect x="22.8" y="578.4" width="0.8" height="1.3" fill="#888" opacity="0.16"/>
<rect x="3.2" y="669.0" width="1.0" height="1.6" fill="#888" opacity="0.27"/>
<rect x="2.9" y="273.4" width="1.0" height="1.5" fill="#888" opacity="0.14"/>
<rect x="20.6" y="512.1" width="1.4" height="2.4" fill="#888" opacity="0.14"/>
<rect x="1.6" y="79.7" width="1.0" height="2.4" fill="#888" opacity="0.25"/>
<rect x="15.3" y="211.0" width="0.6" height="2.2" fill="#888" opacity="0.27"/>
<rect x="2.9" y="726.6" width="0.9" height="1.4" fill="#888" opacity="0.21"/>
<rect x="22.1" y="663.0" width="0.8" height="0.5" fill="#888" opacity="0.25"/>
<rect x="1.7" y="500.4" width="1.4" height="1.2" fill="#888" opacity="0.18"/>
<rect x="40.9" y="149.0" width="0.6" height="1.6" fill="#888" opacity="0.24"/>
<rect x="6.6" y="580.5" width="1.3" height="2.1" fill="#888" opacity="0.29"/>
<rect x="30.1" y="418.3" width="1.3" height="1.8" fill="#888" opacity="0.23"/>
<rect x="18.9" y="258.5" width="1.3" height="1.1" fill="#888" opacity="0.30"/>
<rect x="1.7" y="47.1" width="1.4" height="1.2" fill="#888" opacity="0.17"/>
<rect x="35.9" y="407.1" width="0.9" height="1.4" fill="#888" opacity="0.29"/>
<rect x="3.1" y="401.4" width="0.6" height="1.5" fill="#888" opacity="0.26"/>
<rect x="18.1" y="45.1" width="0.6" height="2.3" fill="#888" opacity="0.09"/>
<rect x="9.3" y="111.6" width="1.3" height="1.4" fill="#888" opacity="0.17"/>
<rect x="21.0" y="397.9" width="0.7" height="0.8" fill="#888" opacity="0.20"/>
<rect x="14.9" y="551.1" width="0.9" height="2.4" fill="#888" opacity="0.15"/>
<rect x="18.2" y="242.5" width="0.8" height="1.8" fill="#888" opacity="0.17"/>
<rect x="12.3" y="222.7" width="1.2" height="1.8" fill="#888" opacity="0.17"/>
<rect x="4.0" y="85.7" width="0.7" height="1.8" fill="#888" opacity="0.15"/>
<rect x="4.0" y="178.7" width="0.6" height="1.9" fill="#888" opacity="0.21"/>
<rect x="10.6" y="619.1" width="0.9" height="1.7" fill="#888" opacity="0.22"/>
<rect x="20.8" y="70.0" width="0.9" height="1.8" fill="#888" opacity="0.10"/>
<rect x="8.2" y="660.3" width="1.0" height="1.0" fill="#888" opacity="0.13"/>
<rect x="5.4" y="524.9" width="1.5" height="2.4" fill="#888" opacity="0.27"/>
<rect x="2.9" y="640.4" width="1.5" height="2.2" fill="#888" opacity="0.22"/>
<rect x="3.2" y="333.3" width="1.0" height="1.0" fill="#888" opacity="0.11"/>
<rect x="36.6" y="439.1" width="0.8" height="1.7" fill="#888" opacity="0.14"/>
<rect x="34.9" y="159.7" width="1.1" height="1.2" fill="#888" opacity="0.10"/>
<rect x="20.4" y="399.6" width="0.7" height="0.9" fill="#888" opacity="0.15"/>
<rect x="33.7" y="177.4" width="0.5" height="0.7" fill="#888" opacity="0.24"/>
<rect x="20.7" y="86.1" width="0.9" height="1.6" fill="#888" opacity="0.17"/>
<rect x="21.2" y="33.1" width="1.1" height="1.2" fill="#888" opacity="0.14"/>
<rect x="7.9" y="713.4" width="0.9" height="1.7" fill="#888" opacity="0.20"/>
<rect x="8.4" y="25.4" width="0.7" height="1.6" fill="#888" opacity="0.08"/>
<rect x="0.9" y="125.4" width="1.1" height="2.5" fill="#888" opacity="0.23"/>
<rect x="21.9" y="10.1" width="1.0" height="2.2" fill="#888" opacity="0.09"/>
<rect x="8.9" y="363.6" width="0.6" height="1.7" fill="#888" opacity="0.13"/>
<rect x="29.5" y="132.7" width="1.1" height="1.9" fill="#888" opacity="0.29"/>
<rect x="19.7" y="521.8" width="1.3" height="2.0" fill="#888" opacity="0.21"/>
<rect x="11.0" y="693.6" width="1.4" height="1.2" fill="#888" opacity="0.26"/>
<rect x="28.5" y="641.6" width="1.0" height="1.3" fill="#888" opacity="0.26"/>
<rect x="27.5" y="412.2" width="0.5" height="0.5" fill="#888" opacity="0.18"/>
<rect x="19.4" y="643.4" width="0.7" height="0.8" fill="#888" opacity="0.25"/>
<rect x="28.5" y="313.5" width="1.1" height="2.4" fill="#888" opacity="0.19"/>
<rect x="15.2" y="353.0" width="0.6" height="1.9" fill="#888" opacity="0.28"/>
<rect x="2.1" y="414.8" width="0.6" height="1.6" fill="#888" opacity="0.27"/>
<rect x="36.4" y="140.1" width="1.3" height="1.5" fill="#888" opacity="0.27"/>
<rect x="7.8" y="256.4" width="1.2" height="1.4" fill="#888" opacity="0.15"/>
<rect x="4.9" y="299.4" width="1.0" height="1.9" fill="#888" opacity="0.16"/>
<rect x="21.2" y="376.9" width="0.8" height="1.6" fill="#888" opacity="0.29"/>
<rect x="3.4" y="48.8" width="1.4" height="1.5" fill="#888" opacity="0.09"/>
<rect x="6.7" y="390.5" width="1.4" height="1.4" fill="#888" opacity="0.13"/>
<rect x="25.1" y="86.2" width="1.1" height="0.7" fill="#888" opacity="0.20"/>
<rect x="13.0" y="569.0" width="1.4" height="1.7" fill="#888" opacity="0.12"/>
<rect x="7.8" y="537.7" width="0.6" height="1.3" fill="#888" opacity="0.14"/>
<rect x="19.6" y="666.5" width="1.2" height="2.0" fill="#888" opacity="0.14"/>
<rect x="11.7" y="286.6" width="1.2" height="0.8" fill="#888" opacity="0.26"/>
<rect x="6.8" y="239.2" width="1.5" height="1.2" fill="#888" opacity="0.29"/>
<rect x="0.8" y="729.8" width="1.3" height="0.8" fill="#888" opacity="0.25"/>
<rect x="1.9" y="94.7" width="1.0" height="1.2" fill="#888" opacity="0.24"/>
<rect x="20.7" y="737.5" width="0.7" height="2.3" fill="#888" opacity="0.28"/>
<rect x="7.1" y="402.5" width="0.7" height="0.9" fill="#888" opacity="0.22"/>
<rect x="13.6" y="586.5" width="1.3" height="0.7" fill="#888" opacity="0.27"/>
<rect x="1.6" y="387.9" width="1" height="3.4" fill="#999" opacity="0.24"/>
<rect x="1.7" y="310.2" width="1" height="5.5" fill="#999" opacity="0.13"/>
<rect x="1.8" y="229.7" width="1" height="2.1" fill="#999" opacity="0.23"/>
<rect x="1.7" y="416.7" width="1" height="4.0" fill="#999" opacity="0.20"/>
<rect x="1.7" y="364.3" width="1" height="2.4" fill="#999" opacity="0.20"/>
<rect x="1.6" y="198.3" width="1" height="3.6" fill="#999" opacity="0.14"/>
<rect x="1.9" y="176.9" width="1" height="4.2" fill="#999" opacity="0.28"/>
<rect x="1.3" y="561.8" width="1" height="5.3" fill="#999" opacity="0.10"/>
<rect x="1.6" y="712.7" width="1" height="2.7" fill="#999" opacity="0.20"/>
<rect x="1.7" y="378.3" width="1" height="3.7" fill="#999" opacity="0.28"/>
<rect x="1.1" y="475.7" width="1" height="6.9" fill="#999" opacity="0.28"/>
<rect x="1.7" y="232.5" width="1" height="7.2" fill="#999" opacity="0.28"/>
<rect x="1.8" y="53.7" width="1" height="3.5" fill="#999" opacity="0.26"/>
<rect x="1.5" y="524.6" width="1" height="7.4" fill="#999" opacity="0.26"/>
<rect x="2.0" y="759.7" width="1" height="5.4" fill="#999" opacity="0.25"/>
<rect x="1.4" y="512.3" width="1" height="5.0" fill="#999" opacity="0.20"/>
<rect x="1.3" y="164.8" width="1" height="7.1" fill="#999" opacity="0.27"/>
<rect x="1.7" y="532.8" width="1" height="5.1" fill="#999" opacity="0.21"/>
<rect x="1.0" y="509.2" width="1" height="4.7" fill="#999" opacity="0.29"/>
<rect x="1.5" y="157.2" width="1" height="2.5" fill="#999" opacity="0.15"/>
<rect x="1.0" y="629.6" width="1" height="6.8" fill="#999" opacity="0.26"/>
<rect x="1.3" y="663.2" width="1" height="7.6" fill="#999" opacity="0.17"/>
<rect x="2.0" y="344.1" width="1" height="5.3" fill="#999" opacity="0.24"/>
<rect x="1.0" y="84.3" width="1" height="3.6" fill="#999" opacity="0.12"/>
<rect x="1.2" y="629.5" width="1" height="7.7" fill="#999" opacity="0.24"/>
<rect x="10.2" y="146.5" width="1" height="3.9" fill="#999" opacity="0.21"/>
<rect x="10.3" y="58.0" width="1" height="6.7" fill="#999" opacity="0.22"/>
<rect x="9.8" y="527.7" width="1" height="2.8" fill="#999" opacity="0.17"/>
<rect x="10.1" y="565.3" width="1" height="2.8" fill="#999" opacity="0.15"/>
<rect x="9.5" y="362.9" width="1" height="2.3" fill="#999" opacity="0.19"/>
<rect x="10.4" y="102.3" width="1" height="2.8" fill="#999" opacity="0.25"/>
<rect x="9.8" y="607.1" width="1" height="5.3" fill="#999" opacity="0.30"/>
<rect x="9.9" y="471.5" width="1" height="7.9" fill="#999" opacity="0.15"/>
<rect x="9.8" y="729.9" width="1" height="4.5" fill="#999" opacity="0.16"/>
<rect x="10.4" y="498.1" width="1" height="6.1" fill="#999" opacity="0.14"/>
<rect x="10.2" y="756.6" width="1" height="5.0" fill="#999" opacity="0.27"/>
<rect x="10.1" y="82.0" width="1" height="6.7" fill="#999" opacity="0.26"/>
<rect x="9.6" y="514.1" width="1" height="4.9" fill="#999" opacity="0.15"/>
<rect x="9.9" y="464.5" width="1" height="4.7" fill="#999" opacity="0.21"/>
<rect x="10.4" y="449.5" width="1" height="3.7" fill="#999" opacity="0.15"/>
<rect x="9.6" y="140.9" width="1" height="7.1" fill="#999" opacity="0.28"/>
<rect x="9.9" y="96.2" width="1" height="7.4" fill="#999" opacity="0.27"/>
<rect x="10.5" y="747.5" width="1" height="3.8" fill="#999" opacity="0.11"/>
<rect x="10.0" y="190.7" width="1" height="2.1" fill="#999" opacity="0.15"/>
<rect x="10.2" y="361.3" width="1" height="2.9" fill="#999" opacity="0.12"/>
<rect x="9.6" y="252.3" width="1" height="2.7" fill="#999" opacity="0.12"/>
<rect x="10.4" y="611.0" width="1" height="2.3" fill="#999" opacity="0.26"/>
<rect x="10.2" y="644.5" width="1" height="3.8" fill="#999" opacity="0.26"/>
<rect x="9.5" y="62.2" width="1" height="7.7" fill="#999" opacity="0.14"/>
<rect x="10.3" y="699.3" width="1" height="2.3" fill="#999" opacity="0.12"/>
<rect x="17.6" y="493.8" width="1" height="6.0" fill="#999" opacity="0.23"/>
<rect x="18.0" y="176.8" width="1" height="3.3" fill="#999" opacity="0.27"/>
<rect x="18.2" y="481.8" width="1" height="5.7" fill="#999" opacity="0.11"/>
<rect x="18.3" y="677.0" width="1" height="5.1" fill="#999" opacity="0.22"/>
<rect x="18.3" y="376.1" width="1" height="5.2" fill="#999" opacity="0.16"/>
<rect x="17.7" y="394.4" width="1" height="2.0" fill="#999" opacity="0.20"/>
<rect x="18.2" y="665.0" width="1" height="3.3" fill="#999" opacity="0.20"/>
<rect x="18.1" y="445.7" width="1" height="4.8" fill="#999" opacity="0.20"/>
<rect x="18.4" y="525.8" width="1" height="5.1" fill="#999" opacity="0.26"/>
<rect x="17.6" y="519.5" width="1" height="3.6" fill="#999" opacity="0.16"/>
<rect x="18.0" y="270.6" width="1" height="3.8" fill="#999" opacity="0.30"/>
<rect x="17.9" y="560.8" width="1" height="6.2" fill="#999" opacity="0.28"/>
<rect x="18.1" y="121.9" width="1" height="7.8" fill="#999" opacity="0.18"/>
<rect x="18.3" y="670.3" width="1" height="3.9" fill="#999" opacity="0.13"/>
<rect x="17.9" y="616.1" width="1" height="4.1" fill="#999" opacity="0.19"/>
<rect x="18.4" y="556.3" width="1" height="7.5" fill="#999" opacity="0.25"/>
<rect x="17.9" y="134.3" width="1" height="2.0" fill="#999" opacity="0.14"/>
<rect x="17.7" y="260.0" width="1" height="4.9" fill="#999" opacity="0.13"/>
<rect x="17.9" y="498.9" width="1" height="3.5" fill="#999" opacity="0.24"/>
<rect x="17.5" y="250.6" width="1" height="7.0" fill="#999" opacity="0.25"/>
<rect x="17.8" y="671.0" width="1" height="3.6" fill="#999" opacity="0.24"/>
<rect x="18.5" y="111.8" width="1" height="5.9" fill="#999" opacity="0.21"/>
<rect x="17.8" y="39.4" width="1" height="4.5" fill="#999" opacity="0.30"/>
<rect x="18.1" y="110.7" width="1" height="2.5" fill="#999" opacity="0.29"/>
<rect x="18.3" y="570.9" width="1" height="6.5" fill="#999" opacity="0.14"/>
<rect x="1047.3" y="39.6" width="1.1" height="0.7" fill="#888" opacity="0.12"/>
<rect x="1045.8" y="703.8" width="1.3" height="1.1" fill="#888" opacity="0.29"/>
<rect x="1045.5" y="115.9" width="0.9" height="2.1" fill="#888" opacity="0.10"/>
<rect x="1059.4" y="420.2" width="1.3" height="1.2" fill="#888" opacity="0.09"/>
<rect x="1044.2" y="555.3" width="1.0" height="2.0" fill="#888" opacity="0.12"/>
<rect x="1048.1" y="169.5" width="1.4" height="1.9" fill="#888" opacity="0.11"/>
<rect x="1058.0" y="39.2" width="1.0" height="1.0" fill="#888" opacity="0.25"/>
<rect x="1057.8" y="525.6" width="0.7" height="0.6" fill="#888" opacity="0.22"/>
<rect x="1057.3" y="17.0" width="1.3" height="2.3" fill="#888" opacity="0.16"/>
<rect x="1053.4" y="500.9" width="1.4" height="1.8" fill="#888" opacity="0.19"/>
<rect x="1058.9" y="379.4" width="0.5" height="1.6" fill="#888" opacity="0.17"/>
<rect x="1049.4" y="307.2" width="0.7" height="1.1" fill="#888" opacity="0.24"/>
<rect x="1061.5" y="354.1" width="1.3" height="0.8" fill="#888" opacity="0.19"/>
<rect x="1058.4" y="599.0" width="0.9" height="0.8" fill="#888" opacity="0.29"/>
<rect x="1055.4" y="502.5" width="0.8" height="0.7" fill="#888" opacity="0.21"/>
<rect x="1050.9" y="681.1" width="1.2" height="2.0" fill="#888" opacity="0.21"/>
<rect x="1058.6" y="111.0" width="1.5" height="1.7" fill="#888" opacity="0.21"/>
<rect x="1046.2" y="78.7" width="1.2" height="2.0" fill="#888" opacity="0.23"/>
<rect x="1047.6" y="377.1" width="1.3" height="1.8" fill="#888" opacity="0.28"/>
<rect x="1044.0" y="594.3" width="0.5" height="1.8" fill="#888" opacity="0.20"/>
<rect x="1043.6" y="325.9" width="1.2" height="2.2" fill="#888" opacity="0.10"/>
<rect x="1053.2" y="609.7" width="0.6" height="2.3" fill="#888" opacity="0.29"/>
<rect x="1049.5" y="167.5" width="0.6" height="0.9" fill="#888" opacity="0.17"/>
<rect x="1057.6" y="716.4" width="1.1" height="2.4" fill="#888" opacity="0.17"/>
<rect x="1056.5" y="10.1" width="0.9" height="0.5" fill="#888" opacity="0.11"/>
<rect x="1059.8" y="96.3" width="0.8" height="1.6" fill="#888" opacity="0.20"/>
<rect x="1042.7" y="93.3" width="1.2" height="1.3" fill="#888" opacity="0.10"/>
<rect x="1052.5" y="290.8" width="1.5" height="0.6" fill="#888" opacity="0.12"/>
<rect x="1043.6" y="425.6" width="1.5" height="2.1" fill="#888" opacity="0.10"/>
<rect x="1053.9" y="279.9" width="1.5" height="1.9" fill="#888" opacity="0.21"/>
<rect x="1047.6" y="339.2" width="1.0" height="1.3" fill="#888" opacity="0.20"/>
<rect x="1044.0" y="327.2" width="1.5" height="1.3" fill="#888" opacity="0.19"/>
<rect x="1058.6" y="622.5" width="1.2" height="1.3" fill="#888" opacity="0.24"/>
<rect x="1046.4" y="475.3" width="0.5" height="0.9" fill="#888" opacity="0.12"/>
<rect x="1049.7" y="566.5" width="0.5" height="2.3" fill="#888" opacity="0.10"/>
<rect x="1062.9" y="725.6" width="1.1" height="2.2" fill="#888" opacity="0.29"/>
<rect x="1051.9" y="655.3" width="0.5" height="2.1" fill="#888" opacity="0.22"/>
<rect x="1059.1" y="122.6" width="0.6" height="1.5" fill="#888" opacity="0.21"/>
<rect x="1057.1" y="145.0" width="1.1" height="2.4" fill="#888" opacity="0.14"/>
<rect x="1060.0" y="734.4" width="1.2" height="1.4" fill="#888" opacity="0.17"/>
<rect x="1052.3" y="104.0" width="0.6" height="1.1" fill="#888" opacity="0.12"/>
<rect x="1061.8" y="283.1" width="1.4" height="1.6" fill="#888" opacity="0.28"/>
<rect x="1061.7" y="546.3" width="0.9" height="1.0" fill="#888" opacity="0.20"/>
<rect x="1048.9" y="634.6" width="0.5" height="1.8" fill="#888" opacity="0.15"/>
<rect x="1051.2" y="418.9" width="1.5" height="2.5" fill="#888" opacity="0.16"/>
<rect x="1063.1" y="730.7" width="1.0" height="1.6" fill="#888" opacity="0.12"/>
<rect x="1059.4" y="376.0" width="1.3" height="2.3" fill="#888" opacity="0.22"/>
<rect x="1057.3" y="423.8" width="0.6" height="1.4" fill="#888" opacity="0.09"/>
<rect x="1046.0" y="749.4" width="0.9" height="0.8" fill="#888" opacity="0.18"/>
<rect x="1043.3" y="467.7" width="0.7" height="0.9" fill="#888" opacity="0.22"/>
<rect x="1062.4" y="20.3" width="1.2" height="1.7" fill="#888" opacity="0.19"/>
<rect x="1051.3" y="18.4" width="0.9" height="1.5" fill="#888" opacity="0.15"/>
<rect x="1063.9" y="266.5" width="1.3" height="2.1" fill="#888" opacity="0.25"/>
<rect x="1052.8" y="386.6" width="1.3" height="0.7" fill="#888" opacity="0.13"/>
<rect x="1042.3" y="380.5" width="1.0" height="2.4" fill="#888" opacity="0.28"/>
<rect x="1050.9" y="384.0" width="0.6" height="2.0" fill="#888" opacity="0.19"/>
<rect x="1045.7" y="671.2" width="0.5" height="0.9" fill="#888" opacity="0.18"/>
<rect x="1063.9" y="114.5" width="0.8" height="2.1" fill="#888" opacity="0.15"/>
<rect x="1062.4" y="24.2" width="0.7" height="1.1" fill="#888" opacity="0.27"/>
<rect x="1044.2" y="518.1" width="1.4" height="2.4" fill="#888" opacity="0.26"/>
<rect x="1043.1" y="374.3" width="0.7" height="0.7" fill="#888" opacity="0.13"/>
<rect x="1058.2" y="443.6" width="0.6" height="1.1" fill="#888" opacity="0.09"/>
<rect x="1062.4" y="578.6" width="1.0" height="2.4" fill="#888" opacity="0.30"/>
<rect x="1046.5" y="201.8" width="0.7" height="1.8" fill="#888" opacity="0.21"/>
<rect x="1053.4" y="593.6" width="1.0" height="1.1" fill="#888" opacity="0.23"/>
<rect x="1062.9" y="47.6" width="1.0" height="0.8" fill="#888" opacity="0.24"/>
<rect x="1051.5" y="642.5" width="1.2" height="2.4" fill="#888" opacity="0.21"/>
<rect x="1055.1" y="744.7" width="1.3" height="1.2" fill="#888" opacity="0.10"/>
<rect x="1062.3" y="58.0" width="1.4" height="2.4" fill="#888" opacity="0.23"/>
<rect x="1062.9" y="467.9" width="1.2" height="1.7" fill="#888" opacity="0.13"/>
<rect x="1043.7" y="570.3" width="1.0" height="0.7" fill="#888" opacity="0.20"/>
<rect x="1047.8" y="207.8" width="1.4" height="1.7" fill="#888" opacity="0.24"/>
<rect x="1060.0" y="339.3" width="1.0" height="1.4" fill="#888" opacity="0.16"/>
<rect x="1059.1" y="676.8" width="0.8" height="1.9" fill="#888" opacity="0.13"/>
<rect x="1042.2" y="526.6" width="1.3" height="1.2" fill="#888" opacity="0.30"/>
<rect x="1057.8" y="252.0" width="1.3" height="2.2" fill="#888" opacity="0.11"/>
<rect x="1062.1" y="337.5" width="0.8" height="1.3" fill="#888" opacity="0.20"/>
<rect x="1053.6" y="231.9" width="0.6" height="1.8" fill="#888" opacity="0.24"/>
<rect x="1057.3" y="309.0" width="1.4" height="0.5" fill="#888" opacity="0.11"/>
<rect x="1042.4" y="428.1" width="1.0" height="1.0" fill="#888" opacity="0.20"/>
<rect x="1042.1" y="37.3" width="1.5" height="2.3" fill="#888" opacity="0.10"/>
<rect x="1056.4" y="393.2" width="1.0" height="2.2" fill="#888" opacity="0.22"/>
<rect x="1062.7" y="524.0" width="1.4" height="0.7" fill="#888" opacity="0.26"/>
<rect x="1049.0" y="704.3" width="1.3" height="2.4" fill="#888" opacity="0.25"/>
<rect x="1050.6" y="404.9" width="1.3" height="0.6" fill="#888" opacity="0.20"/>
<rect x="1054.5" y="551.3" width="0.8" height="1.7" fill="#888" opacity="0.24"/>
<rect x="1050.4" y="524.0" width="1.4" height="1.2" fill="#888" opacity="0.20"/>
<rect x="1052.6" y="642.3" width="0.8" height="1.1" fill="#888" opacity="0.17"/>
<rect x="1056.4" y="126.5" width="1.5" height="1.5" fill="#888" opacity="0.24"/>
<rect x="1051.1" y="30.6" width="0.9" height="1.6" fill="#888" opacity="0.10"/>
<rect x="1063.6" y="452.7" width="1.0" height="0.6" fill="#888" opacity="0.13"/>
<rect x="1049.4" y="499.8" width="0.7" height="1.5" fill="#888" opacity="0.14"/>
<rect x="1054.4" y="528.8" width="1.0" height="2.0" fill="#888" opacity="0.22"/>
<rect x="1043.8" y="505.1" width="1.0" height="2.0" fill="#888" opacity="0.29"/>
<rect x="1049.7" y="650.9" width="0.7" height="1.8" fill="#888" opacity="0.08"/>
<rect x="1060.1" y="346.3" width="1.0" height="1.5" fill="#888" opacity="0.16"/>
<rect x="1047.1" y="531.9" width="1.1" height="0.6" fill="#888" opacity="0.14"/>
<rect x="1062.5" y="223.3" width="0.8" height="1.7" fill="#888" opacity="0.16"/>
<rect x="1062.8" y="750.9" width="0.6" height="0.9" fill="#888" opacity="0.12"/>
<rect x="1051.8" y="224.1" width="1.2" height="2.3" fill="#888" opacity="0.10"/>
<rect x="1042.6" y="94.5" width="0.8" height="0.8" fill="#888" opacity="0.17"/>
<rect x="1050.0" y="558.4" width="1.5" height="2.5" fill="#888" opacity="0.17"/>
<rect x="1056.2" y="109.7" width="1.1" height="2.3" fill="#888" opacity="0.27"/>
<rect x="1045.1" y="135.2" width="1.4" height="1.9" fill="#888" opacity="0.25"/>
<rect x="1043.5" y="476.4" width="0.5" height="2.0" fill="#888" opacity="0.25"/>
<rect x="1049.1" y="12.2" width="1.2" height="2.5" fill="#888" opacity="0.22"/>
<rect x="1050.1" y="258.0" width="1.3" height="2.4" fill="#888" opacity="0.16"/>
<rect x="1046.9" y="761.3" width="0.9" height="1.4" fill="#888" opacity="0.15"/>
<rect x="1057.9" y="750.8" width="1.0" height="2.2" fill="#888" opacity="0.17"/>
<rect x="1051.3" y="614.8" width="1.5" height="2.0" fill="#888" opacity="0.24"/>
<rect x="1060.2" y="703.0" width="1.5" height="1.6" fill="#888" opacity="0.17"/>
<rect x="1042.2" y="407.3" width="0.9" height="0.5" fill="#888" opacity="0.30"/>
<rect x="1048.8" y="712.7" width="0.5" height="1.2" fill="#888" opacity="0.25"/>
<rect x="1056.8" y="517.4" width="1.0" height="0.7" fill="#888" opacity="0.26"/>
<rect x="1058.7" y="370.2" width="1.1" height="2.1" fill="#888" opacity="0.19"/>
<rect x="1052.5" y="375.3" width="1.2" height="2.0" fill="#888" opacity="0.15"/>
<rect x="1059.1" y="293.2" width="1.2" height="1.3" fill="#888" opacity="0.28"/>
<rect x="1062.7" y="596.4" width="0.9" height="1.2" fill="#888" opacity="0.18"/>
<rect x="1055.3" y="35.5" width="1.0" height="2.4" fill="#888" opacity="0.09"/>
<rect x="1061.6" y="441.4" width="1.5" height="1.9" fill="#888" opacity="0.24"/>
<rect x="1058.6" y="327.6" width="0.6" height="2.2" fill="#888" opacity="0.27"/>
<rect x="1057.9" y="174.1" width="1.0" height="1.5" fill="#888" opacity="0.16"/>
<rect x="1052.8" y="355.0" width="1.5" height="1.8" fill="#888" opacity="0.29"/>
<rect x="1062.0" y="143.8" width="1.3" height="1.3" fill="#888" opacity="0.21"/>
<rect x="1054.4" y="567.8" width="0.8" height="1.9" fill="#888" opacity="0.16"/>
<rect x="1059.2" y="382.2" width="1.1" height="2.5" fill="#888" opacity="0.14"/>
<rect x="1042.1" y="685.3" width="1.0" height="1.8" fill="#888" opacity="0.26"/>
<rect x="1061.6" y="301.0" width="1.5" height="1.3" fill="#888" opacity="0.24"/>
<rect x="1060.3" y="283.5" width="0.9" height="1.2" fill="#888" opacity="0.16"/>
<rect x="1051.1" y="649.3" width="0.6" height="2.5" fill="#888" opacity="0.25"/>
<rect x="1054.3" y="494.2" width="0.8" height="2.0" fill="#888" opacity="0.27"/>
<rect x="1050.4" y="386.4" width="0.7" height="1.0" fill="#888" opacity="0.27"/>
<rect x="1056.1" y="347.2" width="1.1" height="0.9" fill="#888" opacity="0.08"/>
<rect x="1049.9" y="443.7" width="0.7" height="1.6" fill="#888" opacity="0.15"/>
<rect x="1047.8" y="568.0" width="0.9" height="2.0" fill="#888" opacity="0.24"/>
<rect x="1050.3" y="33.9" width="1.3" height="1.6" fill="#888" opacity="0.21"/>
<rect x="1057.1" y="423.7" width="1.4" height="0.5" fill="#888" opacity="0.29"/>
<rect x="1055.6" y="317.1" width="1.4" height="2.3" fill="#888" opacity="0.21"/>
<rect x="1042.2" y="480.1" width="0.9" height="1.6" fill="#888" opacity="0.26"/>
<rect x="1044.9" y="646.7" width="0.8" height="1.0" fill="#888" opacity="0.09"/>
<rect x="1044.3" y="211.9" width="1.0" height="2.4" fill="#888" opacity="0.12"/>
<rect x="1048.4" y="291.3" width="1.1" height="1.2" fill="#888" opacity="0.23"/>
<rect x="1045.3" y="43.0" width="1.1" height="1.9" fill="#888" opacity="0.11"/>
<rect x="1043.1" y="514.3" width="0.6" height="2.4" fill="#888" opacity="0.23"/>
<rect x="1045.5" y="318.8" width="0.6" height="0.7" fill="#888" opacity="0.16"/>
<rect x="1061.3" y="695.9" width="1.3" height="1.8" fill="#888" opacity="0.21"/>
<rect x="1053.2" y="504.6" width="1.0" height="1.3" fill="#888" opacity="0.26"/>
<rect x="1048.6" y="315.9" width="1.2" height="2.4" fill="#888" opacity="0.16"/>
<rect x="1051.5" y="313.1" width="0.7" height="1.2" fill="#888" opacity="0.25"/>
<rect x="1046.1" y="370.1" width="0.8" height="1.7" fill="#888" opacity="0.25"/>
<rect x="1044.5" y="376.8" width="0.7" height="1.8" fill="#888" opacity="0.23"/>
<rect x="1046.9" y="183.9" width="0.8" height="1.2" fill="#888" opacity="0.28"/>
<rect x="1061.2" y="606.7" width="0.9" height="1.4" fill="#888" opacity="0.12"/>
<rect x="1052.1" y="727.0" width="0.6" height="1.3" fill="#888" opacity="0.12"/>
<rect x="1060.6" y="237.3" width="1.0" height="0.6" fill="#888" opacity="0.23"/>
<rect x="1053.3" y="613.9" width="1.2" height="2.0" fill="#888" opacity="0.14"/>
<rect x="1047.5" y="460.7" width="0.5" height="2.4" fill="#888" opacity="0.24"/>
<rect x="1052.9" y="282.5" width="0.6" height="1.6" fill="#888" opacity="0.25"/>
<rect x="1044.6" y="84.7" width="1.2" height="1.4" fill="#888" opacity="0.25"/>
<rect x="1051.1" y="750.6" width="1.4" height="1.1" fill="#888" opacity="0.20"/>
<rect x="1054.9" y="349.6" width="1.3" height="1.9" fill="#888" opacity="0.26"/>
<rect x="1047.6" y="390.7" width="1.0" height="1.7" fill="#888" opacity="0.08"/>
<rect x="1059.9" y="347.8" width="0.7" height="2.2" fill="#888" opacity="0.20"/>
<rect x="1058.3" y="567.9" width="1.1" height="2.3" fill="#888" opacity="0.09"/>
<rect x="1049.3" y="133.5" width="1.1" height="0.9" fill="#888" opacity="0.09"/>
<rect x="1045.0" y="141.5" width="1.0" height="1.4" fill="#888" opacity="0.18"/>
<rect x="1042.3" y="408.3" width="0.8" height="0.7" fill="#888" opacity="0.09"/>
<rect x="1045.3" y="312.2" width="0.7" height="1.4" fill="#888" opacity="0.12"/>
<rect x="1058.2" y="670.4" width="0.8" height="0.6" fill="#888" opacity="0.29"/>
<rect x="1043.9" y="500.1" width="1.3" height="1.5" fill="#888" opacity="0.28"/>
<rect x="1045.2" y="553.2" width="1.4" height="2.3" fill="#888" opacity="0.27"/>
<rect x="1051.6" y="395.9" width="1.3" height="1.3" fill="#888" opacity="0.14"/>
<rect x="1042.7" y="163.9" width="0.6" height="2.4" fill="#888" opacity="0.15"/>
<rect x="1049.8" y="744.8" width="1.2" height="1.4" fill="#888" opacity="0.10"/>
<rect x="1050.0" y="229.4" width="1.4" height="1.3" fill="#888" opacity="0.29"/>
<rect x="1047.9" y="45.8" width="1.4" height="0.7" fill="#888" opacity="0.25"/>
<rect x="1055.1" y="224.0" width="1.3" height="1.4" fill="#888" opacity="0.30"/>
<rect x="1054.3" y="721.6" width="1.4" height="1.3" fill="#888" opacity="0.23"/>
<rect x="1058.0" y="503.9" width="0.5" height="1.9" fill="#888" opacity="0.25"/>
<rect x="1046.3" y="81.8" width="0.6" height="1.6" fill="#888" opacity="0.10"/>
<rect x="1060.7" y="323.1" width="1.5" height="2.0" fill="#888" opacity="0.17"/>
<rect x="1046.0" y="331.6" width="1.1" height="2.2" fill="#888" opacity="0.28"/>
<rect x="1049.1" y="27.6" width="1.2" height="1.9" fill="#888" opacity="0.22"/>
<rect x="1059.7" y="622.3" width="1.1" height="2.1" fill="#888" opacity="0.11"/>
<rect x="1062.8" y="512.5" width="0.6" height="0.8" fill="#888" opacity="0.22"/>
<rect x="1048.7" y="716.6" width="0.8" height="1.5" fill="#888" opacity="0.19"/>
<rect x="1062.7" y="239.1" width="1.4" height="1.9" fill="#888" opacity="0.21"/>
<rect x="1062.8" y="676.3" width="1.2" height="1.6" fill="#888" opacity="0.09"/>
<rect x="1046.9" y="500.7" width="0.6" height="1.8" fill="#888" opacity="0.16"/>
<rect x="1050.5" y="630.4" width="1.3" height="2.0" fill="#888" opacity="0.18"/>
<rect x="1053.8" y="753.1" width="1.4" height="1.7" fill="#888" opacity="0.10"/>
<rect x="1061.8" y="44.4" width="0.6" height="1.8" fill="#888" opacity="0.12"/>
<rect x="1058.6" y="527.6" width="0.7" height="2.3" fill="#888" opacity="0.30"/>
<rect x="1056.5" y="750.5" width="1.3" height="1.4" fill="#888" opacity="0.26"/>
<rect x="1062.6" y="534.8" width="0.6" height="1.2" fill="#888" opacity="0.23"/>
<rect x="1050.0" y="135.6" width="1.0" height="0.8" fill="#888" opacity="0.18"/>
<rect x="1044.2" y="557.9" width="0.7" height="2.4" fill="#888" opacity="0.10"/>
<rect x="1055.9" y="495.2" width="0.7" height="1.8" fill="#888" opacity="0.20"/>
<rect x="1055.5" y="149.5" width="1.0" height="2.2" fill="#888" opacity="0.22"/>
<rect x="1047.4" y="261.9" width="1.4" height="0.6" fill="#888" opacity="0.19"/>
<rect x="1053.3" y="334.3" width="0.5" height="0.7" fill="#888" opacity="0.27"/>
<rect x="1052.0" y="230.0" width="1.0" height="0.6" fill="#888" opacity="0.10"/>
<rect x="1060.2" y="582.8" width="0.7" height="1.1" fill="#888" opacity="0.10"/>
<rect x="1049.0" y="402.9" width="1.3" height="1.5" fill="#888" opacity="0.27"/>
<rect x="1064.0" y="437.8" width="0.5" height="0.8" fill="#888" opacity="0.23"/>
<rect x="1044.9" y="688.0" width="0.6" height="0.6" fill="#888" opacity="0.30"/>
<rect x="1050.9" y="428.6" width="1.1" height="0.7" fill="#888" opacity="0.15"/>
<rect x="1050.1" y="566.3" width="1.3" height="1.9" fill="#888" opacity="0.12"/>
<rect x="1052.2" y="700.5" width="0.7" height="1.2" fill="#888" opacity="0.22"/>
<rect x="1063.9" y="29.1" width="1.2" height="1.4" fill="#888" opacity="0.20"/>
<rect x="1060.5" y="82.3" width="1.1" height="1.1" fill="#888" opacity="0.25"/>
<rect x="1057.7" y="323.5" width="0.7" height="2.0" fill="#888" opacity="0.23"/>
<rect x="1054.4" y="572.3" width="1.4" height="1.0" fill="#888" opacity="0.23"/>
<rect x="1059.7" y="210.5" width="1.4" height="1.1" fill="#888" opacity="0.29"/>
<rect x="1054.8" y="743.5" width="1.4" height="2.1" fill="#888" opacity="0.16"/>
<rect x="1052.1" y="452.7" width="1.3" height="1.3" fill="#888" opacity="0.28"/>
<rect x="1046.8" y="402.7" width="0.6" height="0.8" fill="#888" opacity="0.14"/>
<rect x="1043.0" y="439.6" width="1.1" height="1.3" fill="#888" opacity="0.26"/>
<rect x="1054.0" y="525.2" width="0.6" height="1.2" fill="#888" opacity="0.08"/>
<rect x="1045.5" y="650.8" width="0.6" height="1.7" fill="#888" opacity="0.16"/>
<rect x="1056.8" y="667.1" width="1.3" height="2.4" fill="#888" opacity="0.29"/>
<rect x="1050.8" y="755.0" width="1.3" height="1.1" fill="#888" opacity="0.15"/>
<rect x="1053.5" y="647.4" width="0.6" height="2.3" fill="#888" opacity="0.23"/>
<rect x="1055.0" y="316.9" width="0.9" height="1.3" fill="#888" opacity="0.24"/>
<rect x="1051.7" y="548.2" width="1.4" height="0.7" fill="#888" opacity="0.08"/>
<rect x="1062.7" y="155.8" width="1.3" height="1.3" fill="#888" opacity="0.13"/>
<rect x="1042.3" y="333.2" width="1.1" height="0.6" fill="#888" opacity="0.08"/>
<rect x="1048.3" y="674.3" width="1.3" height="1.0" fill="#888" opacity="0.17"/>
<rect x="1051.2" y="544.3" width="0.8" height="1.2" fill="#888" opacity="0.19"/>
<rect x="1047.2" y="333.6" width="1.2" height="1.5" fill="#888" opacity="0.09"/>
<rect x="1049.7" y="440.0" width="0.7" height="1.3" fill="#888" opacity="0.20"/>
<rect x="1050.0" y="147.9" width="1.4" height="0.6" fill="#888" opacity="0.28"/>
<rect x="1044.1" y="427.7" width="1.0" height="1.3" fill="#888" opacity="0.22"/>
<rect x="1061.4" y="250.6" width="0.6" height="0.9" fill="#888" opacity="0.27"/>
<rect x="1055.2" y="578.6" width="0.9" height="1.1" fill="#888" opacity="0.23"/>
<rect x="1054.5" y="698.6" width="0.7" height="1.2" fill="#888" opacity="0.23"/>
<rect x="1062.0" y="361.9" width="1.3" height="0.7" fill="#888" opacity="0.22"/>
<rect x="1049.2" y="532.8" width="0.8" height="0.9" fill="#888" opacity="0.14"/>
<rect x="1057.9" y="547.1" width="1.4" height="1.3" fill="#888" opacity="0.09"/>
<rect x="1059.8" y="203.3" width="1.2" height="1.5" fill="#888" opacity="0.18"/>
<rect x="1042.7" y="181.0" width="1.2" height="1.4" fill="#888" opacity="0.27"/>
<rect x="1059.8" y="412.5" width="1.5" height="0.5" fill="#888" opacity="0.17"/>
<rect x="1053.7" y="50.6" width="1.4" height="0.8" fill="#888" opacity="0.21"/>
<rect x="1048.0" y="297.9" width="1.0" height="1.1" fill="#888" opacity="0.12"/>
<rect x="1056.7" y="482.2" width="0.6" height="2.4" fill="#888" opacity="0.10"/>
<rect x="1046.9" y="222.2" width="0.9" height="1.5" fill="#888" opacity="0.28"/>
<rect x="1044.2" y="442.9" width="1.1" height="1.0" fill="#888" opacity="0.16"/>
<rect x="1051.8" y="678.8" width="1.3" height="1.5" fill="#888" opacity="0.10"/>
<rect x="1049.9" y="625.8" width="0.9" height="1.3" fill="#888" opacity="0.22"/>
<rect x="1042.9" y="498.6" width="1.2" height="0.7" fill="#888" opacity="0.17"/>
<rect x="1060.8" y="207.8" width="1.0" height="1.2" fill="#888" opacity="0.20"/>
<rect x="1050.6" y="269.5" width="1.4" height="1.9" fill="#888" opacity="0.30"/>
<rect x="1049.4" y="361.8" width="0.9" height="2.2" fill="#888" opacity="0.16"/>
<rect x="1057.0" y="143.4" width="1.0" height="1.0" fill="#888" opacity="0.28"/>
<rect x="1050.1" y="728.4" width="1.1" height="1.2" fill="#888" opacity="0.20"/>
<rect x="1062.5" y="532.9" width="1.3" height="1.6" fill="#888" opacity="0.22"/>
<rect x="1045.1" y="637.2" width="1.1" height="1.8" fill="#888" opacity="0.15"/>
<rect x="1058.8" y="407.5" width="0.8" height="2.5" fill="#888" opacity="0.25"/>
<rect x="1056.9" y="643.3" width="1.2" height="1.3" fill="#888" opacity="0.29"/>
<rect x="1061.9" y="516.2" width="0.9" height="1.5" fill="#888" opacity="0.09"/>
<rect x="1061.6" y="636.4" width="1.1" height="1.4" fill="#888" opacity="0.26"/>
<rect x="1042.5" y="311.8" width="0.8" height="1.7" fill="#888" opacity="0.16"/>
<rect x="1055.4" y="686.7" width="0.9" height="0.7" fill="#888" opacity="0.08"/>
<rect x="1060.4" y="363.2" width="0.9" height="0.6" fill="#888" opacity="0.10"/>
<rect x="1042.0" y="685.4" width="0.5" height="1.1" fill="#888" opacity="0.18"/>
<rect x="1054.6" y="177.6" width="1.1" height="1.8" fill="#888" opacity="0.30"/>
<rect x="1044.1" y="233.1" width="0.6" height="1.1" fill="#888" opacity="0.13"/>
<rect x="1042.7" y="618.6" width="0.8" height="2.0" fill="#888" opacity="0.26"/>
<rect x="1059.5" y="28.8" width="1.1" height="2.2" fill="#888" opacity="0.22"/>
<rect x="1055.3" y="330.8" width="1.3" height="1.6" fill="#888" opacity="0.16"/>
<rect x="1052.9" y="365.5" width="0.7" height="1.8" fill="#888" opacity="0.26"/>
<rect x="1056.4" y="17.8" width="0.9" height="2.0" fill="#888" opacity="0.11"/>
<rect x="1053.1" y="525.2" width="1.0" height="1.2" fill="#888" opacity="0.08"/>
<rect x="1057.5" y="135.4" width="1.1" height="1.5" fill="#888" opacity="0.24"/>
<rect x="1044.5" y="744.2" width="1.2" height="2.2" fill="#888" opacity="0.12"/>
<rect x="1057.8" y="295.4" width="1.2" height="1.9" fill="#888" opacity="0.17"/>
<rect x="1062.8" y="340.4" width="1.0" height="1.9" fill="#888" opacity="0.11"/>
<rect x="1061.7" y="260.5" width="1.4" height="0.8" fill="#888" opacity="0.11"/>
<rect x="1055.0" y="191.4" width="0.9" height="0.9" fill="#888" opacity="0.24"/>
<rect x="1058.2" y="527.4" width="0.6" height="0.6" fill="#888" opacity="0.21"/>
<rect x="1043.8" y="550.0" width="1.0" height="2.4" fill="#888" opacity="0.26"/>
<rect x="1056.4" y="633.8" width="1.0" height="1.1" fill="#888" opacity="0.09"/>
<rect x="1057.5" y="512.0" width="1.1" height="1.5" fill="#888" opacity="0.18"/>
<rect x="1062.2" y="293.8" width="0.6" height="2.4" fill="#888" opacity="0.25"/>
<rect x="1061.7" y="753.1" width="0.9" height="0.8" fill="#888" opacity="0.19"/>
<rect x="1052.8" y="302.1" width="1.3" height="1.0" fill="#888" opacity="0.29"/>
<rect x="1046.7" y="224.1" width="1.3" height="1.0" fill="#888" opacity="0.24"/>
<rect x="1048.0" y="318.5" width="1.0" height="1.0" fill="#888" opacity="0.26"/>
<rect x="1062.7" y="707.3" width="0.7" height="0.6" fill="#888" opacity="0.18"/>
<rect x="1058.3" y="422.5" width="1.5" height="2.5" fill="#888" opacity="0.23"/>
<rect x="1047.7" y="312.8" width="0.6" height="1.3" fill="#888" opacity="0.25"/>
<rect x="1049.0" y="149.6" width="1.0" height="2.3" fill="#888" opacity="0.22"/>
<rect x="1044.4" y="335.5" width="0.7" height="2.1" fill="#888" opacity="0.17"/>
<rect x="1051.8" y="671.7" width="0.8" height="1.4" fill="#888" opacity="0.30"/>
<rect x="1048.7" y="416.9" width="1.1" height="1.2" fill="#888" opacity="0.22"/>
<rect x="1051.3" y="636.6" width="1.1" height="2.0" fill="#888" opacity="0.21"/>
<rect x="1057.3" y="304.1" width="0.6" height="1.2" fill="#888" opacity="0.15"/>
<rect x="1042.3" y="589.9" width="1.0" height="1.5" fill="#888" opacity="0.23"/>
<rect x="1043.5" y="104.7" width="1.2" height="0.6" fill="#888" opacity="0.27"/>
<rect x="1053.2" y="739.1" width="1.4" height="1.3" fill="#888" opacity="0.16"/>
<rect x="1051.5" y="590.1" width="1.0" height="1.9" fill="#888" opacity="0.30"/>
<rect x="1058.5" y="397.2" width="1.2" height="1.5" fill="#888" opacity="0.21"/>
<rect x="1051.2" y="715.3" width="1.5" height="1.6" fill="#888" opacity="0.20"/>
<rect x="1044.3" y="436.4" width="1.4" height="1.0" fill="#888" opacity="0.25"/>
<rect x="1047.6" y="548.2" width="0.8" height="1.7" fill="#888" opacity="0.25"/>
<rect x="1042.7" y="643.5" width="1.0" height="1.0" fill="#888" opacity="0.15"/>
<rect x="1054.2" y="568.8" width="0.7" height="0.6" fill="#888" opacity="0.13"/>
<rect x="1056.0" y="313.9" width="1.3" height="2.0" fill="#888" opacity="0.16"/>
<rect x="1055.0" y="119.9" width="1.1" height="1.8" fill="#888" opacity="0.13"/>
<rect x="1056.7" y="114.6" width="1.5" height="1.6" fill="#888" opacity="0.28"/>
<rect x="1056.7" y="171.8" width="1.2" height="1.7" fill="#888" opacity="0.16"/>
<rect x="1057.2" y="583.2" width="1.2" height="0.9" fill="#888" opacity="0.29"/>
<rect x="1062.0" y="337.3" width="1.4" height="2.5" fill="#888" opacity="0.16"/>
<rect x="1046.2" y="194.0" width="1.0" height="0.8" fill="#888" opacity="0.13"/>
<rect x="1058.1" y="24.1" width="1.1" height="1.3" fill="#888" opacity="0.24"/>
<rect x="1047.7" y="370.8" width="0.7" height="0.5" fill="#888" opacity="0.27"/>
<rect x="1050.1" y="232.6" width="1.4" height="1.2" fill="#888" opacity="0.20"/>
<rect x="1045.1" y="320.4" width="1.4" height="2.1" fill="#888" opacity="0.26"/>
<rect x="1062.1" y="184.0" width="0.6" height="0.8" fill="#888" opacity="0.22"/>
<rect x="1054.0" y="288.4" width="1.2" height="0.9" fill="#888" opacity="0.21"/>
<rect x="1051.2" y="115.1" width="1.3" height="0.9" fill="#888" opacity="0.26"/>
<rect x="1058.7" y="339.4" width="1.0" height="0.9" fill="#888" opacity="0.11"/>
<rect x="1057.3" y="289.6" width="1.1" height="1.2" fill="#888" opacity="0.14"/>
<rect x="1045.6" y="584.8" width="0.9" height="0.8" fill="#888" opacity="0.27"/>
<rect x="1045.4" y="182.8" width="0.7" height="1.6" fill="#888" opacity="0.25"/>
<rect x="1042.7" y="707.4" width="1.2" height="2.2" fill="#888" opacity="0.17"/>
<rect x="1051.6" y="80.8" width="0.8" height="2.2" fill="#888" opacity="0.14"/>
<rect x="1061.8" y="638.5" width="1.4" height="0.8" fill="#888" opacity="0.17"/>
<rect x="1060.3" y="244.7" width="0.7" height="0.5" fill="#888" opacity="0.20"/>
<rect x="1054.1" y="169.6" width="0.8" height="1.8" fill="#888" opacity="0.12"/>
<rect x="1059.3" y="667.7" width="0.9" height="0.8" fill="#888" opacity="0.21"/>
<rect x="1048.5" y="89.2" width="1.2" height="1.6" fill="#888" opacity="0.14"/>
<rect x="1047.4" y="555.8" width="1.4" height="1.2" fill="#888" opacity="0.21"/>
<rect x="1046.9" y="360.7" width="1.1" height="1.1" fill="#888" opacity="0.21"/>
<rect x="1053.9" y="42.8" width="0.6" height="1.3" fill="#888" opacity="0.11"/>
<rect x="1054.0" y="457.3" width="1.1" height="2.3" fill="#888" opacity="0.21"/>
<rect x="1059.0" y="97.0" width="1.4" height="2.4" fill="#888" opacity="0.21"/>
<rect x="1060.2" y="424.7" width="0.9" height="0.8" fill="#888" opacity="0.19"/>
<rect x="1057.7" y="608.9" width="1.4" height="1.5" fill="#888" opacity="0.29"/>
<rect x="1050.2" y="24.1" width="0.9" height="1.6" fill="#888" opacity="0.25"/>
<rect x="1047.1" y="29.0" width="1.2" height="0.9" fill="#888" opacity="0.27"/>
<rect x="1054.5" y="112.4" width="1.0" height="2.0" fill="#888" opacity="0.13"/>
<rect x="1063.0" y="52.6" width="0.6" height="1.7" fill="#888" opacity="0.23"/>
<rect x="1055.2" y="706.2" width="0.7" height="0.6" fill="#888" opacity="0.20"/>
<rect x="1049.7" y="308.7" width="0.9" height="2.3" fill="#888" opacity="0.14"/>
<rect x="1057.2" y="437.9" width="0.8" height="2.3" fill="#888" opacity="0.14"/>
<rect x="1048.6" y="155.2" width="1.2" height="1.9" fill="#888" opacity="0.16"/>
<rect x="1044.6" y="459.0" width="0.8" height="1.6" fill="#888" opacity="0.22"/>
<rect x="1042.0" y="44.4" width="1.3" height="2.2" fill="#888" opacity="0.10"/>
<rect x="1046.9" y="331.4" width="1.3" height="1.1" fill="#888" opacity="0.29"/>
<rect x="1044.0" y="692.6" width="0.6" height="1.7" fill="#888" opacity="0.29"/>
<rect x="1057.9" y="698.9" width="0.9" height="2.4" fill="#888" opacity="0.28"/>
<rect x="1048.0" y="591.8" width="1.4" height="0.9" fill="#888" opacity="0.17"/>
<rect x="1059.0" y="442.5" width="1.4" height="1.4" fill="#888" opacity="0.18"/>
<rect x="1045.7" y="216.9" width="1.4" height="1.0" fill="#888" opacity="0.28"/>
<rect x="1059.7" y="440.0" width="0.8" height="0.5" fill="#888" opacity="0.11"/>
<rect x="1060.2" y="732.8" width="1.5" height="1.1" fill="#888" opacity="0.29"/>
<rect x="1051.7" y="287.3" width="1.4" height="2.1" fill="#888" opacity="0.23"/>
<rect x="1048.3" y="90.7" width="0.7" height="1.0" fill="#888" opacity="0.12"/>
<rect x="1054.6" y="247.2" width="0.7" height="2.3" fill="#888" opacity="0.16"/>
<rect x="1042.1" y="17.1" width="1.1" height="0.6" fill="#888" opacity="0.20"/>
<rect x="1042.6" y="363.9" width="1.1" height="1.6" fill="#888" opacity="0.13"/>
<rect x="1060.4" y="743.2" width="1.3" height="2.4" fill="#888" opacity="0.29"/>
<rect x="1050.1" y="419.8" width="0.9" height="2.1" fill="#888" opacity="0.12"/>
<rect x="1047.0" y="350.1" width="1.0" height="2.5" fill="#888" opacity="0.15"/>
<rect x="1042.1" y="302.5" width="1.4" height="0.7" fill="#888" opacity="0.19"/>
<rect x="1055.2" y="642.7" width="0.8" height="1.7" fill="#888" opacity="0.29"/>
<rect x="1063.4" y="436.0" width="0.8" height="1.8" fill="#888" opacity="0.24"/>
<rect x="1057.0" y="519.0" width="0.9" height="1.9" fill="#888" opacity="0.16"/>
<rect x="1047.1" y="85.3" width="1.1" height="0.8" fill="#888" opacity="0.14"/>
<rect x="1048.5" y="290.4" width="0.9" height="2.4" fill="#888" opacity="0.20"/>
<rect x="1054.1" y="312.0" width="1.0" height="2.1" fill="#888" opacity="0.19"/>
<rect x="1053.3" y="274.7" width="0.7" height="0.9" fill="#888" opacity="0.10"/>
<rect x="1048.3" y="40.6" width="0.9" height="1.6" fill="#888" opacity="0.11"/>
<rect x="1058.6" y="350.6" width="1.1" height="1.4" fill="#888" opacity="0.25"/>
<rect x="1057.0" y="101.1" width="1.0" height="1.0" fill="#888" opacity="0.24"/>
<rect x="1050.2" y="178.9" width="0.5" height="2.5" fill="#888" opacity="0.11"/>
<rect x="1047.5" y="711.9" width="0.6" height="1.3" fill="#888" opacity="0.18"/>
<rect x="1057.0" y="599.9" width="1.5" height="1.1" fill="#888" opacity="0.10"/>
<rect x="1046.7" y="13.7" width="0.8" height="1.7" fill="#888" opacity="0.28"/>
<rect x="1044.2" y="212.1" width="1.4" height="1.7" fill="#888" opacity="0.17"/>
<rect x="1043.6" y="52.4" width="0.7" height="1.7" fill="#888" opacity="0.09"/>
<rect x="1053.1" y="626.6" width="0.5" height="1.1" fill="#888" opacity="0.17"/>
<rect x="1055.4" y="564.8" width="1.2" height="1.4" fill="#888" opacity="0.15"/>
<rect x="1055.8" y="356.6" width="1.4" height="1.6" fill="#888" opacity="0.21"/>
<rect x="1056.7" y="373.7" width="1.0" height="1.8" fill="#888" opacity="0.21"/>
<rect x="1064.0" y="240.2" width="1.0" height="2.4" fill="#888" opacity="0.26"/>
<rect x="1054.2" y="239.4" width="0.7" height="1.3" fill="#888" opacity="0.17"/>
<rect x="1051.5" y="203.0" width="1.0" height="1.6" fill="#888" opacity="0.10"/>
<rect x="1056.5" y="545.4" width="0.7" height="1.0" fill="#888" opacity="0.09"/>
<rect x="1052.4" y="519.0" width="0.9" height="1.7" fill="#888" opacity="0.21"/>
<rect x="1043.0" y="50.5" width="1.0" height="2.3" fill="#888" opacity="0.24"/>
<rect x="1051.8" y="205.8" width="0.6" height="1.8" fill="#888" opacity="0.25"/>
<rect x="1050.6" y="74.3" width="0.8" height="1.9" fill="#888" opacity="0.25"/>
<rect x="1050.8" y="679.0" width="0.9" height="0.5" fill="#888" opacity="0.13"/>
<rect x="1061.6" y="542.0" width="0.6" height="1.1" fill="#888" opacity="0.17"/>
<rect x="1052.6" y="29.1" width="1.4" height="1.6" fill="#888" opacity="0.14"/>
<rect x="1042.7" y="440.7" width="1.4" height="1.9" fill="#888" opacity="0.27"/>
<rect x="1061.2" y="511.5" width="0.6" height="1.1" fill="#888" opacity="0.21"/>
<rect x="1051.2" y="173.7" width="0.6" height="2.2" fill="#888" opacity="0.23"/>
<rect x="1048.6" y="364.4" width="1.4" height="0.8" fill="#888" opacity="0.22"/>
<rect x="1047.1" y="692.2" width="1.3" height="2.4" fill="#888" opacity="0.16"/>
<rect x="1053.2" y="252.4" width="0.9" height="2.4" fill="#888" opacity="0.29"/>
<rect x="1063.9" y="694.8" width="1.0" height="1.8" fill="#888" opacity="0.28"/>
<rect x="1051.5" y="702.8" width="1.3" height="1.1" fill="#888" opacity="0.16"/>
<rect x="1057.2" y="133.7" width="0.8" height="0.9" fill="#888" opacity="0.10"/>
<rect x="1062.0" y="762.2" width="1.3" height="1.5" fill="#888" opacity="0.24"/>
<rect x="1057.1" y="342.8" width="1.0" height="0.8" fill="#888" opacity="0.13"/>
<rect x="1049.6" y="279.2" width="1.2" height="1.0" fill="#888" opacity="0.13"/>
<rect x="1061.2" y="599.6" width="1.4" height="2.1" fill="#888" opacity="0.12"/>
<rect x="1052.7" y="638.8" width="1.3" height="1.0" fill="#888" opacity="0.19"/>
<rect x="1055.0" y="18.3" width="0.7" height="2.0" fill="#888" opacity="0.23"/>
<rect x="1051.8" y="440.6" width="1.0" height="1.2" fill="#888" opacity="0.10"/>
<rect x="1058.3" y="592.5" width="0.9" height="2.0" fill="#888" opacity="0.26"/>
<rect x="1057.2" y="619.3" width="1.5" height="0.6" fill="#888" opacity="0.29"/>
<rect x="1051.9" y="596.4" width="1.2" height="0.7" fill="#888" opacity="0.21"/>
<rect x="1044.0" y="561.7" width="0.8" height="1.3" fill="#888" opacity="0.14"/>
<rect x="1059.8" y="493.1" width="0.8" height="2.0" fill="#888" opacity="0.12"/>
<rect x="1059.6" y="465.7" width="1.3" height="1.7" fill="#888" opacity="0.30"/>
<rect x="1057.3" y="359.8" width="1.1" height="1.6" fill="#888" opacity="0.14"/>
<rect x="1048.7" y="612.3" width="1.3" height="2.4" fill="#888" opacity="0.23"/>
<rect x="1053.1" y="307.8" width="1.2" height="1.8" fill="#888" opacity="0.29"/>
<rect x="1058.4" y="299.4" width="0.8" height="0.6" fill="#888" opacity="0.25"/>
<rect x="1051.4" y="307.3" width="0.6" height="1.5" fill="#888" opacity="0.28"/>
<rect x="1048.1" y="570.5" width="1.3" height="1.8" fill="#888" opacity="0.21"/>
<rect x="1047.5" y="518.6" width="1.1" height="2.4" fill="#888" opacity="0.19"/>
<rect x="1049.8" y="693.2" width="1.1" height="1.2" fill="#888" opacity="0.22"/>
<rect x="1045.4" y="152.3" width="1.4" height="1.4" fill="#888" opacity="0.26"/>
<rect x="1046.7" y="364.9" width="0.7" height="2.1" fill="#888" opacity="0.21"/>
<rect x="1050.7" y="299.9" width="0.7" height="0.9" fill="#888" opacity="0.23"/>
<rect x="1048.9" y="88.8" width="0.9" height="1.4" fill="#888" opacity="0.30"/>
<rect x="1050.5" y="314.1" width="1.5" height="1.9" fill="#888" opacity="0.18"/>
<rect x="1050.8" y="179.9" width="0.7" height="1.4" fill="#888" opacity="0.22"/>
<rect x="1044.3" y="369.2" width="0.7" height="1.7" fill="#888" opacity="0.16"/>
<rect x="1056.6" y="600.2" width="0.9" height="1.3" fill="#888" opacity="0.10"/>
<rect x="1046.7" y="478.7" width="1.3" height="0.8" fill="#888" opacity="0.29"/>
<rect x="1062.1" y="285.7" width="1.0" height="1.8" fill="#888" opacity="0.15"/>
<rect x="1050.1" y="554.2" width="1.0" height="1.4" fill="#888" opacity="0.20"/>
<rect x="1044.6" y="364.8" width="0.8" height="0.8" fill="#888" opacity="0.20"/>
<rect x="1057.5" y="406.5" width="1.0" height="1.8" fill="#888" opacity="0.17"/>
<rect x="1063.6" y="171.4" width="0.5" height="1.6" fill="#888" opacity="0.23"/>
<rect x="1050.4" y="310.9" width="0.8" height="1.0" fill="#888" opacity="0.25"/>
<rect x="1061.0" y="220.4" width="1.1" height="1.4" fill="#888" opacity="0.11"/>
<rect x="1058.1" y="411.0" width="1.5" height="2.3" fill="#888" opacity="0.28"/>
<rect x="1047.8" y="92.7" width="1.3" height="0.7" fill="#888" opacity="0.23"/>
<rect x="1045.9" y="541.7" width="0.6" height="0.7" fill="#888" opacity="0.27"/>
<rect x="1053.3" y="349.7" width="1.5" height="2.1" fill="#888" opacity="0.13"/>
<rect x="1057.5" y="300.7" width="1.0" height="1.1" fill="#888" opacity="0.13"/>
<rect x="1048.7" y="215.7" width="0.7" height="2.2" fill="#888" opacity="0.16"/>
<rect x="1054.3" y="621.7" width="1.2" height="0.8" fill="#888" opacity="0.29"/>
<circle cx="1016.5" cy="21" r="2.3" fill="#333"/><path d="M1052,46 L1060,45 L1056,51 Z" fill="#444"/>
<text transform="translate(455,535) rotate(-90) scale(0.9,1)" font-family="Liberation Sans" font-size="14.5" fill="#1a1a1a" stroke="#1a1a1a" stroke-width="0.1" textLength="303" lengthAdjust="spacing">STERN TUBE AND PROPELLER SHAFT</text>
<text transform="translate(485,402.5) rotate(-90)" font-family="Liberation Sans" font-size="11.5" font-weight="normal" font-style="italic" letter-spacing="0" fill="#1a1a1a" textLength="37" lengthAdjust="spacingAndGlyphs">Fig. 76</text>
<text transform="translate(935,557) rotate(-90) scale(0.9,1)" font-family="Liberation Sans" font-size="15" fill="#1a1a1a" stroke="#1a1a1a" stroke-width="0.1" textLength="249" lengthAdjust="spacing">OIL LUBRICATED STERN TUBE</text>
<text transform="translate(959.5,451) rotate(-90)" font-family="Liberation Sans" font-size="11" font-weight="normal" font-style="italic" letter-spacing="0" fill="#1a1a1a" textLength="33" lengthAdjust="spacingAndGlyphs">Fig. 77</text>
<rect x="259" y="85" width="96" height="16" rx="1" fill="#fff" stroke="#111" stroke-width="1.2"/>
<path d="M276,101 Q282,102 282,112 L282,145.5 M336,101 Q330,102 330,112 L330,145.5" fill="none" stroke="#111" stroke-width="1.2" stroke-linejoin="round" stroke-linecap="round"/>
<path d="M 276.5,145.0 L 333.7,145.0 L 333.7,318.0 C 333.7,322.0 332.0,323.0 329.1,323.0 C 316.5,319.0 302.2,313.0 290.8,311.5 C 285.1,311.0 279.4,312.0 276.5,313.0 Z" fill="#fff" stroke="#111" stroke-width="1.2" stroke-linejoin="round" stroke-linecap="round"/>
<path d="M 276.5,313.0 L 276.5,319.0 C 276.5,322.0 279.4,322.5 281.4,322.5" fill="none" stroke="#111" stroke-width="1.2" stroke-linejoin="round" stroke-linecap="round"/>
<path d="M 281.4,315.0 C 290.8,312.5 305.1,316.0 316.5,319.5 C 322.3,321.5 326.8,322.5 329.7,323.0 L 329.7,329.0 C 329.7,334.0 322.3,335.0 315.4,334.0 C 309.7,333.0 305.1,330.5 300.5,331.5 C 293.7,333.5 282.2,334.0 281.4,329.0 Z" fill="#fff" stroke="#111" stroke-width="1.2" stroke-linejoin="round" stroke-linecap="round"/>
<path d="M 281.6,324.5 C 290.8,321.5 302.2,326.0 308.0,331.0 C 312.0,334.0 325.1,335.0 329.7,332.0" fill="none" stroke="#111" stroke-width="1.1" stroke-linejoin="round" stroke-linecap="round"/>
<polygon points="214,189 268,189 268,272 263,272 263,327 248,327 248,298 243,298 243,282 248,282 248,228 244,222 238,222 238,200 214,200" fill="url(#hs)" stroke="#111" stroke-width="1.1" stroke-linejoin="round"/>
<polygon points="214,200 238,200 238,208 214,208" fill="url(#hx)" stroke="#111" stroke-width="0.9" stroke-linejoin="round"/>
<polygon points="342,189 397,189 397,200 372,200 372,222 366,222 362,228 362,327 347,327 347,272 342,272" fill="url(#ht)" stroke="#111" stroke-width="1.1" stroke-linejoin="round"/>
<polygon points="372,200 397,200 397,208 372,208" fill="url(#hx)" stroke="#111" stroke-width="0.9" stroke-linejoin="round"/>
<rect x="268" y="232" width="9" height="40" rx="0" fill="url(#hb)" stroke="#111" stroke-width="1"/>
<rect x="334" y="232" width="8" height="40" rx="0" fill="url(#hb)" stroke="#111" stroke-width="1"/>
<polygon points="249,166 277,166 277,200 268.5,200 268.5,174 249,174" fill="url(#hs)" stroke="#111" stroke-width="1.1" stroke-linejoin="round"/>
<polygon points="334,166 363,166 363,174 342,174 342,200 334,200" fill="url(#hs)" stroke="#111" stroke-width="1.1" stroke-linejoin="round"/>
<rect x="140" y="208" width="98" height="7.5" rx="0" fill="url(#hp)" stroke="#111" stroke-width="1.1"/>
<rect x="372" y="208" width="55" height="7" rx="0" fill="url(#hp)" stroke="#111" stroke-width="1.1"/>
<rect x="220.5" y="184" width="12" height="6" rx="0" fill="#fff" stroke="#111" stroke-width="1"/>
<rect x="222.0" y="181.5" width="9" height="2.5" rx="0" fill="#fff" stroke="#111" stroke-width="0.8"/>
<rect x="223.5" y="190" width="6" height="25" rx="0" fill="#fff" stroke="#111" stroke-width="1"/>
<line x1="226.5" y1="190" x2="226.5" y2="215" stroke="#555" stroke-width="0.8" stroke-dasharray="1.5,1.5"/>
<rect x="220.5" y="215" width="12" height="6" rx="0" fill="#fff" stroke="#111" stroke-width="1"/>
<rect x="378.0" y="182" width="12" height="6" rx="0" fill="#fff" stroke="#111" stroke-width="1"/>
<rect x="379.5" y="179.5" width="9" height="2.5" rx="0" fill="#fff" stroke="#111" stroke-width="0.8"/>
<rect x="381" y="188" width="6" height="26" rx="0" fill="#fff" stroke="#111" stroke-width="1"/>
<line x1="384" y1="188" x2="384" y2="214" stroke="#555" stroke-width="0.8" stroke-dasharray="1.5,1.5"/>
<rect x="378.0" y="214" width="12" height="6" rx="0" fill="#fff" stroke="#111" stroke-width="1"/>
<rect x="250.5" y="160" width="11" height="6" rx="0" fill="#fff" stroke="#111" stroke-width="1"/>
<rect x="252.0" y="157.5" width="8" height="2.5" rx="0" fill="#fff" stroke="#111" stroke-width="0.8"/>
<rect x="253" y="166" width="6" height="30" rx="0" fill="#fff" stroke="#111" stroke-width="1"/>
<line x1="256" y1="167" x2="256" y2="195" stroke="#444" stroke-width="1.6" stroke-dasharray="1.2,1.2"/>
<rect x="348.5" y="159" width="11" height="6" rx="0" fill="#fff" stroke="#111" stroke-width="1"/>
<rect x="350.0" y="156.5" width="8" height="2.5" rx="0" fill="#fff" stroke="#111" stroke-width="0.8"/>
<rect x="351" y="165" width="6" height="32" rx="0" fill="#fff" stroke="#111" stroke-width="1"/>
<line x1="354" y1="166" x2="354" y2="196" stroke="#444" stroke-width="1.6" stroke-dasharray="1.2,1.2"/>
<rect x="242" y="291.4" width="21" height="4.2" fill="#fff"/>
<path d="M164.5,208 L164.5,286 Q164.5,296 174,296 L263,296" fill="none" stroke="#111" stroke-width="1.1" stroke-linejoin="round" stroke-linecap="round"/>
<path d="M169.5,215 L169.5,284 Q169.5,291 176,291 L263,291" fill="none" stroke="#111" stroke-width="1.1" stroke-linejoin="round" stroke-linecap="round"/>
<rect x="163" y="190" width="9" height="18" rx="0" fill="#fff" stroke="#111" stroke-width="1.1"/>
<circle cx="167.5" cy="197" r="4.6" fill="#fff" stroke="#111" stroke-width="1.1"/>
<rect x="165" y="186" width="5" height="4" rx="0" fill="#fff" stroke="#111" stroke-width="1"/>
<rect x="172" y="194" width="18" height="4" rx="0" fill="#fff" stroke="#111" stroke-width="1"/>
<path d="M248.5,345 C253,343 258,344 263,346 L263,378 Q263,385 271.5,385 L271.5,395 L264,395 L264,582 L249,582 L249,566 L245.5,560 L245.5,530 L240.5,530 L240.5,518 L244,512 L248.5,512 Z" fill="url(#ht)" stroke="#111" stroke-width="1.1" stroke-linejoin="round" stroke-linecap="round"/>
<path d="M346.5,347 C351,345 356,346 361,345 L361,512 L365,512 L368,518 L368,530 L364,530 L364,566 L361,566 L361,582 L346,582 L346,395 L338.5,395 L338.5,385 Q346.5,385 346.5,378 Z" fill="url(#ht)" stroke="#111" stroke-width="1.1" stroke-linejoin="round" stroke-linecap="round"/>
<rect x="264" y="395" width="6" height="187" rx="0" fill="url(#hb)" stroke="#111" stroke-width="1"/>
<rect x="339" y="395" width="7" height="187" rx="0" fill="url(#hb)" stroke="#111" stroke-width="1"/>
<rect x="270" y="395" width="6" height="185" rx="0" fill="#fff" stroke="#111" stroke-width="1"/>
<rect x="333" y="395" width="6" height="185" rx="0" fill="#fff" stroke="#111" stroke-width="1"/>
<path d="M272.3,398.4 C273.5,411.6 272.3,424.8 273.5,442.4 M270.6,448.2 C274.7,456.4 270.6,464.6 274.7,475.5 M275.5,479.0 C272.9,489.0 275.5,499.0 272.9,512.2 M273.7,519.3 C271.3,531.8 273.7,544.3 271.3,560.9 M274.2,404.7 C273.9,417.7 274.2,430.7 273.9,448.0 M273.5,450.4 C272.0,465.8 273.5,481.3 272.0,501.9 M272.9,504.1 C274.1,520.7 272.9,537.3 274.1,559.4 M272.5,403.1 C274.5,420.3 272.5,437.5 274.5,460.4 M274.9,465.0 C271.0,482.4 274.9,499.7 271.0,522.8 M275.3,525.6 C272.7,535.4 275.3,545.2 272.7,558.2 M335.4,399.0 C335.3,411.8 335.4,424.7 335.3,441.8 M338.0,447.3 C336.9,460.9 338.0,474.5 336.9,492.7 M338.5,500.3 C336.9,516.8 338.5,533.3 336.9,555.3 M338.3,558.2 C338.0,574.8 338.3,591.3 338.0,578.0 M337.7,403.1 C336.4,412.9 337.7,422.6 336.4,435.5 M337.8,439.2 C338.4,447.4 337.8,455.6 338.4,466.5 M335.6,469.0 C334.3,484.9 335.6,500.8 334.3,522.0 M337.9,525.8 C333.7,541.3 337.9,556.9 333.7,577.7 M335.2,396.4 C337.9,411.5 335.2,426.5 337.9,446.6 M338.5,454.5 C335.0,467.3 338.5,480.1 335.0,497.2 M333.7,499.6 C334.5,513.4 333.7,527.2 334.5,545.6 M334.3,550.1 C333.7,564.0 334.3,577.9 333.7,578.0" fill="none" stroke="#111" stroke-width="0.7" stroke-linejoin="round" stroke-linecap="round"/>
<path d="M263,352 C267,350 272,353 276.5,352 M333.7,356 C338,357 342,354 346.5,355" fill="none" stroke="#111" stroke-width="0.9" stroke-linejoin="round" stroke-linecap="round"/>
<path d="M276.5,602.5 L276.5,356 C276.5,351 279,350 282,350 C295,350.5 318,354.5 333.7,357 L333.7,602.5 Z" fill="#fff" stroke="#111" stroke-width="1.2" stroke-linejoin="round" stroke-linecap="round"/>
<path d="M 328.8,358.0 C 319.4,360.5 305.1,357.0 293.7,353.5 C 287.9,351.5 283.4,350.5 280.5,350.0 L 280.5,344.0 C 280.5,339.0 287.9,338.0 294.8,339.0 C 300.5,340.0 305.1,342.5 309.7,341.5 C 316.5,339.5 328.0,339.0 328.8,344.0 Z" fill="#fff" stroke="#111" stroke-width="1.2" stroke-linejoin="round" stroke-linecap="round"/>
<path d="M 328.6,348.5 C 319.4,351.5 308.0,347.0 302.2,342.0 C 298.2,339.0 285.1,338.0 280.5,341.0" fill="none" stroke="#111" stroke-width="1.1" stroke-linejoin="round" stroke-linecap="round"/>
<path d="M248.5,345 Q255,341 264,343 M346,343 Q354,347 361,345" fill="none" stroke="#111" stroke-width="1" stroke-linejoin="round" stroke-linecap="round"/>
<polygon points="173,530 245.5,530 245.5,560 233,566 226,560 200,558 178,561 175,552 178,542 174,536" fill="url(#hs)" stroke="#111" stroke-width="1.1" stroke-linejoin="round"/>
<polygon points="364,530 417,530 414,538 419,546 415,554 418,561 390,560 377,566 364,566" fill="url(#hs)" stroke="#111" stroke-width="1.1" stroke-linejoin="round"/>
<rect x="233" y="566" width="16" height="16" rx="0" fill="url(#hs)" stroke="#111" stroke-width="1.1"/>
<rect x="362" y="566" width="15" height="16" rx="0" fill="url(#hs)" stroke="#111" stroke-width="1.1"/>
<rect x="229" y="568" width="4" height="12" fill="#fff" stroke="#111" stroke-width="0.9"/>
<rect x="253" y="584" width="22.5" height="12" rx="0" fill="url(#hs)" stroke="#111" stroke-width="1.1"/>
<rect x="334" y="584" width="22" height="12" rx="0" fill="url(#hs)" stroke="#111" stroke-width="1.1"/>
<polygon points="250,603.5 357.5,603.5 353,615 356,628 351,640 354,655 349,668 351,679 258,679 256,668 250,655 254,640 251,628 255,615" fill="url(#ht)" stroke="#111" stroke-width="1.1" stroke-linejoin="round"/>
<polygon points="281,604 330,604 322,678 286,678" fill="#fff" stroke="#111" stroke-width="1.1" stroke-linejoin="round"/>
<rect x="276" y="632" width="7" height="25" rx="2" fill="#fff" stroke="#111" stroke-width="1"/>
<rect x="325" y="632" width="6" height="25" rx="2" fill="#fff" stroke="#111" stroke-width="1"/>
<rect x="275" y="603" width="6" height="6" fill="#111"/><rect x="329" y="603" width="6" height="6" fill="#111"/>
<rect x="299" y="612" width="10" height="59" rx="5" fill="#fff" stroke="#111" stroke-width="1.1"/>
<circle cx="304" cy="617" r="1" fill="#111"/><circle cx="304" cy="666" r="1" fill="#111"/>
<text transform="translate(307.5,652) rotate(-90) scale(0.84,1)" font-family="Liberation Sans" font-size="8.40" font-weight="normal" fill="#111" stroke="#111" stroke-width="0.38" textLength="20.2" lengthAdjust="spacing">KEY</text>
<rect x="266" y="678" width="71.5" height="24" rx="0" fill="url(#hs)" stroke="#111" stroke-width="1.1"/>
<rect x="289" y="677" width="27" height="28" rx="0" fill="#fff" stroke="#111" stroke-width="1.1"/>
<line x1="289" y1="679" x2="316" y2="680" stroke="#111" stroke-width="0.8"/>
<line x1="289" y1="682" x2="316" y2="683" stroke="#111" stroke-width="0.8"/>
<line x1="289" y1="685" x2="316" y2="686" stroke="#111" stroke-width="0.8"/>
<line x1="289" y1="688" x2="316" y2="689" stroke="#111" stroke-width="0.8"/>
<line x1="289" y1="691" x2="316" y2="692" stroke="#111" stroke-width="0.8"/>
<line x1="289" y1="694" x2="316" y2="695" stroke="#111" stroke-width="0.8"/>
<line x1="289" y1="697" x2="316" y2="698" stroke="#111" stroke-width="0.8"/>
<line x1="289" y1="700" x2="316" y2="701" stroke="#111" stroke-width="0.8"/>
<line x1="289" y1="703" x2="316" y2="704" stroke="#111" stroke-width="0.8"/>
<rect x="266" y="668" width="4" height="34" rx="0" fill="#fff" stroke="#111" stroke-width="0.9"/>
<path d="M180.4,438.8 A123,123 0 0 1 180.9,326.2 L197.8,335.0 A104,104 0 0 0 197.3,430.2 Z" fill="url(#hs)" stroke="#111" stroke-width="1.1" stroke-linejoin="round" stroke-linecap="round"/>
<path d="M197.3,430.2 A104,104 0 0 1 197.8,335.0 L203.1,337.7 A98,98 0 0 0 202.7,427.5 Z" fill="url(#hb)" stroke="#111" stroke-width="0.9" stroke-linejoin="round" stroke-linecap="round"/>
<path d="M203.5,429.0 A98,98 0 0 1 203.5,337.0 L215.8,343.6 A84,84 0 0 0 215.8,422.4 Z" fill="#fff" stroke="#111" stroke-width="0.9" stroke-linejoin="round" stroke-linecap="round"/>
<path d="M202.8,425.5 A97,97 0 0 1 195.9,406.5 L207.5,403.6 A85,85 0 0 0 213.6,420.3 Z" fill="url(#hx)" stroke="#111" stroke-width="0.8" stroke-linejoin="round" stroke-linecap="round"/>
<path d="M194.8,401.5 A97,97 0 0 1 193.0,381.3 L205.0,381.5 A85,85 0 0 0 206.6,399.2 Z" fill="url(#hx)" stroke="#111" stroke-width="0.8" stroke-linejoin="round" stroke-linecap="round"/>
<path d="M193.2,376.2 A97,97 0 0 1 196.8,356.3 L208.3,359.6 A85,85 0 0 0 205.2,377.1 Z" fill="url(#hx)" stroke="#111" stroke-width="0.8" stroke-linejoin="round" stroke-linecap="round"/>
<path d="M198.3,351.4 A97,97 0 0 1 203.6,339.0 L214.3,344.4 A85,85 0 0 0 209.6,355.3 Z" fill="url(#hx)" stroke="#111" stroke-width="0.8" stroke-linejoin="round" stroke-linecap="round"/>
<path d="M216.5,423.7 A84,84 0 0 1 215.8,343.6 L219.4,345.4 A80,80 0 0 0 220.0,421.8 Z" fill="#fff" stroke="#111" stroke-width="0.9" stroke-linejoin="round" stroke-linecap="round"/>
<polygon points="220.0,421.8 217.5,416.7 215.2,411.5 213.4,406.1 212.0,400.6 210.9,395.0 210.3,389.4 210.0,383.7 210.2,378.0 210.7,372.4 211.7,366.8 213.0,361.2 214.8,355.8 216.9,350.6 219.4,345.4 241.4,357.2 235.2,358.7 238.3,364.3 232.3,366.7 236.1,371.8 230.5,375.0 235.1,379.6 230.0,383.5 235.2,387.4 230.7,392.0 236.3,395.1 232.6,400.3 238.6,402.6 235.6,408.3 241.9,409.7" fill="url(#ht)" stroke="#111" stroke-width="1.0" stroke-linejoin="round"/>
<rect x="215" y="368" width="9" height="29" fill="#fff"/>
<text transform="translate(222,395) rotate(-90) scale(0.84,1)" font-family="Liberation Sans" font-size="8.40" font-weight="normal" fill="#111" stroke="#111" stroke-width="0.38" textLength="32.1" lengthAdjust="spacing">SHAFT</text>
<text transform="translate(151,181) rotate(-90) scale(0.84,1)" font-family="Liberation Sans" font-size="9.00" font-weight="normal" fill="#111" stroke="#111" stroke-width="0.38" textLength="95.2" lengthAdjust="spacing">SEA WATER COCK</text>
<line x1="150" y1="183" x2="163" y2="192" stroke="#111" stroke-width="0.9"/>
<polygon points="163,192 158.8,191.0 160.6,188.5" fill="#111"/>
<text transform="translate(203,175) rotate(-90) scale(0.84,1)" font-family="Liberation Sans" font-size="9.00" font-weight="normal" fill="#111" stroke="#111" stroke-width="0.38" textLength="84.5" lengthAdjust="spacing">WOOD PACKING</text>
<path d="M199,177 L199,194 L212,202" fill="none" stroke="#111" stroke-width="0.9" stroke-linejoin="round" stroke-linecap="round"/>
<text transform="translate(197,283) rotate(-90) scale(0.84,1)" font-family="Liberation Sans" font-size="8.64" font-weight="normal" fill="#111" stroke="#111" stroke-width="0.38" textLength="63.1" lengthAdjust="spacing">AFTER PEAK</text>
<text transform="translate(206,276) rotate(-90) scale(0.84,1)" font-family="Liberation Sans" font-size="8.64" font-weight="normal" fill="#111" stroke="#111" stroke-width="0.38" textLength="54.8" lengthAdjust="spacing">BULKHEAD</text>
<line x1="202" y1="228" x2="202" y2="216" stroke="#111" stroke-width="0.9"/>
<polygon points="202,216 203.5,220.0 200.5,220.0" fill="#111"/>
<text transform="translate(381,167) rotate(-90) scale(0.84,1)" font-family="Liberation Sans" font-size="9.00" font-weight="normal" fill="#111" stroke="#111" stroke-width="0.38" textLength="39.3" lengthAdjust="spacing">GLAND</text>
<line x1="371" y1="170" x2="362" y2="172" stroke="#111" stroke-width="0.9"/>
<polygon points="362,172 365.6,169.6 366.2,172.6" fill="#111"/>
<text transform="translate(381,276) rotate(-90) scale(0.84,1)" font-family="Liberation Sans" font-size="8.64" font-weight="normal" fill="#111" stroke="#111" stroke-width="0.38" textLength="51.2" lengthAdjust="spacing">STUFFING</text>
<text transform="translate(390,262) rotate(-90) scale(0.84,1)" font-family="Liberation Sans" font-size="8.64" font-weight="normal" fill="#111" stroke="#111" stroke-width="0.38" textLength="19.0" lengthAdjust="spacing">BOX</text>
<line x1="368" y1="233" x2="341" y2="214" stroke="#111" stroke-width="0.9"/>
<polygon points="341,214 345.1,215.1 343.4,217.5" fill="#111"/>
<text transform="translate(381,319) rotate(-90) scale(0.84,1)" font-family="Liberation Sans" font-size="8.64" font-weight="normal" fill="#111" stroke="#111" stroke-width="0.38" textLength="26.2" lengthAdjust="spacing">NECK</text>
<text transform="translate(390,319) rotate(-90) scale(0.84,1)" font-family="Liberation Sans" font-size="8.64" font-weight="normal" fill="#111" stroke="#111" stroke-width="0.38" textLength="26.2" lengthAdjust="spacing">BUSH</text>
<line x1="380" y1="296" x2="341" y2="256" stroke="#111" stroke-width="0.9"/>
<polygon points="341,256 344.9,257.8 342.7,259.9" fill="#111"/>
<text transform="translate(179,519) rotate(-90) scale(0.84,1)" font-family="Liberation Sans" font-size="8.64" font-weight="normal" fill="#111" stroke="#111" stroke-width="0.38" textLength="65.5" lengthAdjust="spacing">STERN TUBE</text>
<line x1="177" y1="463" x2="178" y2="440" stroke="#111" stroke-width="0.9"/>
<polygon points="178,440 179.3,444.1 176.3,443.9" fill="#111"/>
<text transform="translate(197,508) rotate(-90) scale(0.84,1)" font-family="Liberation Sans" font-size="8.64" font-weight="normal" fill="#111" stroke="#111" stroke-width="0.38" textLength="63.1" lengthAdjust="spacing">BRASS BUSH</text>
<line x1="193" y1="455" x2="193" y2="424" stroke="#111" stroke-width="0.9"/>
<polygon points="193,424 194.5,428.0 191.5,428.0" fill="#111"/>
<text transform="translate(214,500) rotate(-90) scale(0.84,1)" font-family="Liberation Sans" font-size="8.64" font-weight="normal" fill="#111" stroke="#111" stroke-width="0.38" textLength="71.4" lengthAdjust="spacing">LIGNUM VITAE</text>
<text transform="translate(222,487) rotate(-90) scale(0.84,1)" font-family="Liberation Sans" font-size="8.64" font-weight="normal" fill="#111" stroke="#111" stroke-width="0.38" textLength="35.7" lengthAdjust="spacing">STRIPS</text>
<line x1="210" y1="440" x2="205.5" y2="425" stroke="#111" stroke-width="0.9"/>
<polygon points="205.5,425 208.1,428.4 205.2,429.3" fill="#111"/>
<text transform="translate(237,486) rotate(-90) scale(0.84,1)" font-family="Liberation Sans" font-size="8.64" font-weight="normal" fill="#111" stroke="#111" stroke-width="0.38" textLength="54.8" lengthAdjust="spacingAndGlyphs">BRASS LINER</text>
<line x1="231.5" y1="427" x2="208" y2="396" stroke="#111" stroke-width="0.9"/>
<polygon points="208,396 211.6,398.3 209.2,400.1" fill="#111"/>
<line x1="215" y1="499" x2="272" y2="471" stroke="#111" stroke-width="0.9"/>
<polygon points="272,471 269.1,474.1 267.7,471.4" fill="#111"/>
<line x1="208" y1="511" x2="264" y2="481" stroke="#111" stroke-width="0.9"/>
<polygon points="264,481 261.2,484.2 259.8,481.5" fill="#111"/>
<line x1="193" y1="525" x2="248" y2="499" stroke="#111" stroke-width="0.9"/>
<polygon points="248,499 245.0,502.1 243.7,499.3" fill="#111"/>
<text transform="translate(400,508) rotate(-90) scale(0.84,1)" font-family="Liberation Sans" font-size="8.40" font-weight="normal" fill="#111" stroke="#111" stroke-width="0.38" textLength="70.2" lengthAdjust="spacing">STERN FRAME</text>
<line x1="396" y1="510" x2="396" y2="529" stroke="#111" stroke-width="0.9"/>
<polygon points="396,529 394.5,525.0 397.5,525.0" fill="#111"/>
<text transform="translate(400,624) rotate(-90) scale(0.84,1)" font-family="Liberation Sans" font-size="8.64" font-weight="normal" fill="#111" stroke="#111" stroke-width="0.38" textLength="60.7" lengthAdjust="spacing">STERN TUBE</text>
<text transform="translate(407.5,603) rotate(-90) scale(0.84,1)" font-family="Liberation Sans" font-size="8.64" font-weight="normal" fill="#111" stroke="#111" stroke-width="0.38" textLength="20.2" lengthAdjust="spacing">NUT</text>
<line x1="394" y1="579" x2="377" y2="572" stroke="#111" stroke-width="0.9"/>
<polygon points="377,572 381.3,572.1 380.1,574.9" fill="#111"/>
<text transform="translate(197,612) rotate(-90) scale(0.84,1)" font-family="Liberation Sans" font-size="8.64" font-weight="normal" fill="#111" stroke="#111" stroke-width="0.38" textLength="45.2" lengthAdjust="spacing">LOCKING</text>
<text transform="translate(204,600) rotate(-90) scale(0.84,1)" font-family="Liberation Sans" font-size="8.64" font-weight="normal" fill="#111" stroke="#111" stroke-width="0.38" textLength="17.9" lengthAdjust="spacing">KEY</text>
<line x1="205" y1="585" x2="231" y2="576" stroke="#111" stroke-width="0.9"/>
<polygon points="231,576 227.7,578.7 226.7,575.9" fill="#111"/>
<text transform="translate(218,649) rotate(-90) scale(0.84,1)" font-family="Liberation Sans" font-size="8.64" font-weight="normal" fill="#111" stroke="#111" stroke-width="0.38" textLength="34.5" lengthAdjust="spacingAndGlyphs">RUBBER</text>
<text transform="translate(226,645) rotate(-90) scale(0.84,1)" font-family="Liberation Sans" font-size="8.64" font-weight="normal" fill="#111" stroke="#111" stroke-width="0.38" textLength="23.8" lengthAdjust="spacing">RING</text>
<line x1="226" y1="632" x2="276" y2="606" stroke="#111" stroke-width="0.9"/>
<polygon points="276,606 273.2,609.2 271.7,606.5" fill="#111"/>
<text transform="translate(238,706) rotate(-90) scale(0.84,1)" font-family="Liberation Sans" font-size="8.64" font-weight="normal" fill="#111" stroke="#111" stroke-width="0.38" textLength="46.4" lengthAdjust="spacing">LOCKING</text>
<text transform="translate(246,694) rotate(-90) scale(0.84,1)" font-family="Liberation Sans" font-size="8.64" font-weight="normal" fill="#111" stroke="#111" stroke-width="0.38" textLength="17.9" lengthAdjust="spacing">KEY</text>
<line x1="246" y1="686" x2="266" y2="688" stroke="#111" stroke-width="0.9"/>
<polygon points="266,688 261.9,689.1 262.2,686.1" fill="#111"/>
<text transform="translate(340,669) rotate(-90) scale(0.84,1)" font-family="Liberation Sans" font-size="8.64" font-weight="normal" fill="#111" stroke="#111" stroke-width="0.38" textLength="56.0" lengthAdjust="spacing">PROPELLER</text>
<text transform="translate(346,660) rotate(-90) scale(0.84,1)" font-family="Liberation Sans" font-size="8.64" font-weight="normal" fill="#111" stroke="#111" stroke-width="0.38" textLength="26.2" lengthAdjust="spacing">BOSS</text>
<text transform="translate(379,705) rotate(-90) scale(0.84,1)" font-family="Liberation Sans" font-size="8.64" font-weight="normal" fill="#111" stroke="#111" stroke-width="0.38" textLength="56.0" lengthAdjust="spacing">PROPELLER</text>
<text transform="translate(386,688) rotate(-90) scale(0.84,1)" font-family="Liberation Sans" font-size="8.64" font-weight="normal" fill="#111" stroke="#111" stroke-width="0.38" textLength="20.2" lengthAdjust="spacing">NUT</text>
<line x1="370" y1="690" x2="338" y2="690" stroke="#111" stroke-width="0.9"/>
<polygon points="338,690 342.0,688.5 342.0,691.5" fill="#111"/>
<text transform="translate(308,561) rotate(-90) scale(0.84,1)" font-family="Liberation Sans" font-size="9.36" font-weight="normal" fill="#111" stroke="#111" stroke-width="0.38" textLength="245.2" lengthAdjust="spacing">STEEL SHAFT  SHEATHED  WITH  BRASS  LINER</text>
<rect x="761" y="168" width="91" height="14.5" rx="1" fill="#fff" stroke="#111" stroke-width="1.2"/>
<path d="M776,182.5 Q781.8,184 781.8,194 M833.4,182.5 Q827.4,184 827.4,194" fill="none" stroke="#111" stroke-width="1.2" stroke-linejoin="round" stroke-linecap="round"/>
<path d="M 781.8,182.5 L 827.4,182.5 L 827.4,368.0 C 827.4,372.0 826.0,373.0 823.8,373.0 C 813.7,369.0 802.3,363.0 793.2,361.5 C 788.6,361.0 784.1,362.0 781.8,363.0 Z" fill="#fff" stroke="#111" stroke-width="1.2" stroke-linejoin="round" stroke-linecap="round"/>
<path d="M 781.8,363.0 L 781.8,369.0 C 781.8,372.0 784.1,372.5 785.7,372.5" fill="none" stroke="#111" stroke-width="1.2" stroke-linejoin="round" stroke-linecap="round"/>
<path d="M 785.7,365.0 C 793.2,362.5 804.6,366.0 813.7,369.5 C 818.3,371.5 821.9,372.5 824.2,373.0 L 824.2,379.0 C 824.2,384.0 818.3,385.0 812.8,384.0 C 808.2,383.0 804.6,380.5 801.0,381.5 C 795.5,383.5 786.4,384.0 785.7,379.0 Z" fill="#fff" stroke="#111" stroke-width="1.2" stroke-linejoin="round" stroke-linecap="round"/>
<path d="M 785.9,374.5 C 793.2,371.5 802.3,376.0 806.9,381.0 C 810.1,384.0 820.6,385.0 824.2,382.0" fill="none" stroke="#111" stroke-width="1.1" stroke-linejoin="round" stroke-linecap="round"/>
<polygon points="756,239.5 783,239.5 783,273 774,273 774,247 756,247" fill="url(#ht)" stroke="#111" stroke-width="1.1" stroke-linejoin="round"/>
<polygon points="827.4,239.5 854,239.5 854,247 836.3,247 836.3,273 827.4,273" fill="url(#ht)" stroke="#111" stroke-width="1.1" stroke-linejoin="round"/>
<polygon points="724,260.6 774,260.6 774,301.8 774,346.3 769.5,346.3 769.5,378.5 756,378.5 756,358.5 750.6,358.5 750.6,350.7 756,350.7 756,300 748,296 742.8,292 742.8,283 724,283" fill="url(#hs)" stroke="#111" stroke-width="1.1" stroke-linejoin="round"/>
<polygon points="724,269 742.8,269 742.8,276 724,276" fill="url(#hx)" stroke="#111" stroke-width="0.8" stroke-linejoin="round"/>
<polygon points="836.3,261.7 885,261.7 885,285 866,285 866,292 858,298 854,300 854,352 858,352 858,360 854,360 854,380.8 837.4,380.8 837.4,346.3 836.3,346.3" fill="url(#hs)" stroke="#111" stroke-width="1.1" stroke-linejoin="round"/>
<polygon points="866,270 885,270 885,278 866,278" fill="url(#hx)" stroke="#111" stroke-width="0.8" stroke-linejoin="round"/>
<rect x="774" y="301.8" width="8" height="44.5" rx="0" fill="url(#hb)" stroke="#111" stroke-width="1"/>
<rect x="827.4" y="307" width="9" height="39.3" rx="0" fill="url(#hb)" stroke="#111" stroke-width="1"/>
<rect x="625" y="276" width="100" height="7" rx="0" fill="url(#hq)" stroke="#111" stroke-width="1.1"/>
<rect x="885" y="279" width="34" height="7" rx="0" fill="url(#hq)" stroke="#111" stroke-width="1.1"/>
<rect x="728.5" y="255" width="11" height="6" rx="0" fill="#fff" stroke="#111" stroke-width="1"/>
<rect x="730.0" y="252.5" width="8" height="2.5" rx="0" fill="#fff" stroke="#111" stroke-width="0.8"/>
<rect x="731" y="261" width="6" height="23" rx="0" fill="#fff" stroke="#111" stroke-width="1"/>
<line x1="734" y1="261" x2="734" y2="284" stroke="#555" stroke-width="0.8" stroke-dasharray="1.5,1.5"/>
<rect x="728.5" y="284" width="11" height="6" rx="0" fill="#fff" stroke="#111" stroke-width="1"/>
<rect x="871.0" y="257" width="12" height="6" rx="0" fill="#fff" stroke="#111" stroke-width="1"/>
<rect x="872.5" y="254.5" width="9" height="2.5" rx="0" fill="#fff" stroke="#111" stroke-width="0.8"/>
<rect x="874" y="263" width="6" height="22" rx="0" fill="#fff" stroke="#111" stroke-width="1"/>
<line x1="877" y1="263" x2="877" y2="285" stroke="#555" stroke-width="0.8" stroke-dasharray="1.5,1.5"/>
<rect x="871.0" y="285" width="12" height="6" rx="0" fill="#fff" stroke="#111" stroke-width="1"/>
<rect x="760.0" y="232" width="10" height="6" rx="0" fill="#fff" stroke="#111" stroke-width="1"/>
<rect x="761.5" y="229.5" width="7" height="2.5" rx="0" fill="#fff" stroke="#111" stroke-width="0.8"/>
<rect x="762" y="238" width="6" height="32" rx="0" fill="#fff" stroke="#111" stroke-width="1"/>
<line x1="765" y1="239" x2="765" y2="269" stroke="#444" stroke-width="1.6" stroke-dasharray="1.2,1.2"/>
<rect x="840.5" y="231" width="11" height="6" rx="0" fill="#fff" stroke="#111" stroke-width="1"/>
<rect x="842.0" y="228.5" width="8" height="2.5" rx="0" fill="#fff" stroke="#111" stroke-width="0.8"/>
<rect x="843" y="237" width="6" height="33" rx="0" fill="#fff" stroke="#111" stroke-width="1"/>
<line x1="846" y1="238" x2="846" y2="269" stroke="#444" stroke-width="1.6" stroke-dasharray="1.2,1.2"/>
<rect x="600" y="197.5" width="45.5" height="60" rx="0" fill="#fff" stroke="#111" stroke-width="1.2"/>
<path d="M599,246 C589,247 589,264 600,264 L713,264" fill="none" stroke="#111" stroke-width="1.1" stroke-linejoin="round" stroke-linecap="round"/>
<path d="M596,246 C593,250 593,260 600,260 L690,260" fill="none" stroke="#111" stroke-width="1.1" stroke-linejoin="round" stroke-linecap="round"/>
<path d="M662,249 L691,249 M662,253 L691,253" fill="none" stroke="#111" stroke-width="1.1" stroke-linejoin="round" stroke-linecap="round"/>
<rect x="650" y="248" width="12" height="10" rx="0" fill="#fff" stroke="#111" stroke-width="1.1"/>
<rect x="654" y="242" width="10" height="4" rx="0" fill="#fff" stroke="#111" stroke-width="0.9"/>
<path d="M691,233 L691,398 Q691,409 701,409 L770,409" fill="none" stroke="#111" stroke-width="1.1" stroke-linejoin="round" stroke-linecap="round"/>
<path d="M696,233 L696,397 Q696,403.5 703,403.5 L770,403.5" fill="none" stroke="#111" stroke-width="1.1" stroke-linejoin="round" stroke-linecap="round"/>
<circle cx="695" cy="225" r="8" fill="#fff" stroke="#111" stroke-width="1.2"/><circle cx="695" cy="225" r="3.2" fill="#fff" stroke="#111" stroke-width="1"/>
<rect x="693" y="204" width="4" height="13" rx="0" fill="#fff" stroke="#111" stroke-width="0.9"/>
<path d="M709,255 L709,346 Q709,358.5 720,358.5 L770,358.5" fill="none" stroke="#111" stroke-width="1.1" stroke-linejoin="round" stroke-linecap="round"/>
<path d="M714,255 L714,344 Q714,354 722,354 L770,354" fill="none" stroke="#111" stroke-width="1.1" stroke-linejoin="round" stroke-linecap="round"/>
<rect x="704" y="242" width="12" height="12" rx="0" fill="#fff" stroke="#111" stroke-width="1.1"/>
<path d="M716,243 C722,240 722,236 720,233" fill="none" stroke="#111" stroke-width="2" stroke-linejoin="round" stroke-linecap="round"/>
<rect x="700" y="237" width="3" height="9" fill="#fff" stroke="#111" stroke-width="0.8"/>
<path d="M900,272 L900,350 Q900,356.3 893,356.3 L837,356.3" fill="none" stroke="#111" stroke-width="1.1" stroke-linejoin="round" stroke-linecap="round"/>
<path d="M905,272 L905,351 Q905,360.7 895,360.7 L854,360.7" fill="none" stroke="#111" stroke-width="1.1" stroke-linejoin="round" stroke-linecap="round"/>
<rect x="896" y="258" width="13" height="14" rx="0" fill="#fff" stroke="#111" stroke-width="1.1"/>
<path d="M909,260 C913,258 914,254 912,250" fill="none" stroke="#111" stroke-width="2" stroke-linejoin="round" stroke-linecap="round"/>
<rect x="891" y="253" width="3" height="10" fill="#fff" stroke="#111" stroke-width="0.8"/>
<polygon points="756,393.4 769.5,392 769.5,577.5 750,577.5 750,559 749,552 749,524 742.8,524 742.8,513.5 750,505 755,500 755,416 750.6,414 750.6,397" fill="url(#hs)" stroke="#111" stroke-width="1.1" stroke-linejoin="round"/>
<polygon points="834,392 850.7,393 850.7,502 855,508 857.4,513.5 857.4,525.7 856,525.7 856,561 850,561 850,577.5 834,577.5" fill="url(#hs)" stroke="#111" stroke-width="1.1" stroke-linejoin="round"/>
<rect x="769.5" y="396.7" width="11.5" height="20" rx="0" fill="#fff" stroke="#111" stroke-width="1"/>
<rect x="824.5" y="396.7" width="12" height="20" rx="0" fill="#fff" stroke="#111" stroke-width="1"/>
<rect x="770.6" y="416.7" width="9" height="161" fill="url(#hq)"/>
<rect x="826" y="416.7" width="8" height="161" fill="url(#hq)"/>
<rect x="777.8" y="416" width="3" height="162" fill="#111"/><rect x="825" y="416" width="2.8" height="162" fill="#111"/>
<rect x="768.3" y="449" width="2.4" height="29" fill="#fff" stroke="#111" stroke-width="0.6"/><rect x="768.3" y="513" width="2.4" height="36" fill="#fff" stroke="#111" stroke-width="0.6"/><rect x="832" y="449" width="2.4" height="29" fill="#fff" stroke="#111" stroke-width="0.6"/><rect x="832" y="513" width="2.4" height="36" fill="#fff" stroke="#111" stroke-width="0.6"/>
<path d="M781.8,611 L781.8,402 C781.8,398 783,397 786,397 C797,397.5 813,400.5 827.4,403 L827.4,611 Z" fill="#fff" stroke="#111" stroke-width="1.2" stroke-linejoin="round" stroke-linecap="round"/>
<path d="M 823.5,405.0 C 816.0,407.5 804.6,404.0 795.5,400.5 C 790.9,398.5 787.3,397.5 785.0,397.0 L 785.0,391.0 C 785.0,386.0 790.9,385.0 796.4,386.0 C 801.0,387.0 804.6,389.5 808.2,388.5 C 813.7,386.5 822.8,386.0 823.5,391.0 Z" fill="#fff" stroke="#111" stroke-width="1.2" stroke-linejoin="round" stroke-linecap="round"/>
<path d="M 823.3,395.5 C 816.0,398.5 806.9,394.0 802.3,389.0 C 799.1,386.0 788.6,385.0 785.0,388.0" fill="none" stroke="#111" stroke-width="1.1" stroke-linejoin="round" stroke-linecap="round"/>
<polygon points="684,524 749,524 749,552 736,555 732,559 727,553 700,552.5 686,553 688,545 684,535" fill="url(#ht)" stroke="#111" stroke-width="1.1" stroke-linejoin="round"/>
<path d="M856,525.7 L897.5,525.7 L894,535 L898,545 L895,552 L880,552 Q873,552 872,561 L856,561 Z" fill="url(#ht)" stroke="#111" stroke-width="1.1" stroke-linejoin="round" stroke-linecap="round"/>
<rect x="733" y="559" width="16.5" height="17" rx="0" fill="url(#hs)" stroke="#111" stroke-width="1.1"/>
<rect x="850" y="561" width="21" height="16" rx="0" fill="url(#hs)" stroke="#111" stroke-width="1.1"/>
<rect x="729.5" y="562" width="3.5" height="13" fill="#fff" stroke="#111" stroke-width="0.9"/>
<rect x="749" y="579" width="4" height="29" rx="0" fill="#fff" stroke="#111" stroke-width="1"/>
<rect x="849" y="579" width="4.5" height="29" rx="0" fill="#fff" stroke="#111" stroke-width="1"/>
<rect x="753" y="585.6" width="26" height="4.5" rx="0" fill="url(#hb)" stroke="#111" stroke-width="0.9"/>
<rect x="824.6" y="585.6" width="24.5" height="4.5" rx="0" fill="url(#hb)" stroke="#111" stroke-width="0.9"/>
<rect x="756.7" y="592.3" width="19" height="12" rx="0" fill="url(#hx)" stroke="#111" stroke-width="1"/>
<rect x="828.5" y="592.3" width="19" height="12" rx="0" fill="url(#hx)" stroke="#111" stroke-width="1"/>
<rect x="741" y="605.6" width="38" height="4.5" rx="0" fill="url(#hb)" stroke="#111" stroke-width="0.9"/>
<rect x="824.6" y="605.6" width="34.4" height="4.5" rx="0" fill="url(#hb)" stroke="#111" stroke-width="0.9"/>
<path d="M737.8,611.2 L860,611.2 C864,630 866,650 852,668 C847,674 840,678 835.7,679 L757.8,679 C747,672 738,660 735.5,640 C734.5,628 736,618 737.8,611.2 Z" fill="url(#ht)" stroke="#111" stroke-width="1.2" stroke-linejoin="round" stroke-linecap="round"/>
<polygon points="779,611.2 824.6,611.2 818,679 783.4,679" fill="#fff" stroke="#111" stroke-width="1.1" stroke-linejoin="round"/>
<rect x="770" y="633.4" width="11" height="21.2" rx="2" fill="#fff" stroke="#111" stroke-width="1"/>
<rect x="821.2" y="633.4" width="10" height="21.2" rx="2" fill="#fff" stroke="#111" stroke-width="1"/>
<rect x="794.5" y="619" width="10" height="53.4" rx="5" fill="#fff" stroke="#111" stroke-width="1.1"/>
<circle cx="799.5" cy="625" r="1" fill="#111"/><circle cx="799.5" cy="666" r="1" fill="#111"/>
<text transform="translate(803,655) rotate(-90) scale(0.84,1)" font-family="Liberation Sans" font-size="8.40" font-weight="normal" fill="#111" stroke="#111" stroke-width="0.38" textLength="20.2" lengthAdjust="spacing">KEY</text>
<rect x="759" y="679" width="76.7" height="26.8" rx="0" fill="url(#hs)" stroke="#111" stroke-width="1.1"/>
<rect x="785.6" y="678" width="26.7" height="31" rx="0" fill="#fff" stroke="#111" stroke-width="1.1"/>
<line x1="785.6" y1="681.0" x2="812.3" y2="682.0" stroke="#111" stroke-width="0.8"/>
<line x1="785.6" y1="683.9" x2="812.3" y2="684.9" stroke="#111" stroke-width="0.8"/>
<line x1="785.6" y1="686.8" x2="812.3" y2="687.8" stroke="#111" stroke-width="0.8"/>
<line x1="785.6" y1="689.7" x2="812.3" y2="690.7" stroke="#111" stroke-width="0.8"/>
<line x1="785.6" y1="692.6" x2="812.3" y2="693.6" stroke="#111" stroke-width="0.8"/>
<line x1="785.6" y1="695.5" x2="812.3" y2="696.5" stroke="#111" stroke-width="0.8"/>
<line x1="785.6" y1="698.4" x2="812.3" y2="699.4" stroke="#111" stroke-width="0.8"/>
<line x1="785.6" y1="701.3" x2="812.3" y2="702.3" stroke="#111" stroke-width="0.8"/>
<line x1="785.6" y1="704.2" x2="812.3" y2="705.2" stroke="#111" stroke-width="0.8"/>
<line x1="785.6" y1="707.1" x2="812.3" y2="708.1" stroke="#111" stroke-width="0.8"/>
<rect x="759" y="673" width="5" height="31" rx="0" fill="#fff" stroke="#111" stroke-width="0.9"/>
<text transform="translate(621,246.5) rotate(-90) scale(0.84,1)" font-family="Liberation Sans" font-size="8.40" font-weight="normal" fill="#111" stroke="#111" stroke-width="0.38" textLength="45.2" lengthAdjust="spacing">GRAVITY</text>
<text transform="translate(629.5,236) rotate(-90) scale(0.84,1)" font-family="Liberation Sans" font-size="8.40" font-weight="normal" fill="#111" stroke="#111" stroke-width="0.38" textLength="25.0" lengthAdjust="spacing">TANK</text>
<text transform="translate(657.5,224) rotate(-90) scale(0.84,1)" font-family="Liberation Sans" font-size="8.64" font-weight="normal" fill="#111" stroke="#111" stroke-width="0.38" textLength="28.6" lengthAdjust="spacing">COCK</text>
<line x1="654" y1="226" x2="654" y2="241" stroke="#111" stroke-width="0.9"/>
<polygon points="654,241 652.5,237.0 655.5,237.0" fill="#111"/>
<text transform="translate(675,214) rotate(-90) scale(0.84,1)" font-family="Liberation Sans" font-size="8.64" font-weight="normal" fill="#111" stroke="#111" stroke-width="0.38" textLength="23.8" lengthAdjust="spacingAndGlyphs">PUMP</text>
<line x1="673" y1="215" x2="689" y2="221" stroke="#111" stroke-width="0.9"/>
<polygon points="689,221 684.7,221.0 685.8,218.2" fill="#111"/>
<text transform="translate(691,201.5) rotate(-90) scale(0.84,1)" font-family="Liberation Sans" font-size="8.40" font-weight="normal" fill="#111" stroke="#111" stroke-width="0.38" textLength="26.2" lengthAdjust="spacing">FROM</text>
<text transform="translate(698.5,199.7) rotate(-90) scale(0.84,1)" font-family="Liberation Sans" font-size="8.40" font-weight="normal" fill="#111" stroke="#111" stroke-width="0.38" textLength="15.5" lengthAdjust="spacing">OIL</text>
<text transform="translate(706,211) rotate(-90) scale(0.84,1)" font-family="Liberation Sans" font-size="8.40" font-weight="normal" fill="#111" stroke="#111" stroke-width="0.38" textLength="47.6" lengthAdjust="spacing">STORAGE</text>
<line x1="695" y1="201" x2="695" y2="216" stroke="#111" stroke-width="0.9"/>
<polygon points="695,216 693.5,212.0 696.5,212.0" fill="#111"/>
<text transform="translate(720,225) rotate(-90) scale(0.84,1)" font-family="Liberation Sans" font-size="8.64" font-weight="normal" fill="#111" stroke="#111" stroke-width="0.38" textLength="60.7" lengthAdjust="spacing">TEST COCK</text>
<line x1="718" y1="227" x2="714" y2="240" stroke="#111" stroke-width="0.9"/>
<polygon points="714,240 713.7,235.7 716.6,236.6" fill="#111"/>
<text transform="translate(749,232.5) rotate(-90) scale(0.84,1)" font-family="Liberation Sans" font-size="8.64" font-weight="normal" fill="#111" stroke="#111" stroke-width="0.38" textLength="28.6" lengthAdjust="spacingAndGlyphs">GLAND</text>
<line x1="748" y1="234" x2="756" y2="241" stroke="#111" stroke-width="0.9"/>
<polygon points="756,241 752.0,239.5 754.0,237.2" fill="#111"/>
<text transform="translate(599,340) rotate(-90) scale(0.84,1)" font-family="Liberation Sans" font-size="8.64" font-weight="normal" fill="#111" stroke="#111" stroke-width="0.38" textLength="45.2" lengthAdjust="spacing">AIR VENT</text>
<text transform="translate(606,325) rotate(-90) scale(0.84,1)" font-family="Liberation Sans" font-size="8.64" font-weight="normal" fill="#111" stroke="#111" stroke-width="0.38" textLength="17.9" lengthAdjust="spacingAndGlyphs">AND</text>
<text transform="translate(614,355) rotate(-90) scale(0.84,1)" font-family="Liberation Sans" font-size="8.64" font-weight="normal" fill="#111" stroke="#111" stroke-width="0.38" textLength="78.6" lengthAdjust="spacing">OIL OVERFLOW</text>
<line x1="603" y1="285" x2="603" y2="266" stroke="#111" stroke-width="0.9"/>
<polygon points="603,266 604.5,270.0 601.5,270.0" fill="#111"/>
<text transform="translate(640,372) rotate(-90) scale(0.84,1)" font-family="Liberation Sans" font-size="8.64" font-weight="normal" fill="#111" stroke="#111" stroke-width="0.38" textLength="67.9" lengthAdjust="spacing">AFTER PEAK</text>
<text transform="translate(648,364) rotate(-90) scale(0.84,1)" font-family="Liberation Sans" font-size="8.64" font-weight="normal" fill="#111" stroke="#111" stroke-width="0.38" textLength="53.6" lengthAdjust="spacing">BULKHEAD</text>
<line x1="641" y1="313" x2="641" y2="284" stroke="#111" stroke-width="0.9"/>
<polygon points="641,284 642.5,288.0 639.5,288.0" fill="#111"/>
<text transform="translate(684,401) rotate(-90) scale(0.84,1)" font-family="Liberation Sans" font-size="8.64" font-weight="normal" fill="#111" stroke="#111" stroke-width="0.38" textLength="90.5" lengthAdjust="spacing">OIL SUPPLY PIPE</text>
<line x1="684" y1="322" x2="691" y2="310" stroke="#111" stroke-width="0.9"/>
<polygon points="691,310 690.3,314.2 687.7,312.7" fill="#111"/>
<text transform="translate(729,340) rotate(-90) scale(0.84,1)" font-family="Liberation Sans" font-size="8.64" font-weight="normal" fill="#111" stroke="#111" stroke-width="0.38" textLength="39.3" lengthAdjust="spacing">AIR PIPE</text>
<line x1="722" y1="308" x2="712" y2="300" stroke="#111" stroke-width="0.9"/>
<polygon points="712,300 716.1,301.3 714.2,303.7" fill="#111"/>
<text transform="translate(746,349) rotate(-90) scale(0.84,1)" font-family="Liberation Sans" font-size="8.64" font-weight="normal" fill="#111" stroke="#111" stroke-width="0.38" textLength="47.6" lengthAdjust="spacingAndGlyphs">NECK BUSH</text>
<line x1="746" y1="318" x2="776" y2="313" stroke="#111" stroke-width="0.9"/>
<polygon points="776,313 772.3,315.2 771.8,312.2" fill="#111"/>
<text transform="translate(870,341) rotate(-90) scale(0.84,1)" font-family="Liberation Sans" font-size="8.64" font-weight="normal" fill="#111" stroke="#111" stroke-width="0.38" textLength="42.9" lengthAdjust="spacingAndGlyphs">STUFFING</text>
<text transform="translate(877.5,335) rotate(-90) scale(0.84,1)" font-family="Liberation Sans" font-size="8.64" font-weight="normal" fill="#111" stroke="#111" stroke-width="0.38" textLength="17.9" lengthAdjust="spacingAndGlyphs">BOX</text>
<line x1="864" y1="300" x2="837.5" y2="289" stroke="#111" stroke-width="0.9"/>
<polygon points="837.5,289 841.8,289.1 840.6,291.9" fill="#111"/>
<text transform="translate(910,246) rotate(-90) scale(0.84,1)" font-family="Liberation Sans" font-size="8.64" font-weight="normal" fill="#111" stroke="#111" stroke-width="0.38" textLength="67.9" lengthAdjust="spacing">DRAIN COCK</text>
<line x1="904" y1="248" x2="904" y2="257" stroke="#111" stroke-width="0.9"/>
<polygon points="904,257 902.5,253.0 905.5,253.0" fill="#111"/>
<text transform="translate(864,428) rotate(-90) scale(0.84,1)" font-family="Liberation Sans" font-size="8.64" font-weight="normal" fill="#111" stroke="#111" stroke-width="0.38" textLength="59.5" lengthAdjust="spacing">DRAIN PIPE</text>
<line x1="861" y1="376" x2="861" y2="362" stroke="#111" stroke-width="0.9"/>
<polygon points="861,362 862.5,366.0 859.5,366.0" fill="#111"/>
<text transform="translate(878.3,506.5) rotate(-90) scale(0.84,1)" font-family="Liberation Sans" font-size="8.64" font-weight="normal" fill="#111" stroke="#111" stroke-width="0.38" textLength="71.4" lengthAdjust="spacing">BRONZE BUSH</text>
<text transform="translate(887,522) rotate(-90) scale(0.84,1)" font-family="Liberation Sans" font-size="8.64" font-weight="normal" fill="#111" stroke="#111" stroke-width="0.38" textLength="107.1" lengthAdjust="spacing">WHITE METAL LINED</text>
<text transform="translate(894.7,522) rotate(-90) scale(0.84,1)" font-family="Liberation Sans" font-size="8.64" font-weight="normal" fill="#111" stroke="#111" stroke-width="0.38" textLength="114.3" lengthAdjust="spacing">WITH LONGITUDINAL</text>
<text transform="translate(902,506.5) rotate(-90) scale(0.84,1)" font-family="Liberation Sans" font-size="8.64" font-weight="normal" fill="#111" stroke="#111" stroke-width="0.38" textLength="75.0" lengthAdjust="spacing">OIL GROOVES</text>
<line x1="872" y1="485" x2="832" y2="490" stroke="#111" stroke-width="0.9"/>
<text transform="translate(805,497.5) rotate(-90) scale(0.84,1)" font-family="Liberation Sans" font-size="8.64" font-weight="normal" fill="#111" stroke="#111" stroke-width="0.38" textLength="32.1" lengthAdjust="spacing">SHAFT</text>
<text transform="translate(694,505) rotate(-90) scale(0.84,1)" font-family="Liberation Sans" font-size="8.64" font-weight="normal" fill="#111" stroke="#111" stroke-width="0.38" textLength="70.2" lengthAdjust="spacing">STERN FRAME</text>
<line x1="691" y1="503" x2="696" y2="524" stroke="#111" stroke-width="0.9"/>
<polygon points="696,524 693.6,520.5 696.6,519.8" fill="#111"/>
<text transform="translate(736,491) rotate(-90) scale(0.84,1)" font-family="Liberation Sans" font-size="8.64" font-weight="normal" fill="#111" stroke="#111" stroke-width="0.38" textLength="66.7" lengthAdjust="spacing">STERN TUBE</text>
<line x1="737" y1="493" x2="752" y2="503" stroke="#111" stroke-width="0.9"/>
<polygon points="752,503 747.8,502.0 749.5,499.5" fill="#111"/>
<text transform="translate(697.5,602.5) rotate(-90) scale(0.84,1)" font-family="Liberation Sans" font-size="8.64" font-weight="normal" fill="#111" stroke="#111" stroke-width="0.38" textLength="45.2" lengthAdjust="spacing">LOCKING</text>
<text transform="translate(705,590) rotate(-90) scale(0.84,1)" font-family="Liberation Sans" font-size="8.64" font-weight="normal" fill="#111" stroke="#111" stroke-width="0.38" textLength="15.5" lengthAdjust="spacingAndGlyphs">KEY</text>
<line x1="705" y1="578" x2="730" y2="568" stroke="#111" stroke-width="0.9"/>
<polygon points="730,568 726.9,570.9 725.7,568.1" fill="#111"/>
<text transform="translate(720,665.5) rotate(-90) scale(0.84,1)" font-family="Liberation Sans" font-size="8.64" font-weight="normal" fill="#111" stroke="#111" stroke-width="0.38" textLength="81.0" lengthAdjust="spacing">SPRING LOADED</text>
<text transform="translate(727.5,643) rotate(-90) scale(0.84,1)" font-family="Liberation Sans" font-size="8.64" font-weight="normal" fill="#111" stroke="#111" stroke-width="0.38" textLength="35.7" lengthAdjust="spacing">GLAND</text>
<line x1="727" y1="626" x2="748" y2="611" stroke="#111" stroke-width="0.9"/>
<text transform="translate(901,617.5) rotate(-90) scale(0.84,1)" font-family="Liberation Sans" font-size="8.64" font-weight="normal" fill="#111" stroke="#111" stroke-width="0.38" textLength="61.9" lengthAdjust="spacing">STERN TUBE</text>
<text transform="translate(909,600) rotate(-90) scale(0.84,1)" font-family="Liberation Sans" font-size="8.64" font-weight="normal" fill="#111" stroke="#111" stroke-width="0.38" textLength="20.2" lengthAdjust="spacing">NUT</text>
<line x1="892" y1="585" x2="872" y2="572" stroke="#111" stroke-width="0.9"/>
<polygon points="872,572 876.2,572.9 874.5,575.5" fill="#111"/>
<text transform="translate(879,635.5) rotate(-90) scale(0.84,1)" font-family="Liberation Sans" font-size="8.64" font-weight="normal" fill="#111" stroke="#111" stroke-width="0.38" textLength="31.0" lengthAdjust="spacingAndGlyphs">GUARD</text>
<text transform="translate(886,634) rotate(-90) scale(0.84,1)" font-family="Liberation Sans" font-size="8.64" font-weight="normal" fill="#111" stroke="#111" stroke-width="0.38" textLength="23.8" lengthAdjust="spacing">RING</text>
<line x1="872" y1="612" x2="854" y2="598" stroke="#111" stroke-width="0.9"/>
<polygon points="854,598 858.1,599.3 856.2,601.7" fill="#111"/>
<text transform="translate(843,672) rotate(-90) scale(0.84,1)" font-family="Liberation Sans" font-size="8.64" font-weight="normal" fill="#111" stroke="#111" stroke-width="0.38" textLength="58.3" lengthAdjust="spacing">PROPELLER</text>
<text transform="translate(849,660) rotate(-90) scale(0.84,1)" font-family="Liberation Sans" font-size="8.64" font-weight="normal" fill="#111" stroke="#111" stroke-width="0.38" textLength="26.2" lengthAdjust="spacing">BOSS</text>
<text transform="translate(864,709) rotate(-90) scale(0.84,1)" font-family="Liberation Sans" font-size="8.64" font-weight="normal" fill="#111" stroke="#111" stroke-width="0.38" textLength="51.2" lengthAdjust="spacingAndGlyphs">PROPELLER</text>
<text transform="translate(870,690) rotate(-90) scale(0.84,1)" font-family="Liberation Sans" font-size="8.64" font-weight="normal" fill="#111" stroke="#111" stroke-width="0.38" textLength="20.2" lengthAdjust="spacing">NUT</text>
<line x1="857" y1="690" x2="836" y2="692" stroke="#111" stroke-width="0.9"/>
<polygon points="836,692 839.8,690.1 840.1,693.1" fill="#111"/>
<text transform="translate(735.5,709) rotate(-90) scale(0.84,1)" font-family="Liberation Sans" font-size="8.64" font-weight="normal" fill="#111" stroke="#111" stroke-width="0.38" textLength="44.0" lengthAdjust="spacing">LOCKING</text>
<text transform="translate(741.5,698) rotate(-90) scale(0.84,1)" font-family="Liberation Sans" font-size="8.64" font-weight="normal" fill="#111" stroke="#111" stroke-width="0.38" textLength="17.9" lengthAdjust="spacing">KEY</text>
<line x1="742.5" y1="685.5" x2="759" y2="682" stroke="#111" stroke-width="0.9"/>
<polygon points="759,682 755.4,684.3 754.8,681.3" fill="#111"/>
<mask id="wmmask" maskUnits="userSpaceOnUse" x="0" y="0" width="1067" height="764"><rect width="1067" height="764" fill="#fff"/><g font-family="Liberation Serif" font-weight="bold" font-size="107" fill="#000" stroke="#000" stroke-width="8" stroke-linejoin="round"><text transform="translate(173.9,720.5) scale(0.687,1)" x="0.00" y="0">S</text><text transform="translate(230.5,720.5) scale(0.755,1)" x="0.00" y="0">E</text><text transform="translate(293.4,720.5) scale(0.914,1)" x="0.00" y="0">A</text><text transform="translate(377.5,720.5) scale(0.876,1)" x="0.00" y="0">T</text><text transform="translate(441.5,720.5) scale(0.925,1)" x="0.00" y="0">R</text><text transform="translate(512.8,720.5) scale(0.922,1)" x="0.00" y="0">A</text><text transform="translate(578.8,720.5) scale(0.731,1)" x="0.00" y="0">C</text><text transform="translate(646.6,720.5) scale(0.862,1)" x="0.00" y="0">K</text><text transform="translate(727.1,720.5) scale(0.711,1)" x="0.00" y="0">E</text><text transform="translate(788.8,720.5) scale(0.829,1)" x="0.00" y="0">R</text><text transform="translate(903.2,720.5) scale(0.865,1)" x="0.00" y="0">R</text><text transform="translate(980.4,720.5) scale(0.831,1)" x="0.00" y="0">U</text></g></mask>
<g style="mix-blend-mode:multiply"><polygon points="77.6,609.0 70.0,638.1 53.8,612.8 55.6,642.8 32.3,623.7 43.3,651.7 15.3,640.7 34.4,664.0 4.4,662.2 29.7,678.4 0.6,686.0 29.7,693.6 4.4,709.8 34.4,708.0 15.3,731.3 43.3,720.3 32.3,748.3 55.6,729.2 53.8,759.2 70.0,733.9 77.6,763.0 85.2,733.9 101.4,759.2 99.6,729.2 122.9,748.3 111.9,720.3 139.9,731.3 120.8,708.0 150.8,709.8 125.5,693.6 154.6,686.0 125.5,678.4 150.8,662.2 120.8,664.0 139.9,640.7 111.9,651.7 122.9,623.7 99.6,642.8 101.4,612.8 85.2,638.1" fill="#66a9cc"/><path d="M35.099999999999994,686 A42.3,42.3 0 0 1 120.1,686 Z" fill="#fff"/><g font-family="Liberation Serif" font-weight="bold" font-size="107" clip-path="url(#botc)" fill="#66a9cc" stroke="#66a9cc" stroke-width="13" stroke-linejoin="round"><text transform="translate(173.9,720.5) scale(0.687,1)" x="0.00" y="0">S</text><text transform="translate(230.5,720.5) scale(0.755,1)" x="0.00" y="0">E</text><text transform="translate(293.4,720.5) scale(0.914,1)" x="0.00" y="0">A</text><text transform="translate(377.5,720.5) scale(0.876,1)" x="0.00" y="0">T</text><text transform="translate(441.5,720.5) scale(0.925,1)" x="0.00" y="0">R</text><text transform="translate(512.8,720.5) scale(0.922,1)" x="0.00" y="0">A</text><text transform="translate(578.8,720.5) scale(0.731,1)" x="0.00" y="0">C</text><text transform="translate(646.6,720.5) scale(0.862,1)" x="0.00" y="0">K</text><text transform="translate(727.1,720.5) scale(0.711,1)" x="0.00" y="0">E</text><text transform="translate(788.8,720.5) scale(0.829,1)" x="0.00" y="0">R</text><text transform="translate(903.2,720.5) scale(0.865,1)" x="0.00" y="0">R</text><text transform="translate(980.4,720.5) scale(0.831,1)" x="0.00" y="0">U</text></g><g clip-path="url(#topc)"><g mask="url(#wmmask)" font-family="Liberation Serif" font-weight="bold" font-size="107" fill="#66a9cc" stroke="#66a9cc" stroke-width="13" stroke-linejoin="round"><text transform="translate(173.9,720.5) scale(0.687,1)" x="0.00" y="0">S</text><text transform="translate(230.5,720.5) scale(0.755,1)" x="0.00" y="0">E</text><text transform="translate(293.4,720.5) scale(0.914,1)" x="0.00" y="0">A</text><text transform="translate(377.5,720.5) scale(0.876,1)" x="0.00" y="0">T</text><text transform="translate(441.5,720.5) scale(0.925,1)" x="0.00" y="0">R</text><text transform="translate(512.8,720.5) scale(0.922,1)" x="0.00" y="0">A</text><text transform="translate(578.8,720.5) scale(0.731,1)" x="0.00" y="0">C</text><text transform="translate(646.6,720.5) scale(0.862,1)" x="0.00" y="0">K</text><text transform="translate(727.1,720.5) scale(0.711,1)" x="0.00" y="0">E</text><text transform="translate(788.8,720.5) scale(0.829,1)" x="0.00" y="0">R</text><text transform="translate(903.2,720.5) scale(0.865,1)" x="0.00" y="0">R</text><text transform="translate(980.4,720.5) scale(0.831,1)" x="0.00" y="0">U</text></g></g><circle cx="881" cy="715" r="13" fill="#66a9cc"/></g></svg></body></html>
